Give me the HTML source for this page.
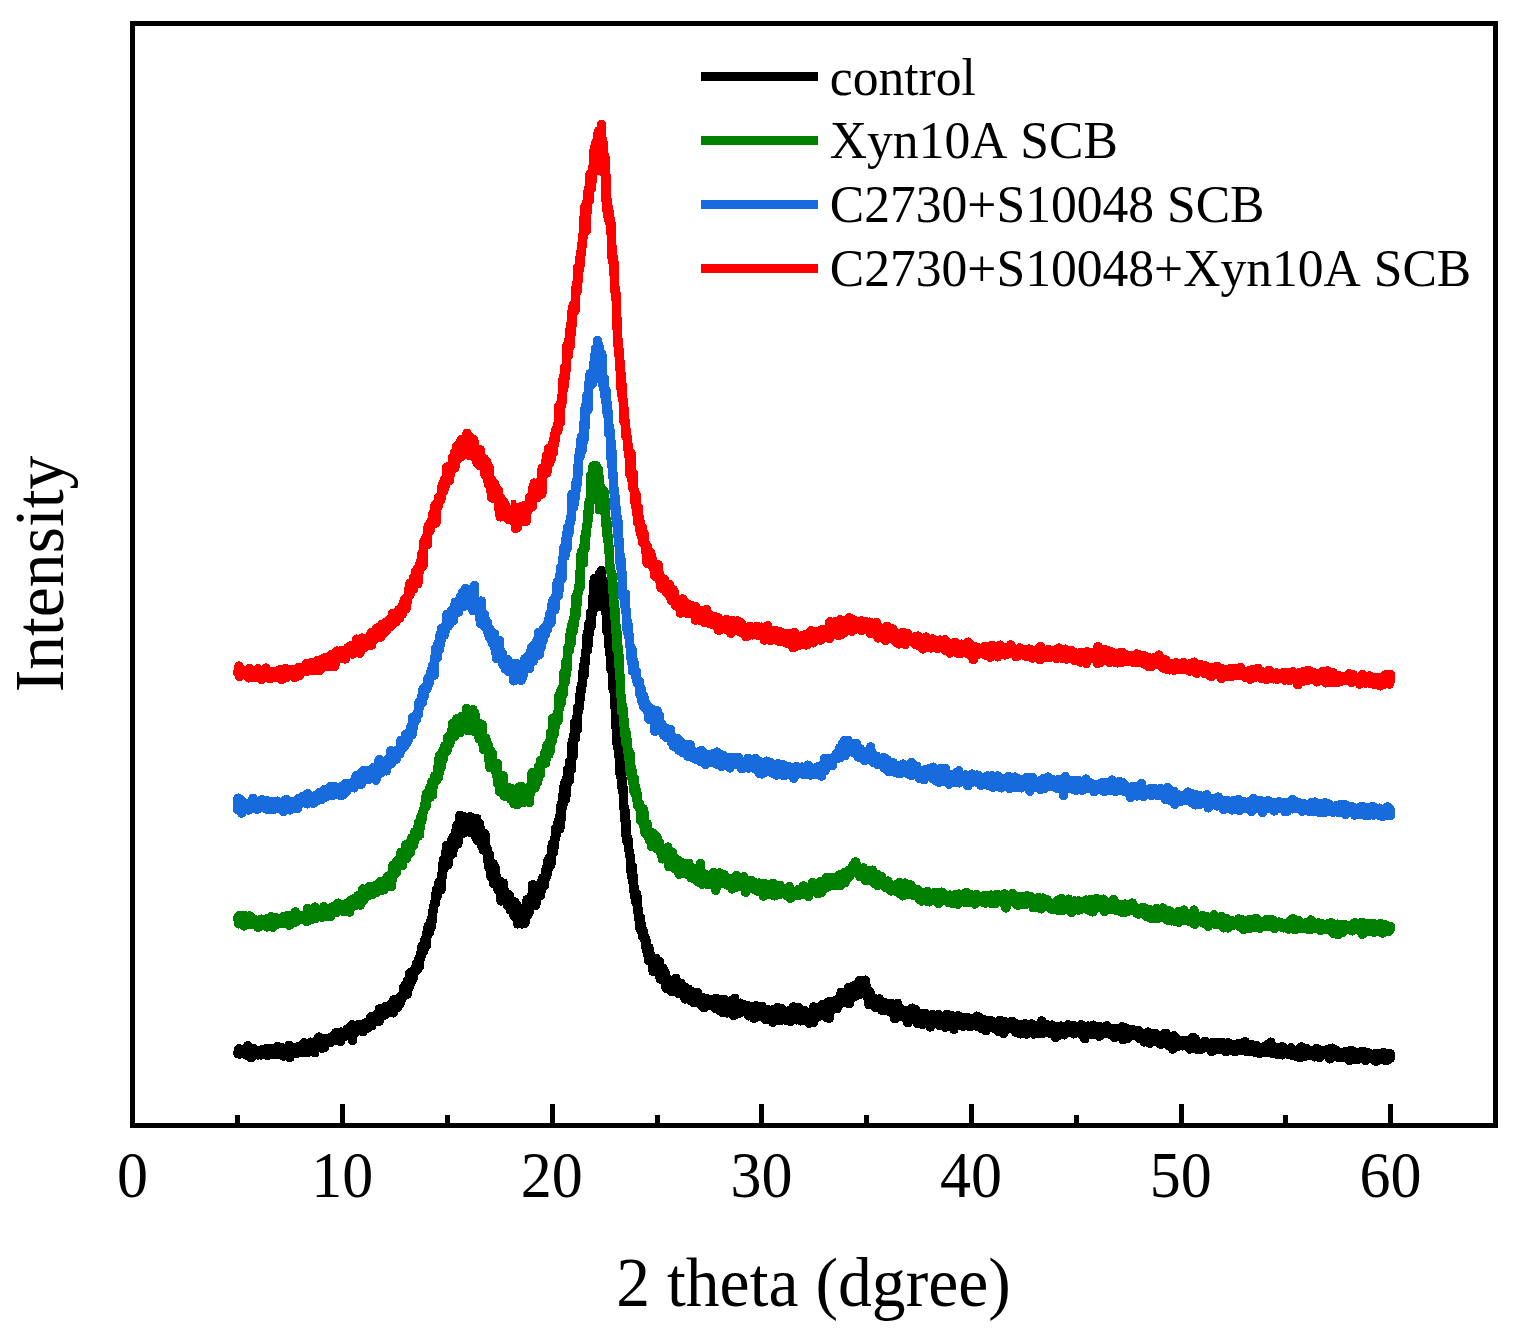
<!DOCTYPE html>
<html lang="en"><head><meta charset="utf-8"><title>XRD patterns</title>
<style>
html,body{margin:0;padding:0;background:#fff;}
body{width:1513px;height:1333px;overflow:hidden;}
svg{display:block;}
text{font-family:"Liberation Serif",serif;fill:#000;font-kerning:none;}
.c{fill:none;stroke-linejoin:round;stroke-linecap:round;}
</style></head><body>
<svg width="1513" height="1333" viewBox="0 0 1513 1333">
<rect x="0" y="0" width="1513" height="1333" fill="#fff"/>
<g class="c" shape-rendering="crispEdges" stroke="#000000">
<polyline stroke-width="9.5" points="237.7,1052.7 238.1,1053.8 238.5,1052.6 239.0,1048.7 239.4,1054.1 239.8,1053.0 240.2,1050.6 240.6,1053.3 241.1,1052.8 241.5,1052.7 241.9,1052.1 242.3,1053.3 242.7,1050.2 243.2,1051.7 243.6,1050.9 244.0,1053.5 244.4,1052.2 244.8,1051.4 245.3,1050.3 245.7,1051.5 246.1,1052.2 246.5,1051.5 246.9,1055.3 247.4,1054.7 247.8,1045.7 248.2,1047.7 248.6,1051.9 249.0,1051.3 249.5,1052.8 249.9,1052.9 250.3,1057.5 250.7,1049.7 251.1,1051.5 251.6,1057.3 252.0,1054.0 252.4,1054.1 252.8,1051.2 253.2,1048.5 253.7,1052.9 254.1,1052.8 254.5,1049.6 254.9,1050.9 255.3,1052.4 255.8,1050.3 256.2,1052.4 256.6,1052.9 257.0,1052.8 257.4,1051.5 257.9,1054.1 258.3,1054.9 258.7,1053.5 259.1,1050.8 259.5,1054.5 260.0,1051.6 260.4,1054.9 260.8,1050.2 261.2,1054.9 261.6,1052.7 262.1,1049.7 262.5,1051.9 262.9,1052.8 263.3,1053.3 263.7,1050.3 264.2,1049.9 264.6,1053.1 265.0,1051.4 265.4,1053.1 265.8,1054.4 266.3,1048.5 266.7,1053.1 267.1,1055.4 267.5,1051.7 267.9,1050.5 268.4,1054.2 268.8,1053.0 269.2,1054.5 269.6,1051.5 270.0,1048.8 270.5,1052.0 270.9,1051.2 271.3,1054.1 271.7,1052.7 272.1,1048.3 272.6,1049.3 273.0,1054.3 273.4,1053.8 273.8,1050.6 274.2,1052.1 274.7,1053.2 275.1,1053.2 275.5,1054.2 275.9,1052.7 276.3,1051.8 276.8,1051.4 277.2,1054.5 277.6,1046.5 278.0,1051.6 278.4,1052.0 278.9,1048.5 279.3,1052.7 279.7,1050.3 280.1,1053.9 280.5,1051.5 281.0,1053.4 281.4,1054.7 281.8,1052.7 282.2,1049.6 282.6,1048.1 283.1,1056.0 283.5,1051.4 283.9,1050.0 284.3,1052.0 284.7,1051.2 285.2,1053.7 285.6,1051.7 286.0,1051.6 286.4,1049.8 286.8,1052.7 287.3,1049.0 287.7,1053.1 288.1,1055.2 288.5,1047.8 288.9,1045.4 289.4,1052.9 289.8,1057.5 290.2,1048.9 290.6,1048.2 291.0,1052.6 291.5,1049.0 291.9,1049.7 292.3,1050.0 292.7,1052.1 293.1,1049.7 293.6,1051.2 294.0,1050.0 294.4,1048.3 294.8,1049.5 295.2,1047.8 295.7,1050.1 296.1,1047.2 296.5,1047.2 296.9,1053.4 297.3,1049.5 297.8,1049.4 298.2,1050.7 298.6,1048.3 299.0,1048.7 299.4,1050.2 299.9,1049.8 300.3,1046.1 300.7,1051.0 301.1,1047.3 301.5,1046.1 302.0,1046.4 302.4,1047.5 302.8,1052.4 303.2,1045.4 303.6,1048.6 304.1,1042.8 304.5,1048.0 304.9,1050.1 305.3,1047.2 305.7,1046.1 306.2,1048.2 306.6,1049.3 307.0,1049.1 307.4,1052.3 307.8,1047.7 308.3,1045.6 308.7,1046.7 309.1,1046.7 309.5,1047.1 309.9,1046.6 310.4,1047.0 310.8,1042.2 311.2,1048.4 311.6,1044.8 312.0,1043.1 312.5,1047.6 312.9,1049.2 313.3,1047.0 313.7,1046.0 314.1,1043.1 314.6,1052.7 315.0,1047.5 315.4,1042.2 315.8,1043.0 316.2,1045.1 316.7,1040.7 317.1,1045.0 317.5,1043.3 317.9,1047.5 318.3,1046.7 318.8,1037.1 319.2,1044.1 319.6,1039.6 320.0,1046.6 320.4,1044.0 320.9,1044.9 321.3,1040.6 321.7,1047.9 322.1,1048.3 322.5,1040.2 323.0,1043.8 323.4,1040.9 323.8,1042.5 324.2,1039.1 324.6,1047.2 325.1,1039.6 325.5,1041.3 325.9,1043.2 326.3,1040.1 326.7,1041.0 327.2,1040.1 327.6,1041.1 328.0,1038.2 328.4,1040.0 328.8,1040.5 329.3,1040.0 329.7,1040.9 330.1,1039.8 330.5,1042.5 330.9,1039.5 331.4,1039.8 331.8,1038.2 332.2,1038.4 332.6,1036.3 333.0,1040.9 333.5,1036.3 333.9,1037.1 334.3,1039.9 334.7,1039.9 335.1,1037.6 335.6,1033.0 336.0,1039.4 336.4,1038.8 336.8,1034.2 337.2,1039.9 337.7,1035.7 338.1,1034.4 338.5,1037.6 338.9,1036.6 339.3,1037.5 339.8,1032.4 340.2,1041.6 340.6,1034.8 341.0,1032.1 341.4,1037.8 341.9,1035.0 342.3,1036.7 342.7,1034.7 343.1,1035.3 343.5,1036.0 344.0,1033.1 344.4,1036.8 344.8,1033.5 345.2,1032.2 345.6,1034.7 346.1,1035.5 346.5,1033.5 346.9,1031.5 347.3,1035.5 347.7,1028.7 348.2,1030.6 348.6,1033.4 349.0,1029.3 349.4,1033.0 349.8,1032.6 350.3,1035.1 350.7,1029.8 351.1,1030.4 351.5,1032.9 351.9,1024.8 352.4,1040.3 352.8,1029.3 353.2,1029.0 353.6,1033.3 354.0,1030.6 354.5,1025.4 354.9,1032.0 355.3,1032.5 355.7,1028.6 356.1,1028.8 356.6,1030.8 357.0,1026.6 357.4,1030.3 357.8,1029.4 358.2,1026.6 358.7,1024.4 359.1,1027.5 359.5,1025.4 359.9,1030.6 360.3,1027.9 360.8,1029.6 361.2,1027.5 361.6,1027.7 362.0,1024.4 362.4,1028.4 362.9,1031.5 363.3,1025.2 363.7,1024.1 364.1,1025.2 364.5,1024.0 365.0,1023.2 365.4,1025.4 365.8,1023.9 366.2,1028.8 366.6,1024.4 367.1,1025.1 367.5,1026.8 367.9,1022.9 368.3,1027.8 368.7,1021.4 369.2,1020.7 369.6,1021.8 370.0,1022.3 370.4,1018.1 370.8,1022.0 371.3,1016.8 371.7,1025.7 372.1,1020.9 372.5,1018.9 372.9,1017.8 373.4,1019.1 373.8,1019.3 374.2,1016.5 374.6,1016.6 375.0,1018.5 375.5,1017.2 375.9,1021.3 376.3,1021.7 376.7,1017.9 377.1,1019.0 377.6,1013.1 378.0,1018.9 378.4,1016.6 378.8,1017.9 379.2,1021.0 379.7,1008.7 380.1,1016.3 380.5,1011.7 380.9,1016.7 381.3,1010.4 381.8,1012.7 382.2,1014.6 382.6,1015.6 383.0,1013.6 383.4,1010.5 383.9,1011.0 384.3,1015.2 384.7,1012.1 385.1,1006.5 385.5,1014.2 386.0,1012.5 386.4,1013.7 386.8,1009.5 387.2,1013.0 387.6,1006.6 388.1,1011.5 388.5,1007.8 388.9,1011.3 389.3,1012.0 389.7,1006.1 390.2,1008.0 390.6,1007.9 391.0,1011.3 391.4,1009.5 391.8,1002.9 392.3,1008.0 392.7,1008.6 393.1,1012.8 393.5,1000.0 393.9,1003.4 394.4,1009.2 394.8,1000.0 395.2,1000.2 395.6,1005.5 396.0,1006.8 396.5,1000.9 396.9,1004.6 397.3,1002.8 397.7,1007.2 398.1,1001.8 398.6,1004.7 399.0,997.9 399.4,999.9 399.8,999.7 400.2,1003.3 400.7,1000.8 401.1,995.6 401.5,999.7 401.9,999.3 402.3,995.5 402.8,994.2 403.2,993.6 403.6,987.6 404.0,993.3 404.4,992.7 404.9,988.0 405.3,992.9 405.7,984.6 406.1,986.7 406.5,986.2 407.0,994.2 407.4,980.6 407.8,987.5 408.2,988.1 408.6,985.2 409.1,987.3 409.5,978.5 409.9,973.0 410.3,983.2 410.7,975.1 411.2,977.4 411.6,973.3 412.0,980.6 412.4,978.9 412.8,972.0 413.3,977.2 413.7,973.3 414.1,971.3 414.5,971.1 414.9,969.1 415.4,971.3 415.8,969.1 416.2,965.6 416.6,969.9 417.0,962.7 417.5,965.2 417.9,964.7 418.3,967.9 418.7,959.1 419.1,966.9 419.6,959.6 420.0,956.9 420.4,953.8 420.8,957.5 421.2,954.0 421.7,947.9 422.1,946.3 422.5,947.2 422.9,945.2 423.3,951.0 423.8,950.7 424.2,947.2 424.6,943.6 425.0,938.8 425.4,939.4 425.9,941.4 426.3,945.3 426.7,938.6 427.1,932.1 427.5,932.0 428.0,928.3 428.4,925.5 428.8,926.6 429.2,926.8 429.6,932.5 430.1,923.1 430.5,927.4 430.9,927.6 431.3,918.4 431.7,923.6 432.2,917.8 432.6,910.9 433.0,912.2 433.4,909.3 433.8,906.3 434.3,904.6 434.7,904.3 435.1,903.8 435.5,895.9 435.9,898.2 436.4,889.3 436.8,895.9 437.2,895.9 437.6,892.0 438.0,890.8 438.5,890.5 438.9,882.7 439.3,883.0 439.7,884.9 440.1,885.5 440.6,880.8 441.0,889.6 441.4,874.6 441.8,878.2 442.2,877.6 442.7,868.7 443.1,863.4 443.5,859.7 443.9,864.8 444.3,868.0 444.8,862.3 445.2,860.5 445.6,856.6 446.0,860.4 446.4,845.6 446.9,856.9 447.3,855.1 447.7,847.0 448.1,864.6 448.5,845.4 449.0,846.2 449.4,844.8 449.8,856.0 450.2,844.8 450.6,852.2 451.1,851.0 451.5,848.5 451.9,839.5 452.3,842.3 452.7,853.5 453.2,836.9 453.6,838.4 454.0,840.9 454.4,845.0 454.8,841.0 455.3,842.5 455.7,831.7 456.1,841.3 456.5,838.2 456.9,825.4 457.4,841.1 457.8,844.1 458.2,826.4 458.6,829.7 459.0,835.9 459.5,819.2 459.9,815.4 460.3,818.3 460.7,821.5 461.1,820.8 461.6,826.8 462.0,824.6 462.4,816.1 462.8,825.9 463.2,833.0 463.7,829.3 464.1,828.2 464.5,822.9 464.9,828.3 465.3,817.7 465.8,827.3 466.2,822.9 466.6,829.7 467.0,826.3 467.4,818.0 467.9,824.8 468.3,831.0 468.7,818.4 469.1,821.7 469.5,820.7 470.0,816.9 470.4,830.5 470.8,832.6 471.2,829.9 471.6,827.0 472.1,825.5 472.5,827.2 472.9,822.1 473.3,831.1 473.7,832.0 474.2,831.6 474.6,823.8 475.0,827.4 475.4,826.3 475.8,837.3 476.3,829.1 476.7,818.5 477.1,831.5 477.5,840.3 477.9,834.6 478.4,836.5 478.8,832.9 479.2,823.1 479.6,825.0 480.0,829.1 480.5,836.2 480.9,839.7 481.3,843.0 481.7,838.7 482.1,846.8 482.6,841.5 483.0,840.6 483.4,850.0 483.8,842.0 484.2,833.7 484.7,843.7 485.1,851.0 485.5,835.8 485.9,851.2 486.3,852.6 486.8,848.2 487.2,849.1 487.6,855.6 488.0,856.4 488.4,866.8 488.9,863.5 489.3,854.6 489.7,859.4 490.1,868.3 490.5,875.3 491.0,868.6 491.4,869.1 491.8,877.8 492.2,869.2 492.6,868.6 493.1,864.0 493.5,869.4 493.9,883.7 494.3,866.6 494.7,874.6 495.2,868.5 495.6,877.0 496.0,881.6 496.4,876.9 496.8,882.6 497.3,883.4 497.7,882.9 498.1,890.0 498.5,886.3 498.9,881.9 499.4,880.9 499.8,881.0 500.2,888.3 500.6,885.3 501.0,900.9 501.5,897.5 501.9,888.5 502.3,888.8 502.7,899.3 503.1,883.1 503.6,890.8 504.0,898.3 504.4,890.3 504.8,893.2 505.2,894.6 505.7,900.2 506.1,898.5 506.5,900.5 506.9,902.2 507.3,900.3 507.8,906.0 508.2,898.2 508.6,895.7 509.0,894.8 509.4,896.3 509.9,902.0 510.3,910.1 510.7,906.8 511.1,904.0 511.5,902.6 512.0,905.8 512.4,907.0 512.8,907.0 513.2,903.7 513.6,908.6 514.1,916.0 514.5,902.1 514.9,911.4 515.3,903.5 515.7,914.4 516.2,910.8 516.6,905.3 517.0,915.7 517.4,923.9 517.8,916.8 518.3,922.0 518.7,917.0 519.1,908.2 519.5,920.6 519.9,917.0 520.4,912.9 520.8,923.2 521.2,921.3 521.6,917.8 522.0,923.9 522.5,915.9 522.9,922.3 523.3,914.6 523.7,920.6 524.1,912.5 524.6,923.3 525.0,917.0 525.4,921.5 525.8,910.5 526.2,911.3 526.7,916.4 527.1,899.4 527.5,906.2 527.9,914.9 528.3,911.5 528.8,913.1 529.2,906.4 529.6,909.6 530.0,902.8 530.4,899.0 530.9,896.7 531.3,901.2 531.7,900.4 532.1,899.2 532.5,884.8 533.0,891.2 533.4,897.3 533.8,900.3 534.2,895.5 534.6,893.3 535.1,885.8 535.5,905.5 535.9,890.0 536.3,902.4 536.7,901.1 537.2,894.2 537.6,889.4 538.0,892.1 538.4,885.2 538.8,891.2 539.3,889.2 539.7,891.0 540.1,892.3 540.5,895.3 540.9,884.3 541.4,890.5 541.8,880.8 542.2,879.6 542.6,880.2 543.0,877.6 543.5,886.4 543.9,885.2 544.3,886.0 544.7,878.6 545.1,879.0 545.6,873.6 546.0,869.5 546.4,876.1 546.8,873.8 547.2,865.6 547.7,872.6 548.1,859.5 548.5,866.0 548.9,862.2 549.3,861.3 549.8,856.9 550.2,865.7 550.6,862.1 551.0,863.5 551.4,856.2 551.9,846.9 552.3,849.6 552.7,843.4 553.1,849.9 553.5,851.9 554.0,845.2 554.4,838.4 554.8,837.8 555.2,839.0 555.6,828.4 556.1,835.3 556.5,833.9 556.9,828.3 557.3,827.3 557.7,828.9 558.2,821.9 558.6,820.2 559.0,827.3 559.4,822.5 559.8,828.7 560.3,812.2 560.7,805.9 561.1,819.0 561.5,817.1 561.9,805.6 562.4,799.5 562.8,805.4 563.2,793.6 563.6,799.5 564.0,786.8 564.5,795.6 564.9,782.5 565.3,791.0 565.7,798.8 566.1,786.1 566.6,789.8 567.0,779.1 567.4,775.3 567.8,769.3 568.2,781.9 568.7,773.0 569.1,780.6 569.5,761.4 569.9,764.7 570.3,764.1 570.8,769.7 571.2,769.7 571.6,752.2 572.0,746.7 572.4,740.4 572.9,756.8 573.3,745.5 573.7,739.4 574.1,740.5 574.5,722.3 575.0,724.8 575.4,738.7 575.8,732.5 576.2,728.0 576.6,717.7 577.1,724.8 577.5,729.4 577.9,707.0 578.3,711.9 578.7,705.9 579.2,707.9 579.6,702.6 580.0,698.4 580.4,690.4 580.8,693.0 581.3,685.8 581.7,685.7 582.1,682.9 582.5,684.3 582.9,672.4 583.4,670.5 583.8,676.2 584.2,663.6 584.6,659.5 585.0,663.6 585.5,656.1 585.9,651.6 586.3,649.5 586.7,636.6 587.1,646.0 587.6,649.7 588.0,642.1 588.4,624.7 588.8,635.2 589.2,624.1 589.7,626.0 590.1,625.3 590.5,612.4 590.9,626.9 591.3,613.1 591.8,615.7 592.2,611.2 592.6,613.3 593.0,609.4 593.4,587.5 593.9,596.6 594.3,578.8 594.7,589.5 595.1,596.6 595.5,596.6 596.0,597.9 596.4,584.1 596.8,587.8 597.2,584.7 597.6,592.0 598.1,592.9 598.5,577.0 598.9,606.5 599.3,576.9 599.7,573.0 600.2,579.4 600.6,580.1 601.0,578.7 601.4,570.6 601.8,588.2 602.3,580.0 602.7,594.2 603.1,596.7 603.5,580.8 603.9,587.0 604.4,591.0 604.8,604.2 605.2,606.7 605.6,612.1 606.0,608.1 606.5,620.7 606.9,631.3 607.3,615.2 607.7,626.8 608.1,633.3 608.6,633.8 609.0,636.6 609.4,653.5 609.8,653.3 610.2,653.5 610.7,645.7 611.1,669.9 611.5,660.5 611.9,657.9 612.3,663.6 612.8,667.0 613.2,689.7 613.6,682.4 614.0,687.8 614.4,680.2 614.9,706.7 615.3,702.7 615.7,709.7 616.1,727.7 616.5,724.5 617.0,740.6 617.4,747.0 617.8,733.1 618.2,747.1 618.6,741.8 619.1,754.5 619.5,764.0 619.9,753.8 620.3,776.7 620.7,768.0 621.2,767.0 621.6,777.6 622.0,787.4 622.4,779.3 622.8,791.9 623.3,788.6 623.7,807.9 624.1,806.5 624.5,807.6 624.9,820.1 625.4,811.4 625.8,820.5 626.2,836.7 626.6,829.9 627.0,841.7 627.5,839.3 627.9,838.4 628.3,844.6 628.7,850.0 629.1,851.2 629.6,852.7 630.0,856.4 630.4,856.2 630.8,867.4 631.2,871.8 631.7,876.3 632.1,866.4 632.5,881.9 632.9,880.5 633.3,876.1 633.8,886.1 634.2,892.1 634.6,893.2 635.0,896.7 635.4,900.3 635.9,902.6 636.3,900.8 636.7,893.8 637.1,902.5 637.5,910.1 638.0,908.7 638.4,916.3 638.8,919.0 639.2,917.8 639.6,928.1 640.1,917.4 640.5,927.8 640.9,923.6 641.3,924.2 641.7,932.0 642.2,928.7 642.6,936.9 643.0,930.1 643.4,937.0 643.8,934.9 644.3,939.0 644.7,939.9 645.1,938.0 645.5,946.6 645.9,939.9 646.4,942.1 646.8,950.9 647.2,952.3 647.6,952.1 648.0,951.8 648.5,960.7 648.9,947.6 649.3,950.6 649.7,950.6 650.1,959.3 650.6,957.9 651.0,962.2 651.4,962.7 651.8,959.0 652.2,957.7 652.7,958.0 653.1,971.5 653.5,967.6 653.9,967.0 654.3,964.1 654.8,965.4 655.2,965.4 655.6,966.1 656.0,958.6 656.4,968.1 656.9,967.3 657.3,970.3 657.7,970.5 658.1,973.4 658.5,970.5 659.0,974.1 659.4,961.8 659.8,967.8 660.2,978.9 660.6,968.3 661.1,972.3 661.5,976.4 661.9,970.9 662.3,977.4 662.7,969.8 663.2,968.5 663.6,971.1 664.0,970.4 664.4,976.9 664.8,976.3 665.3,979.1 665.7,974.5 666.1,988.2 666.5,978.9 666.9,979.5 667.4,981.8 667.8,979.7 668.2,978.8 668.6,981.8 669.0,985.3 669.5,984.9 669.9,986.3 670.3,981.3 670.7,981.0 671.1,991.5 671.6,983.9 672.0,986.9 672.4,988.3 672.8,991.2 673.2,981.7 673.7,985.2 674.1,985.8 674.5,986.7 674.9,979.5 675.3,988.0 675.8,978.4 676.2,989.9 676.6,991.0 677.0,991.4 677.4,985.2 677.9,993.0 678.3,986.7 678.7,985.6 679.1,986.7 679.5,987.3 680.0,991.1 680.4,993.5 680.8,983.4 681.2,989.1 681.6,994.3 682.1,992.0 682.5,993.2 682.9,986.4 683.3,995.1 683.7,986.5 684.2,992.8 684.6,997.1 685.0,999.0 685.4,994.4 685.8,995.9 686.3,990.9 686.7,991.5 687.1,997.4 687.5,993.6 687.9,993.3 688.4,989.1 688.8,994.7 689.2,996.6 689.6,991.8 690.0,993.0 690.5,1000.4 690.9,995.8 691.3,994.4 691.7,991.7 692.1,993.7 692.6,995.2 693.0,1000.9 693.4,994.4 693.8,1002.8 694.2,993.7 694.7,995.9 695.1,1000.2 695.5,996.7 695.9,994.9 696.3,997.5 696.8,999.7 697.2,992.6 697.6,997.7 698.0,998.4 698.4,997.6 698.9,1001.7 699.3,997.5 699.7,998.3 700.1,999.8 700.5,1002.3 701.0,999.3 701.4,1005.2 701.8,997.2 702.2,1004.7 702.6,997.6 703.1,1000.0 703.5,1001.9 703.9,1007.7 704.3,1003.9 704.7,999.6 705.2,1005.4 705.6,1000.5 706.0,998.6 706.4,1002.9 706.8,1001.8 707.3,1004.8 707.7,999.9 708.1,1003.1 708.5,1004.0 708.9,1002.9 709.4,1002.0 709.8,999.9 710.2,1005.3 710.6,1002.9 711.0,1004.2 711.5,1001.5 711.9,1002.8 712.3,999.4 712.7,1003.2 713.1,1005.6 713.6,1003.5 714.0,1006.1 714.4,1004.4 714.8,1008.0 715.2,1003.0 715.7,998.3 716.1,1005.2 716.5,1003.3 716.9,1000.8 717.3,1006.2 717.8,1005.1 718.2,1005.8 718.6,1003.3 719.0,1005.2 719.4,1005.5 719.9,1010.6 720.3,1002.6 720.7,1004.9 721.1,1006.2 721.5,999.5 722.0,1000.0 722.4,1012.5 722.8,999.7 723.2,1007.4 723.6,1002.9 724.1,1003.3 724.5,999.4 724.9,1003.0 725.3,1008.6 725.7,1001.6 726.2,1008.1 726.6,1007.3 727.0,1012.9 727.4,1004.8 727.8,1010.6 728.3,1009.4 728.7,1005.7 729.1,1001.2 729.5,1011.6 729.9,1002.3 730.4,1005.3 730.8,1009.8 731.2,1010.6 731.6,1004.3 732.0,1007.0 732.5,1006.4 732.9,1011.1 733.3,1015.5 733.7,1001.5 734.1,1010.4 734.6,998.3 735.0,1007.6 735.4,1004.1 735.8,1014.2 736.2,1008.3 736.7,1005.5 737.1,1006.3 737.5,1006.1 737.9,1008.7 738.3,1007.6 738.8,1010.3 739.2,1013.2 739.6,1010.6 740.0,1004.4 740.4,1003.2 740.9,1006.1 741.3,1012.0 741.7,1007.6 742.1,1006.6 742.5,1009.3 743.0,1004.3 743.4,1005.3 743.8,1010.7 744.2,1008.1 744.6,1007.7 745.1,1010.2 745.5,1007.4 745.9,1007.1 746.3,1007.9 746.7,1011.4 747.2,1009.7 747.6,1005.8 748.0,1008.7 748.4,1011.8 748.8,1015.8 749.3,1006.2 749.7,1011.0 750.1,1009.2 750.5,1012.8 750.9,1011.6 751.4,1015.0 751.8,1012.0 752.2,1008.7 752.6,1008.8 753.0,1011.9 753.5,1011.9 753.9,1018.4 754.3,1016.2 754.7,1007.2 755.1,1012.1 755.6,1006.8 756.0,1005.9 756.4,1013.6 756.8,1013.1 757.2,1008.1 757.7,1016.7 758.1,1008.4 758.5,1007.9 758.9,1013.8 759.3,1012.5 759.8,1011.4 760.2,1011.7 760.6,1012.7 761.0,1011.7 761.4,1011.7 761.9,1006.3 762.3,1008.1 762.7,1014.4 763.1,1010.3 763.5,1014.3 764.0,1016.6 764.4,1011.6 764.8,1013.7 765.2,1019.5 765.6,1015.2 766.1,1018.9 766.5,1018.0 766.9,1015.6 767.3,1013.0 767.7,1010.8 768.2,1010.0 768.6,1015.1 769.0,1015.1 769.4,1013.2 769.8,1016.5 770.3,1012.0 770.7,1017.5 771.1,1014.2 771.5,1014.0 771.9,1014.2 772.4,1014.0 772.8,1022.2 773.2,1009.4 773.6,1015.1 774.0,1018.5 774.5,1016.9 774.9,1013.8 775.3,1020.2 775.7,1011.4 776.1,1010.7 776.6,1016.6 777.0,1010.3 777.4,1007.4 777.8,1017.6 778.2,1017.2 778.7,1017.1 779.1,1013.3 779.5,1015.4 779.9,1011.8 780.3,1020.3 780.8,1017.3 781.2,1017.2 781.6,1008.8 782.0,1017.4 782.4,1019.5 782.9,1018.7 783.3,1017.4 783.7,1014.9 784.1,1013.8 784.5,1016.8 785.0,1016.1 785.4,1015.6 785.8,1013.9 786.2,1020.2 786.6,1011.3 787.1,1014.9 787.5,1013.1 787.9,1018.2 788.3,1019.4 788.7,1018.8 789.2,1017.3 789.6,1010.6 790.0,1021.5 790.4,1016.6 790.8,1014.6 791.3,1015.0 791.7,1013.9 792.1,1016.3 792.5,1016.0 792.9,1013.9 793.4,1007.0 793.8,1014.9 794.2,1016.5 794.6,1016.7 795.0,1014.6 795.5,1016.5 795.9,1018.3 796.3,1013.7 796.7,1019.8 797.1,1009.1 797.6,1011.3 798.0,1012.5 798.4,1007.7 798.8,1012.2 799.2,1019.3 799.7,1019.3 800.1,1015.7 800.5,1020.8 800.9,1016.2 801.3,1014.0 801.8,1016.3 802.2,1015.1 802.6,1017.9 803.0,1010.9 803.4,1018.8 803.9,1014.2 804.3,1018.4 804.7,1010.9 805.1,1014.5 805.5,1016.0 806.0,1018.6 806.4,1012.1 806.8,1021.1 807.2,1017.4 807.6,1014.3 808.1,1019.7 808.5,1016.3 808.9,1019.6 809.3,1023.2 809.7,1018.4 810.2,1014.4 810.6,1014.7 811.0,1017.8 811.4,1016.8 811.8,1013.3 812.3,1013.6 812.7,1017.6 813.1,1022.7 813.5,1007.0 813.9,1017.2 814.4,1014.1 814.8,1016.9 815.2,1017.0 815.6,1014.2 816.0,1010.6 816.5,1009.2 816.9,1007.5 817.3,1017.0 817.7,1012.3 818.1,1011.0 818.6,1011.6 819.0,1008.0 819.4,1013.0 819.8,1016.0 820.2,1015.3 820.7,1006.5 821.1,1015.6 821.5,1008.7 821.9,1004.8 822.3,1006.8 822.8,1007.5 823.2,1010.4 823.6,1007.0 824.0,1005.3 824.4,1009.1 824.9,1015.9 825.3,1007.3 825.7,1010.9 826.1,1009.5 826.5,1017.6 827.0,1002.8 827.4,1012.3 827.8,1004.4 828.2,1006.5 828.6,1007.9 829.1,1018.3 829.5,1005.3 829.9,1001.5 830.3,1011.6 830.7,1004.4 831.2,1006.1 831.6,1006.5 832.0,1006.6 832.4,1005.5 832.8,1006.7 833.3,1006.8 833.7,1008.1 834.1,1003.6 834.5,1002.3 834.9,1001.0 835.4,1006.2 835.8,1003.8 836.2,1005.5 836.6,1005.2 837.0,1008.7 837.5,1003.6 837.9,1005.1 838.3,998.4 838.7,998.5 839.1,1000.8 839.6,997.5 840.0,1003.6 840.4,996.6 840.8,1001.0 841.2,992.3 841.7,996.6 842.1,998.9 842.5,999.0 842.9,993.6 843.3,999.7 843.8,1002.5 844.2,1001.1 844.6,996.5 845.0,996.5 845.4,994.3 845.9,1000.2 846.3,1002.7 846.7,995.8 847.1,991.6 847.5,997.9 848.0,999.4 848.4,987.4 848.8,997.0 849.2,1003.7 849.6,998.8 850.1,997.6 850.5,996.8 850.9,998.8 851.3,991.5 851.7,991.5 852.2,995.4 852.6,991.2 853.0,994.0 853.4,986.0 853.8,994.8 854.3,994.7 854.7,991.4 855.1,991.4 855.5,996.0 855.9,986.0 856.4,986.2 856.8,985.1 857.2,987.0 857.6,984.4 858.0,987.7 858.5,984.8 858.9,981.4 859.3,980.6 859.7,990.0 860.1,985.0 860.6,984.0 861.0,984.5 861.4,983.8 861.8,986.6 862.2,985.7 862.7,981.6 863.1,981.1 863.5,980.5 863.9,980.6 864.3,990.8 864.8,983.3 865.2,980.2 865.6,985.3 866.0,986.4 866.4,991.2 866.9,987.8 867.3,993.7 867.7,994.0 868.1,997.8 868.5,1001.6 869.0,1004.6 869.4,1000.0 869.8,991.9 870.2,995.0 870.6,997.7 871.1,1004.3 871.5,1000.0 871.9,1002.2 872.3,998.0 872.7,1001.0 873.2,1001.8 873.6,998.3 874.0,1002.9 874.4,1004.3 874.8,1000.6 875.3,1004.9 875.7,1007.4 876.1,1002.5 876.5,1002.6 876.9,1001.9 877.4,1001.2 877.8,1003.9 878.2,1002.2 878.6,1002.7 879.0,1001.3 879.5,999.0 879.9,1001.1 880.3,1005.3 880.7,1000.5 881.1,1002.4 881.6,1010.0 882.0,1008.4 882.4,1002.5 882.8,1006.9 883.2,1002.9 883.7,1010.5 884.1,1003.4 884.5,1005.7 884.9,1010.0 885.3,1002.9 885.8,1010.0 886.2,1003.2 886.6,1006.7 887.0,1005.1 887.4,1005.9 887.9,1006.8 888.3,1006.2 888.7,1003.3 889.1,1009.6 889.5,1009.3 890.0,1011.4 890.4,1011.9 890.8,1003.3 891.2,1012.0 891.6,1012.3 892.1,1006.6 892.5,1011.9 892.9,1013.5 893.3,1007.3 893.7,1004.8 894.2,1008.4 894.6,1018.7 895.0,1010.7 895.4,1006.3 895.8,1009.6 896.3,1007.5 896.7,1009.7 897.1,1011.5 897.5,1003.3 897.9,1012.8 898.4,1016.4 898.8,1011.5 899.2,1011.1 899.6,1016.0 900.0,1008.8 900.5,1009.0 900.9,1008.7 901.3,1012.8 901.7,1014.7 902.1,1013.3 902.6,1015.4 903.0,1016.4 903.4,1015.4 903.8,1011.4 904.2,1013.2 904.7,1018.0 905.1,1010.9 905.5,1013.5 905.9,1013.1 906.3,1013.9 906.8,1011.2 907.2,1010.5 907.6,1022.7 908.0,1017.8 908.4,1012.7 908.9,1014.9 909.3,1017.2 909.7,1014.2 910.1,1017.2 910.5,1013.5 911.0,1014.4 911.4,1015.3 911.8,1014.3 912.2,1008.2 912.6,1015.9 913.1,1016.8 913.5,1017.5 913.9,1013.1 914.3,1017.3 914.7,1017.0 915.2,1010.9 915.6,1009.7 916.0,1018.1 916.4,1013.7 916.8,1019.9 917.3,1023.5 917.7,1015.1 918.1,1014.9 918.5,1017.1 918.9,1019.3 919.4,1013.8 919.8,1021.2 920.2,1020.5 920.6,1019.6 921.0,1016.0 921.5,1020.6 921.9,1020.5 922.3,1014.2 922.7,1024.4 923.1,1017.2 923.6,1019.3 924.0,1016.7 924.4,1019.5 924.8,1022.0 925.2,1016.0 925.7,1013.5 926.1,1017.3 926.5,1014.7 926.9,1016.4 927.3,1018.4 927.8,1018.7 928.2,1022.9 928.6,1015.9 929.0,1020.1 929.4,1017.6 929.9,1023.3 930.3,1026.9 930.7,1020.2 931.1,1024.5 931.5,1017.8 932.0,1014.6 932.4,1015.7 932.8,1014.8 933.2,1016.7 933.6,1019.0 934.1,1023.3 934.5,1022.0 934.9,1021.3 935.3,1018.7 935.7,1017.8 936.2,1020.2 936.6,1020.5 937.0,1021.0 937.4,1021.4 937.8,1019.9 938.3,1014.5 938.7,1017.0 939.1,1018.0 939.5,1025.7 939.9,1019.3 940.4,1022.7 940.8,1025.1 941.2,1021.8 941.6,1019.6 942.0,1020.0 942.5,1017.9 942.9,1021.9 943.3,1024.5 943.7,1022.8 944.1,1023.5 944.6,1023.4 945.0,1027.3 945.4,1019.4 945.8,1021.9 946.2,1023.6 946.7,1025.3 947.1,1014.3 947.5,1020.1 947.9,1021.1 948.3,1018.7 948.8,1024.4 949.2,1022.5 949.6,1020.7 950.0,1017.0 950.4,1018.0 950.9,1019.0 951.3,1023.3 951.7,1018.3 952.1,1015.7 952.5,1017.5 953.0,1020.1 953.4,1026.9 953.8,1029.4 954.2,1020.4 954.6,1024.6 955.1,1026.0 955.5,1025.6 955.9,1021.4 956.3,1017.8 956.7,1020.3 957.2,1016.1 957.6,1022.4 958.0,1024.0 958.4,1016.0 958.8,1021.5 959.3,1022.5 959.7,1025.4 960.1,1025.7 960.5,1024.0 960.9,1019.5 961.4,1020.4 961.8,1025.2 962.2,1019.7 962.6,1021.4 963.0,1026.2 963.5,1021.8 963.9,1017.3 964.3,1020.5 964.7,1023.3 965.1,1020.8 965.6,1024.9 966.0,1025.2 966.4,1019.4 966.8,1019.8 967.2,1021.0 967.7,1017.7 968.1,1022.4 968.5,1020.7 968.9,1023.6 969.3,1019.4 969.8,1018.6 970.2,1026.7 970.6,1018.5 971.0,1019.4 971.4,1018.9 971.9,1020.2 972.3,1018.3 972.7,1021.0 973.1,1019.0 973.5,1019.8 974.0,1022.2 974.4,1023.2 974.8,1022.5 975.2,1018.9 975.6,1022.4 976.1,1020.9 976.5,1021.0 976.9,1016.2 977.3,1023.4 977.7,1021.1 978.2,1026.7 978.6,1023.6 979.0,1018.4 979.4,1017.7 979.8,1025.3 980.3,1019.3 980.7,1024.1 981.1,1021.2 981.5,1028.5 981.9,1022.5 982.4,1026.9 982.8,1026.4 983.2,1021.1 983.6,1021.6 984.0,1027.1 984.5,1022.7 984.9,1020.2 985.3,1026.5 985.7,1030.6 986.1,1022.9 986.6,1027.3 987.0,1022.7 987.4,1027.3 987.8,1022.7 988.2,1027.4 988.7,1025.2 989.1,1023.1 989.5,1024.4 989.9,1022.2 990.3,1020.5 990.8,1020.8 991.2,1023.9 991.6,1021.0 992.0,1025.5 992.4,1025.9 992.9,1025.8 993.3,1023.0 993.7,1024.7 994.1,1024.6 994.5,1028.6 995.0,1022.4 995.4,1023.7 995.8,1024.3 996.2,1024.6 996.6,1022.9 997.1,1023.3 997.5,1028.2 997.9,1023.4 998.3,1028.1 998.7,1031.5 999.2,1029.3 999.6,1020.3 1000.0,1027.9 1000.4,1027.1 1000.8,1027.4 1001.3,1021.1 1001.7,1028.1 1002.1,1022.7 1002.5,1029.8 1002.9,1029.1 1003.4,1033.5 1003.8,1024.9 1004.2,1021.6 1004.6,1029.2 1005.0,1028.8 1005.5,1025.1 1005.9,1030.3 1006.3,1028.3 1006.7,1022.6 1007.1,1025.4 1007.6,1025.1 1008.0,1026.2 1008.4,1027.1 1008.8,1024.5 1009.2,1026.0 1009.7,1028.4 1010.1,1026.5 1010.5,1025.9 1010.9,1025.9 1011.3,1026.5 1011.8,1021.3 1012.2,1027.4 1012.6,1023.9 1013.0,1027.3 1013.4,1022.7 1013.9,1029.7 1014.3,1027.8 1014.7,1023.2 1015.1,1027.9 1015.5,1025.0 1016.0,1032.5 1016.4,1028.7 1016.8,1025.0 1017.2,1028.1 1017.6,1027.3 1018.1,1031.0 1018.5,1028.6 1018.9,1029.1 1019.3,1024.4 1019.7,1030.0 1020.2,1033.8 1020.6,1029.6 1021.0,1027.7 1021.4,1028.3 1021.8,1025.1 1022.3,1028.5 1022.7,1024.8 1023.1,1028.1 1023.5,1026.9 1023.9,1025.7 1024.4,1029.8 1024.8,1023.8 1025.2,1028.1 1025.6,1024.4 1026.0,1033.5 1026.5,1034.0 1026.9,1030.7 1027.3,1033.8 1027.7,1030.0 1028.1,1029.9 1028.6,1027.1 1029.0,1025.8 1029.4,1028.7 1029.8,1026.8 1030.2,1027.1 1030.7,1030.5 1031.1,1028.1 1031.5,1023.9 1031.9,1027.8 1032.3,1026.3 1032.8,1027.7 1033.2,1025.3 1033.6,1032.0 1034.0,1034.0 1034.4,1025.4 1034.9,1030.5 1035.3,1030.3 1035.7,1025.5 1036.1,1028.9 1036.5,1032.7 1037.0,1031.1 1037.4,1033.3 1037.8,1025.3 1038.2,1026.6 1038.6,1029.6 1039.1,1029.8 1039.5,1028.8 1039.9,1027.6 1040.3,1027.6 1040.7,1027.0 1041.2,1030.1 1041.6,1020.9 1042.0,1033.4 1042.4,1027.3 1042.8,1024.7 1043.3,1030.4 1043.7,1024.8 1044.1,1030.0 1044.5,1027.8 1044.9,1030.6 1045.4,1031.2 1045.8,1032.7 1046.2,1027.6 1046.6,1028.2 1047.0,1029.0 1047.5,1025.0 1047.9,1030.7 1048.3,1029.4 1048.7,1025.2 1049.1,1032.5 1049.6,1033.0 1050.0,1025.3 1050.4,1030.7 1050.8,1032.7 1051.2,1031.5 1051.7,1026.3 1052.1,1025.1 1052.5,1028.8 1052.9,1027.7 1053.3,1029.1 1053.8,1028.8 1054.2,1030.6 1054.6,1027.5 1055.0,1028.6 1055.4,1037.6 1055.9,1028.7 1056.3,1031.2 1056.7,1029.9 1057.1,1029.7 1057.5,1026.5 1058.0,1030.6 1058.4,1028.9 1058.8,1031.4 1059.2,1035.0 1059.6,1029.6 1060.1,1031.3 1060.5,1026.1 1060.9,1029.4 1061.3,1033.5 1061.7,1028.9 1062.2,1027.2 1062.6,1029.7 1063.0,1028.5 1063.4,1028.4 1063.8,1028.0 1064.3,1034.8 1064.7,1026.6 1065.1,1027.9 1065.5,1027.4 1065.9,1032.6 1066.4,1028.3 1066.8,1032.8 1067.2,1029.5 1067.6,1029.0 1068.0,1024.9 1068.5,1032.5 1068.9,1030.6 1069.3,1030.2 1069.7,1028.7 1070.1,1027.9 1070.6,1025.4 1071.0,1031.8 1071.4,1029.8 1071.8,1028.0 1072.2,1027.3 1072.7,1029.4 1073.1,1028.8 1073.5,1033.8 1073.9,1031.3 1074.3,1027.4 1074.8,1025.9 1075.2,1028.4 1075.6,1026.5 1076.0,1029.4 1076.4,1030.3 1076.9,1031.0 1077.3,1030.4 1077.7,1028.7 1078.1,1031.0 1078.5,1026.8 1079.0,1029.2 1079.4,1031.8 1079.8,1030.3 1080.2,1025.9 1080.6,1026.2 1081.1,1024.9 1081.5,1034.8 1081.9,1025.2 1082.3,1029.3 1082.7,1035.0 1083.2,1032.8 1083.6,1033.5 1084.0,1028.4 1084.4,1032.0 1084.8,1038.6 1085.3,1029.8 1085.7,1031.1 1086.1,1029.1 1086.5,1030.0 1086.9,1031.1 1087.4,1034.0 1087.8,1027.6 1088.2,1026.1 1088.6,1030.3 1089.0,1030.8 1089.5,1034.3 1089.9,1032.3 1090.3,1028.5 1090.7,1032.0 1091.1,1033.6 1091.6,1031.2 1092.0,1029.5 1092.4,1032.4 1092.8,1029.5 1093.2,1025.2 1093.7,1034.4 1094.1,1027.0 1094.5,1029.7 1094.9,1029.8 1095.3,1029.8 1095.8,1029.9 1096.2,1026.7 1096.6,1032.3 1097.0,1030.9 1097.4,1031.0 1097.9,1034.0 1098.3,1034.1 1098.7,1034.8 1099.1,1036.3 1099.5,1032.3 1100.0,1026.7 1100.4,1031.7 1100.8,1031.2 1101.2,1031.3 1101.6,1029.5 1102.1,1028.7 1102.5,1033.5 1102.9,1034.0 1103.3,1028.1 1103.7,1032.8 1104.2,1030.9 1104.6,1030.3 1105.0,1033.3 1105.4,1031.3 1105.8,1029.9 1106.3,1031.6 1106.7,1025.8 1107.1,1029.8 1107.5,1030.3 1107.9,1027.6 1108.4,1032.1 1108.8,1032.3 1109.2,1029.9 1109.6,1031.1 1110.0,1033.6 1110.5,1034.7 1110.9,1029.6 1111.3,1032.7 1111.7,1034.7 1112.1,1031.7 1112.6,1029.6 1113.0,1029.6 1113.4,1030.9 1113.8,1028.9 1114.2,1037.6 1114.7,1030.3 1115.1,1033.0 1115.5,1032.5 1115.9,1033.8 1116.3,1030.9 1116.8,1028.4 1117.2,1036.6 1117.6,1031.8 1118.0,1032.4 1118.4,1032.7 1118.9,1035.7 1119.3,1034.3 1119.7,1035.5 1120.1,1034.5 1120.5,1032.7 1121.0,1033.0 1121.4,1030.2 1121.8,1026.9 1122.2,1031.7 1122.6,1029.3 1123.1,1039.7 1123.5,1036.8 1123.9,1035.7 1124.3,1030.9 1124.7,1038.3 1125.2,1027.8 1125.6,1029.3 1126.0,1030.5 1126.4,1030.1 1126.8,1033.2 1127.3,1033.5 1127.7,1038.4 1128.1,1035.9 1128.5,1036.6 1128.9,1034.5 1129.4,1033.0 1129.8,1031.5 1130.2,1029.3 1130.6,1031.2 1131.0,1032.7 1131.5,1035.9 1131.9,1029.2 1132.3,1030.2 1132.7,1034.7 1133.1,1031.2 1133.6,1035.1 1134.0,1033.2 1134.4,1032.3 1134.8,1030.8 1135.2,1034.3 1135.7,1032.6 1136.1,1033.0 1136.5,1033.0 1136.9,1035.4 1137.3,1035.4 1137.8,1030.3 1138.2,1034.7 1138.6,1036.3 1139.0,1038.2 1139.4,1037.5 1139.9,1036.0 1140.3,1032.4 1140.7,1033.5 1141.1,1038.2 1141.5,1033.9 1142.0,1038.7 1142.4,1039.5 1142.8,1033.2 1143.2,1037.4 1143.6,1035.9 1144.1,1041.9 1144.5,1038.7 1144.9,1035.1 1145.3,1037.7 1145.7,1034.1 1146.2,1036.3 1146.6,1037.4 1147.0,1037.3 1147.4,1037.8 1147.8,1034.6 1148.3,1032.1 1148.7,1036.3 1149.1,1034.9 1149.5,1035.5 1149.9,1043.3 1150.4,1040.7 1150.8,1037.2 1151.2,1033.9 1151.6,1034.3 1152.0,1038.9 1152.5,1040.9 1152.9,1037.3 1153.3,1038.5 1153.7,1038.9 1154.1,1041.2 1154.6,1033.3 1155.0,1038.9 1155.4,1039.7 1155.8,1041.2 1156.2,1039.8 1156.7,1035.9 1157.1,1037.4 1157.5,1034.9 1157.9,1039.6 1158.3,1039.7 1158.8,1040.6 1159.2,1036.7 1159.6,1036.4 1160.0,1043.6 1160.4,1040.1 1160.9,1044.3 1161.3,1040.9 1161.7,1035.9 1162.1,1042.1 1162.5,1043.3 1163.0,1038.9 1163.4,1035.1 1163.8,1042.0 1164.2,1040.0 1164.6,1041.2 1165.1,1033.4 1165.5,1041.8 1165.9,1033.4 1166.3,1038.5 1166.7,1043.2 1167.2,1036.1 1167.6,1036.1 1168.0,1039.9 1168.4,1045.5 1168.8,1045.5 1169.3,1039.7 1169.7,1044.1 1170.1,1043.0 1170.5,1042.3 1170.9,1042.6 1171.4,1039.9 1171.8,1044.0 1172.2,1044.7 1172.6,1049.1 1173.0,1044.5 1173.5,1035.8 1173.9,1039.1 1174.3,1043.2 1174.7,1042.6 1175.1,1037.6 1175.6,1042.2 1176.0,1041.7 1176.4,1042.5 1176.8,1042.4 1177.2,1045.2 1177.7,1046.6 1178.1,1044.6 1178.5,1040.0 1178.9,1040.7 1179.3,1041.3 1179.8,1042.9 1180.2,1042.0 1180.6,1042.3 1181.0,1040.8 1181.4,1045.7 1181.9,1045.5 1182.3,1045.8 1182.7,1043.2 1183.1,1044.6 1183.5,1041.2 1184.0,1040.9 1184.4,1042.2 1184.8,1045.2 1185.2,1043.3 1185.6,1040.8 1186.1,1044.1 1186.5,1045.0 1186.9,1044.3 1187.3,1042.3 1187.7,1044.2 1188.2,1043.0 1188.6,1043.3 1189.0,1043.9 1189.4,1046.2 1189.8,1049.0 1190.3,1048.3 1190.7,1046.0 1191.1,1043.4 1191.5,1043.7 1191.9,1043.8 1192.4,1047.5 1192.8,1037.5 1193.2,1045.3 1193.6,1039.6 1194.0,1044.8 1194.5,1048.2 1194.9,1042.6 1195.3,1039.1 1195.7,1048.3 1196.1,1048.9 1196.6,1046.4 1197.0,1048.3 1197.4,1043.1 1197.8,1048.2 1198.2,1049.6 1198.7,1047.0 1199.1,1046.1 1199.5,1048.7 1199.9,1048.4 1200.3,1043.6 1200.8,1049.0 1201.2,1047.5 1201.6,1046.0 1202.0,1048.9 1202.4,1048.0 1202.9,1047.6 1203.3,1044.4 1203.7,1047.8 1204.1,1042.9 1204.5,1045.4 1205.0,1041.5 1205.4,1041.5 1205.8,1047.0 1206.2,1045.6 1206.6,1046.1 1207.1,1047.4 1207.5,1046.8 1207.9,1043.7 1208.3,1046.2 1208.7,1045.8 1209.2,1044.7 1209.6,1045.7 1210.0,1045.1 1210.4,1044.4 1210.8,1045.3 1211.3,1046.7 1211.7,1051.4 1212.1,1044.1 1212.5,1047.5 1212.9,1042.5 1213.4,1050.3 1213.8,1045.4 1214.2,1046.7 1214.6,1049.6 1215.0,1048.9 1215.5,1042.6 1215.9,1047.8 1216.3,1045.9 1216.7,1048.0 1217.1,1046.9 1217.6,1048.4 1218.0,1047.3 1218.4,1046.2 1218.8,1049.6 1219.2,1042.7 1219.7,1045.5 1220.1,1044.2 1220.5,1046.3 1220.9,1045.6 1221.3,1046.3 1221.8,1045.5 1222.2,1045.6 1222.6,1042.6 1223.0,1046.7 1223.4,1047.6 1223.9,1045.4 1224.3,1045.2 1224.7,1045.3 1225.1,1051.2 1225.5,1047.4 1226.0,1048.0 1226.4,1046.3 1226.8,1045.8 1227.2,1044.8 1227.6,1051.0 1228.1,1042.8 1228.5,1047.9 1228.9,1047.1 1229.3,1046.5 1229.7,1043.3 1230.2,1044.1 1230.6,1049.7 1231.0,1045.5 1231.4,1049.5 1231.8,1049.0 1232.3,1048.8 1232.7,1049.3 1233.1,1044.4 1233.5,1046.2 1233.9,1049.1 1234.4,1044.3 1234.8,1051.7 1235.2,1046.1 1235.6,1047.4 1236.0,1045.0 1236.5,1048.5 1236.9,1045.8 1237.3,1047.1 1237.7,1044.8 1238.1,1050.7 1238.6,1043.7 1239.0,1048.9 1239.4,1048.4 1239.8,1048.9 1240.2,1045.3 1240.7,1050.5 1241.1,1050.3 1241.5,1048.4 1241.9,1048.8 1242.3,1047.6 1242.8,1049.6 1243.2,1046.0 1243.6,1049.5 1244.0,1049.1 1244.4,1044.6 1244.9,1041.6 1245.3,1047.9 1245.7,1047.8 1246.1,1051.3 1246.5,1048.5 1247.0,1047.1 1247.4,1045.0 1247.8,1048.2 1248.2,1047.0 1248.6,1045.7 1249.1,1048.2 1249.5,1051.1 1249.9,1048.8 1250.3,1046.0 1250.7,1049.4 1251.2,1045.9 1251.6,1044.7 1252.0,1049.9 1252.4,1047.4 1252.8,1051.5 1253.3,1049.6 1253.7,1046.8 1254.1,1049.4 1254.5,1052.1 1254.9,1048.4 1255.4,1046.3 1255.8,1047.3 1256.2,1047.0 1256.6,1046.1 1257.0,1045.8 1257.5,1050.1 1257.9,1051.8 1258.3,1048.2 1258.7,1051.1 1259.1,1051.4 1259.6,1053.4 1260.0,1048.8 1260.4,1048.4 1260.8,1050.3 1261.2,1049.6 1261.7,1050.1 1262.1,1052.6 1262.5,1048.4 1262.9,1050.0 1263.3,1047.1 1263.8,1049.1 1264.2,1047.9 1264.6,1047.7 1265.0,1049.1 1265.4,1048.5 1265.9,1050.6 1266.3,1051.7 1266.7,1046.0 1267.1,1052.2 1267.5,1044.3 1268.0,1050.4 1268.4,1051.6 1268.8,1048.3 1269.2,1049.3 1269.6,1048.0 1270.1,1052.2 1270.5,1042.2 1270.9,1047.6 1271.3,1045.3 1271.7,1050.5 1272.2,1053.3 1272.6,1053.1 1273.0,1051.8 1273.4,1050.8 1273.8,1048.3 1274.3,1053.2 1274.7,1051.8 1275.1,1048.2 1275.5,1047.2 1275.9,1048.8 1276.4,1053.0 1276.8,1053.5 1277.2,1054.4 1277.6,1048.6 1278.0,1049.6 1278.5,1053.9 1278.9,1051.1 1279.3,1052.5 1279.7,1047.4 1280.1,1049.8 1280.6,1050.7 1281.0,1049.9 1281.4,1049.7 1281.8,1046.8 1282.2,1054.8 1282.7,1051.2 1283.1,1047.3 1283.5,1053.5 1283.9,1051.1 1284.3,1052.7 1284.8,1050.5 1285.2,1049.1 1285.6,1049.2 1286.0,1051.9 1286.4,1053.0 1286.9,1052.3 1287.3,1052.7 1287.7,1054.1 1288.1,1051.9 1288.5,1053.7 1289.0,1054.0 1289.4,1052.0 1289.8,1051.2 1290.2,1050.3 1290.6,1048.5 1291.1,1047.7 1291.5,1054.7 1291.9,1051.5 1292.3,1050.2 1292.7,1055.4 1293.2,1053.9 1293.6,1051.8 1294.0,1054.1 1294.4,1051.2 1294.8,1052.6 1295.3,1056.1 1295.7,1054.3 1296.1,1051.1 1296.5,1053.5 1296.9,1054.7 1297.4,1051.6 1297.8,1050.9 1298.2,1056.5 1298.6,1051.3 1299.0,1048.8 1299.5,1052.4 1299.9,1057.6 1300.3,1053.6 1300.7,1054.5 1301.1,1047.0 1301.6,1050.9 1302.0,1055.2 1302.4,1051.3 1302.8,1055.5 1303.2,1053.5 1303.7,1053.4 1304.1,1056.5 1304.5,1051.3 1304.9,1051.4 1305.3,1052.8 1305.8,1053.1 1306.2,1048.5 1306.6,1055.6 1307.0,1053.2 1307.4,1052.3 1307.9,1054.2 1308.3,1051.8 1308.7,1055.7 1309.1,1052.9 1309.5,1054.5 1310.0,1050.7 1310.4,1052.2 1310.8,1053.8 1311.2,1050.6 1311.6,1051.3 1312.1,1052.8 1312.5,1055.6 1312.9,1054.8 1313.3,1055.2 1313.7,1053.8 1314.2,1055.2 1314.6,1056.8 1315.0,1053.5 1315.4,1054.2 1315.8,1054.5 1316.3,1048.4 1316.7,1053.0 1317.1,1054.2 1317.5,1055.0 1317.9,1052.5 1318.4,1055.6 1318.8,1051.8 1319.2,1052.9 1319.6,1057.4 1320.0,1050.2 1320.5,1053.2 1320.9,1053.1 1321.3,1053.2 1321.7,1052.2 1322.1,1055.0 1322.6,1051.0 1323.0,1050.4 1323.4,1054.7 1323.8,1050.7 1324.2,1054.5 1324.7,1053.7 1325.1,1052.0 1325.5,1052.8 1325.9,1053.4 1326.3,1054.8 1326.8,1052.2 1327.2,1053.2 1327.6,1050.3 1328.0,1053.1 1328.4,1049.2 1328.9,1053.7 1329.3,1052.7 1329.7,1058.8 1330.1,1056.9 1330.5,1053.5 1331.0,1056.1 1331.4,1054.6 1331.8,1051.2 1332.2,1048.2 1332.6,1056.6 1333.1,1054.9 1333.5,1049.4 1333.9,1055.5 1334.3,1056.2 1334.7,1052.5 1335.2,1056.0 1335.6,1050.1 1336.0,1053.6 1336.4,1054.3 1336.8,1056.0 1337.3,1055.2 1337.7,1054.8 1338.1,1055.6 1338.5,1052.7 1338.9,1057.8 1339.4,1053.5 1339.8,1056.2 1340.2,1054.4 1340.6,1053.8 1341.0,1055.8 1341.5,1055.5 1341.9,1057.6 1342.3,1057.0 1342.7,1053.2 1343.1,1055.7 1343.6,1054.8 1344.0,1052.7 1344.4,1052.0 1344.8,1055.3 1345.2,1053.4 1345.7,1051.4 1346.1,1054.5 1346.5,1055.3 1346.9,1055.0 1347.3,1052.0 1347.8,1053.5 1348.2,1058.1 1348.6,1053.1 1349.0,1054.1 1349.4,1060.3 1349.9,1055.8 1350.3,1053.8 1350.7,1050.4 1351.1,1055.7 1351.5,1051.8 1352.0,1055.0 1352.4,1053.0 1352.8,1051.2 1353.2,1059.0 1353.6,1054.9 1354.1,1057.3 1354.5,1056.9 1354.9,1053.5 1355.3,1055.4 1355.7,1054.4 1356.2,1057.5 1356.6,1056.3 1357.0,1054.5 1357.4,1059.2 1357.8,1056.6 1358.3,1056.5 1358.7,1053.6 1359.1,1056.4 1359.5,1052.1 1359.9,1056.6 1360.4,1053.3 1360.8,1056.0 1361.2,1054.9 1361.6,1056.1 1362.0,1056.5 1362.5,1055.5 1362.9,1055.5 1363.3,1052.2 1363.7,1051.3 1364.1,1058.7 1364.6,1057.1 1365.0,1052.4 1365.4,1060.3 1365.8,1054.2 1366.2,1057.1 1366.7,1056.9 1367.1,1056.2 1367.5,1057.4 1367.9,1052.8 1368.3,1055.9 1368.8,1055.4 1369.2,1056.3 1369.6,1055.4 1370.0,1054.6 1370.4,1054.4 1370.9,1058.2 1371.3,1054.2 1371.7,1057.0 1372.1,1057.0 1372.5,1056.0 1373.0,1057.3 1373.4,1057.6 1373.8,1055.1 1374.2,1057.1 1374.6,1060.8 1375.1,1053.9 1375.5,1055.7 1375.9,1054.7 1376.3,1061.1 1376.7,1053.3 1377.2,1056.5 1377.6,1058.7 1378.0,1054.6 1378.4,1056.3 1378.8,1055.0 1379.3,1053.6 1379.7,1056.5 1380.1,1057.8 1380.5,1055.8 1380.9,1057.1 1381.4,1058.4 1381.8,1059.6 1382.2,1054.0 1382.6,1058.3 1383.0,1055.5 1383.5,1052.6 1383.9,1055.1 1384.3,1058.4 1384.7,1057.7 1385.1,1054.5 1385.6,1060.7 1386.0,1057.9 1386.4,1056.8 1386.8,1055.8 1387.2,1058.0 1387.7,1056.1 1388.1,1059.6 1388.5,1057.7 1388.9,1058.4 1389.3,1056.3 1389.8,1053.6 1390.2,1058.2 1390.6,1054.7"/>
<polyline stroke-width="6" points="860.5,991.0 860.5,996.0"/>
</g>
<g class="c" shape-rendering="crispEdges" stroke="#ff0000">
<polyline stroke-width="9.5" points="237.7,672.5 238.1,670.8 238.5,671.0 239.0,666.1 239.4,676.6 239.8,675.0 240.2,671.4 240.6,674.1 241.1,672.9 241.5,670.9 241.9,674.7 242.3,671.6 242.7,671.5 243.2,670.4 243.6,673.5 244.0,672.2 244.4,673.8 244.8,671.0 245.3,672.9 245.7,670.4 246.1,674.7 246.5,673.1 246.9,673.5 247.4,673.7 247.8,670.2 248.2,674.7 248.6,677.8 249.0,668.8 249.5,668.6 249.9,669.2 250.3,675.0 250.7,673.2 251.1,675.6 251.6,674.8 252.0,673.5 252.4,673.7 252.8,672.7 253.2,675.2 253.7,670.4 254.1,672.1 254.5,673.8 254.9,677.6 255.3,671.4 255.8,670.6 256.2,671.9 256.6,675.7 257.0,672.8 257.4,676.6 257.9,668.9 258.3,676.2 258.7,676.0 259.1,670.1 259.5,673.9 260.0,676.6 260.4,673.8 260.8,676.1 261.2,679.5 261.6,674.4 262.1,673.1 262.5,671.9 262.9,675.4 263.3,673.3 263.7,673.4 264.2,673.6 264.6,675.5 265.0,671.3 265.4,670.2 265.8,668.1 266.3,677.0 266.7,674.2 267.1,677.8 267.5,674.1 267.9,672.3 268.4,675.3 268.8,674.0 269.2,671.2 269.6,672.1 270.0,678.5 270.5,675.1 270.9,675.2 271.3,673.5 271.7,672.5 272.1,676.3 272.6,673.9 273.0,672.2 273.4,673.7 273.8,671.8 274.2,674.5 274.7,676.7 275.1,671.9 275.5,677.4 275.9,672.2 276.3,674.2 276.8,671.8 277.2,673.2 277.6,673.9 278.0,672.7 278.4,672.0 278.9,672.0 279.3,671.6 279.7,669.8 280.1,672.9 280.5,674.5 281.0,675.7 281.4,675.1 281.8,679.5 282.2,674.2 282.6,672.3 283.1,677.9 283.5,670.8 283.9,675.7 284.3,670.9 284.7,674.1 285.2,668.4 285.6,675.4 286.0,672.8 286.4,670.7 286.8,677.2 287.3,674.9 287.7,673.1 288.1,671.2 288.5,672.9 288.9,672.5 289.4,674.7 289.8,674.8 290.2,671.2 290.6,671.5 291.0,671.5 291.5,669.4 291.9,671.3 292.3,672.5 292.7,674.4 293.1,675.9 293.6,670.6 294.0,673.9 294.4,671.4 294.8,677.5 295.2,672.2 295.7,673.5 296.1,669.8 296.5,670.0 296.9,672.4 297.3,670.8 297.8,672.5 298.2,667.7 298.6,673.1 299.0,669.1 299.4,675.5 299.9,670.3 300.3,673.7 300.7,667.3 301.1,671.7 301.5,668.3 302.0,669.2 302.4,670.3 302.8,669.4 303.2,670.7 303.6,671.8 304.1,671.4 304.5,669.4 304.9,666.1 305.3,667.4 305.7,668.8 306.2,663.8 306.6,670.9 307.0,668.3 307.4,668.1 307.8,671.1 308.3,670.2 308.7,669.0 309.1,665.7 309.5,668.9 309.9,668.9 310.4,665.6 310.8,670.4 311.2,668.9 311.6,662.4 312.0,667.7 312.5,664.0 312.9,670.1 313.3,669.1 313.7,664.0 314.1,664.5 314.6,666.9 315.0,665.9 315.4,670.3 315.8,668.2 316.2,665.4 316.7,667.5 317.1,660.6 317.5,666.6 317.9,667.9 318.3,665.0 318.8,663.5 319.2,666.7 319.6,670.2 320.0,665.5 320.4,661.8 320.9,668.4 321.3,659.5 321.7,665.6 322.1,662.5 322.5,666.3 323.0,661.4 323.4,667.0 323.8,664.1 324.2,658.5 324.6,657.7 325.1,661.9 325.5,666.0 325.9,662.7 326.3,662.3 326.7,661.3 327.2,663.8 327.6,662.6 328.0,662.2 328.4,658.6 328.8,664.2 329.3,664.5 329.7,657.1 330.1,666.7 330.5,662.2 330.9,658.8 331.4,654.7 331.8,661.5 332.2,661.1 332.6,657.7 333.0,654.3 333.5,662.1 333.9,657.2 334.3,657.3 334.7,666.2 335.1,664.1 335.6,660.7 336.0,656.6 336.4,659.4 336.8,651.1 337.2,657.6 337.7,655.0 338.1,653.3 338.5,652.3 338.9,658.0 339.3,656.6 339.8,656.6 340.2,658.3 340.6,653.4 341.0,652.1 341.4,650.4 341.9,654.3 342.3,657.2 342.7,654.4 343.1,656.4 343.5,651.1 344.0,652.9 344.4,651.9 344.8,650.3 345.2,658.9 345.6,655.8 346.1,651.0 346.5,650.8 346.9,652.5 347.3,648.3 347.7,653.5 348.2,648.3 348.6,650.7 349.0,648.6 349.4,649.9 349.8,647.2 350.3,646.2 350.7,647.7 351.1,648.3 351.5,649.2 351.9,650.0 352.4,654.0 352.8,651.7 353.2,648.4 353.6,651.0 354.0,646.6 354.5,652.6 354.9,649.8 355.3,643.9 355.7,649.9 356.1,649.8 356.6,639.2 357.0,644.7 357.4,645.3 357.8,640.7 358.2,643.0 358.7,643.2 359.1,647.3 359.5,646.4 359.9,653.1 360.3,643.8 360.8,648.2 361.2,644.8 361.6,645.1 362.0,640.6 362.4,638.1 362.9,641.3 363.3,645.7 363.7,647.9 364.1,644.7 364.5,644.1 365.0,639.8 365.4,646.8 365.8,646.0 366.2,640.0 366.6,641.3 367.1,638.1 367.5,645.4 367.9,641.9 368.3,640.2 368.7,641.5 369.2,641.3 369.6,638.4 370.0,635.5 370.4,635.1 370.8,633.4 371.3,639.9 371.7,645.0 372.1,632.4 372.5,637.8 372.9,638.4 373.4,633.6 373.8,637.0 374.2,632.6 374.6,639.5 375.0,633.4 375.5,635.3 375.9,636.8 376.3,632.9 376.7,628.2 377.1,631.9 377.6,635.7 378.0,632.6 378.4,633.3 378.8,628.7 379.2,632.3 379.7,633.9 380.1,631.3 380.5,637.0 380.9,629.8 381.3,626.7 381.8,624.5 382.2,633.2 382.6,628.9 383.0,632.0 383.4,629.9 383.9,633.4 384.3,631.8 384.7,626.1 385.1,627.9 385.5,630.2 386.0,622.2 386.4,630.8 386.8,629.6 387.2,628.5 387.6,624.2 388.1,625.6 388.5,620.5 388.9,624.0 389.3,621.5 389.7,623.4 390.2,621.1 390.6,623.4 391.0,626.1 391.4,617.3 391.8,624.6 392.3,614.3 392.7,613.4 393.1,619.9 393.5,620.0 393.9,621.1 394.4,613.5 394.8,618.5 395.2,618.7 395.6,622.0 396.0,616.8 396.5,618.4 396.9,612.6 397.3,614.7 397.7,613.2 398.1,616.5 398.6,610.0 399.0,609.9 399.4,614.2 399.8,617.9 400.2,612.3 400.7,611.4 401.1,608.4 401.5,612.9 401.9,610.3 402.3,614.0 402.8,608.3 403.2,603.1 403.6,603.8 404.0,601.6 404.4,600.0 404.9,608.6 405.3,606.3 405.7,598.1 406.1,608.5 406.5,602.2 407.0,596.9 407.4,601.1 407.8,598.5 408.2,594.8 408.6,589.4 409.1,595.7 409.5,595.5 409.9,583.5 410.3,594.2 410.7,593.3 411.2,587.9 411.6,589.0 412.0,586.3 412.4,583.0 412.8,583.6 413.3,589.2 413.7,577.0 414.1,582.5 414.5,581.1 414.9,576.3 415.4,576.2 415.8,571.2 416.2,572.2 416.6,574.5 417.0,574.6 417.5,568.4 417.9,583.5 418.3,567.4 418.7,569.0 419.1,566.3 419.6,564.3 420.0,570.1 420.4,561.2 420.8,567.4 421.2,565.1 421.7,554.3 422.1,561.6 422.5,552.8 422.9,565.8 423.3,550.8 423.8,546.8 424.2,540.9 424.6,542.0 425.0,543.6 425.4,540.1 425.9,537.5 426.3,538.3 426.7,538.9 427.1,544.8 427.5,528.9 428.0,532.6 428.4,529.1 428.8,525.0 429.2,524.5 429.6,524.6 430.1,530.5 430.5,524.7 430.9,521.5 431.3,525.4 431.7,522.3 432.2,518.5 432.6,520.0 433.0,512.9 433.4,518.5 433.8,516.5 434.3,511.0 434.7,505.9 435.1,517.9 435.5,509.8 435.9,523.0 436.4,503.9 436.8,510.0 437.2,502.6 437.6,504.8 438.0,506.5 438.5,497.3 438.9,499.6 439.3,499.7 439.7,498.3 440.1,499.6 440.6,500.6 441.0,498.5 441.4,494.5 441.8,490.3 442.2,485.2 442.7,486.1 443.1,486.1 443.5,491.1 443.9,484.8 444.3,479.3 444.8,487.8 445.2,479.5 445.6,478.7 446.0,480.4 446.4,483.0 446.9,467.1 447.3,472.7 447.7,478.4 448.1,474.6 448.5,471.0 449.0,471.6 449.4,480.6 449.8,469.9 450.2,474.8 450.6,474.1 451.1,466.4 451.5,469.9 451.9,463.9 452.3,461.8 452.7,457.8 453.2,467.2 453.6,459.2 454.0,457.2 454.4,453.1 454.8,467.8 455.3,461.1 455.7,455.6 456.1,451.8 456.5,446.5 456.9,455.7 457.4,455.0 457.8,445.2 458.2,458.5 458.6,455.8 459.0,445.7 459.5,447.4 459.9,447.5 460.3,450.3 460.7,448.1 461.1,439.6 461.6,456.2 462.0,449.5 462.4,454.3 462.8,453.9 463.2,445.6 463.7,448.2 464.1,450.1 464.5,449.9 464.9,444.5 465.3,441.7 465.8,445.1 466.2,440.4 466.6,441.6 467.0,433.4 467.4,445.0 467.9,438.9 468.3,441.5 468.7,444.4 469.1,446.5 469.5,455.3 470.0,446.3 470.4,437.8 470.8,446.6 471.2,443.1 471.6,449.1 472.1,443.6 472.5,444.1 472.9,445.7 473.3,445.6 473.7,439.7 474.2,446.6 474.6,450.7 475.0,457.9 475.4,450.3 475.8,450.5 476.3,456.2 476.7,456.6 477.1,462.9 477.5,458.0 477.9,455.4 478.4,463.3 478.8,465.0 479.2,454.9 479.6,459.0 480.0,449.8 480.5,457.6 480.9,455.5 481.3,459.7 481.7,459.0 482.1,461.4 482.6,462.4 483.0,466.2 483.4,465.5 483.8,462.0 484.2,458.9 484.7,472.9 485.1,474.6 485.5,465.5 485.9,471.7 486.3,461.6 486.8,462.4 487.2,470.2 487.6,480.5 488.0,468.5 488.4,470.9 488.9,484.8 489.3,468.0 489.7,482.4 490.1,482.9 490.5,480.6 491.0,483.9 491.4,497.6 491.8,479.7 492.2,485.1 492.6,486.6 493.1,485.4 493.5,483.1 493.9,498.8 494.3,492.8 494.7,483.7 495.2,489.8 495.6,496.1 496.0,496.9 496.4,488.5 496.8,496.0 497.3,498.6 497.7,500.0 498.1,500.8 498.5,490.6 498.9,509.5 499.4,502.2 499.8,510.8 500.2,516.8 500.6,502.8 501.0,498.3 501.5,509.3 501.9,504.9 502.3,504.3 502.7,502.2 503.1,516.0 503.6,506.3 504.0,502.2 504.4,507.3 504.8,504.4 505.2,511.2 505.7,508.9 506.1,506.2 506.5,514.7 506.9,509.2 507.3,516.2 507.8,519.2 508.2,511.9 508.6,511.0 509.0,515.5 509.4,519.2 509.9,515.4 510.3,516.5 510.7,516.2 511.1,518.3 511.5,520.2 512.0,514.3 512.4,515.9 512.8,518.8 513.2,515.9 513.6,520.0 514.1,522.3 514.5,519.9 514.9,517.3 515.3,516.5 515.7,528.4 516.2,524.1 516.6,514.3 517.0,515.3 517.4,527.7 517.8,525.6 518.3,518.6 518.7,523.1 519.1,510.1 519.5,516.7 519.9,519.8 520.4,507.0 520.8,511.7 521.2,518.7 521.6,520.0 522.0,511.3 522.5,515.1 522.9,520.9 523.3,511.0 523.7,506.0 524.1,511.7 524.6,509.6 525.0,517.3 525.4,511.4 525.8,506.3 526.2,521.2 526.7,506.7 527.1,510.8 527.5,511.2 527.9,511.0 528.3,507.4 528.8,508.7 529.2,504.8 529.6,497.4 530.0,502.5 530.4,501.9 530.9,501.2 531.3,502.0 531.7,497.5 532.1,506.4 532.5,506.8 533.0,487.4 533.4,497.6 533.8,493.3 534.2,483.1 534.6,497.4 535.1,491.5 535.5,491.9 535.9,489.8 536.3,497.7 536.7,497.7 537.2,492.1 537.6,493.4 538.0,488.4 538.4,488.8 538.8,483.4 539.3,486.3 539.7,481.5 540.1,486.1 540.5,487.4 540.9,483.7 541.4,487.2 541.8,493.9 542.2,468.2 542.6,478.1 543.0,474.0 543.5,473.6 543.9,467.9 544.3,474.1 544.7,471.5 545.1,468.4 545.6,469.2 546.0,466.3 546.4,455.8 546.8,472.5 547.2,463.9 547.7,459.1 548.1,464.3 548.5,457.8 548.9,448.2 549.3,463.2 549.8,448.0 550.2,454.3 550.6,454.7 551.0,459.8 551.4,457.4 551.9,450.2 552.3,443.4 552.7,443.5 553.1,449.9 553.5,451.9 554.0,443.2 554.4,434.7 554.8,442.1 555.2,432.4 555.6,430.4 556.1,429.3 556.5,432.5 556.9,429.0 557.3,431.4 557.7,431.4 558.2,425.1 558.6,406.8 559.0,408.1 559.4,416.3 559.8,412.2 560.3,422.1 560.7,406.1 561.1,402.0 561.5,405.0 561.9,402.3 562.4,391.1 562.8,391.9 563.2,378.9 563.6,376.7 564.0,386.7 564.5,367.4 564.9,378.7 565.3,374.2 565.7,371.9 566.1,369.9 566.6,364.8 567.0,345.0 567.4,349.2 567.8,348.9 568.2,355.6 568.7,339.8 569.1,339.6 569.5,338.9 569.9,346.8 570.3,326.1 570.8,323.8 571.2,333.7 571.6,312.8 572.0,325.8 572.4,317.6 572.9,307.0 573.3,311.4 573.7,304.3 574.1,308.8 574.5,306.7 575.0,310.9 575.4,297.4 575.8,294.8 576.2,286.8 576.6,287.1 577.1,291.1 577.5,267.2 577.9,281.7 578.3,270.0 578.7,270.8 579.2,269.2 579.6,269.5 580.0,261.7 580.4,253.8 580.8,255.3 581.3,249.7 581.7,244.6 582.1,243.9 582.5,245.1 582.9,236.1 583.4,232.6 583.8,218.4 584.2,223.3 584.6,207.0 585.0,222.6 585.5,207.0 585.9,220.5 586.3,230.2 586.7,202.2 587.1,212.4 587.6,203.0 588.0,193.3 588.4,188.7 588.8,196.8 589.2,200.7 589.7,190.4 590.1,173.8 590.5,175.0 590.9,178.8 591.3,188.5 591.8,177.9 592.2,175.8 592.6,180.2 593.0,166.9 593.4,165.4 593.9,162.3 594.3,147.6 594.7,162.6 595.1,159.8 595.5,161.8 596.0,142.5 596.4,143.0 596.8,154.3 597.2,147.2 597.6,153.1 598.1,133.2 598.5,139.5 598.9,130.7 599.3,137.1 599.7,130.1 600.2,138.2 600.6,143.3 601.0,141.7 601.4,124.5 601.8,149.1 602.3,148.6 602.7,140.5 603.1,145.5 603.5,156.3 603.9,164.7 604.4,160.8 604.8,156.0 605.2,175.0 605.6,178.5 606.0,200.3 606.5,176.5 606.9,209.9 607.3,208.5 607.7,202.2 608.1,216.9 608.6,209.8 609.0,220.8 609.4,212.6 609.8,223.0 610.2,219.4 610.7,219.8 611.1,233.8 611.5,235.7 611.9,249.5 612.3,259.7 612.8,255.0 613.2,262.4 613.6,269.5 614.0,262.8 614.4,282.8 614.9,287.6 615.3,293.8 615.7,293.2 616.1,293.8 616.5,311.8 617.0,321.7 617.4,334.4 617.8,338.8 618.2,346.6 618.6,345.3 619.1,355.9 619.5,352.8 619.9,363.6 620.3,371.1 620.7,387.4 621.2,378.0 621.6,374.4 622.0,396.0 622.4,388.6 622.8,398.4 623.3,402.4 623.7,404.0 624.1,421.8 624.5,422.1 624.9,419.4 625.4,427.2 625.8,428.1 626.2,437.5 626.6,435.3 627.0,436.6 627.5,440.5 627.9,444.9 628.3,452.0 628.7,448.5 629.1,456.0 629.6,461.9 630.0,474.8 630.4,469.8 630.8,452.4 631.2,468.3 631.7,471.8 632.1,478.4 632.5,487.6 632.9,486.2 633.3,473.5 633.8,489.5 634.2,491.3 634.6,495.5 635.0,502.9 635.4,493.4 635.9,506.7 636.3,495.7 636.7,506.5 637.1,510.5 637.5,522.1 638.0,510.1 638.4,507.7 638.8,521.4 639.2,517.3 639.6,530.0 640.1,521.6 640.5,522.9 640.9,534.6 641.3,531.0 641.7,536.9 642.2,527.3 642.6,542.8 643.0,534.0 643.4,541.7 643.8,534.9 644.3,533.8 644.7,540.9 645.1,544.2 645.5,551.7 645.9,547.6 646.4,550.4 646.8,551.4 647.2,563.3 647.6,547.3 648.0,557.4 648.5,552.4 648.9,555.2 649.3,552.8 649.7,561.1 650.1,551.8 650.6,552.6 651.0,558.3 651.4,555.3 651.8,564.2 652.2,566.2 652.7,560.1 653.1,567.6 653.5,562.5 653.9,566.1 654.3,567.3 654.8,576.0 655.2,569.1 655.6,566.3 656.0,567.1 656.4,576.6 656.9,565.6 657.3,571.3 657.7,572.4 658.1,564.8 658.5,573.5 659.0,580.2 659.4,577.8 659.8,574.0 660.2,581.2 660.6,581.2 661.1,588.0 661.5,577.7 661.9,579.8 662.3,582.3 662.7,582.3 663.2,583.9 663.6,583.9 664.0,582.4 664.4,579.5 664.8,584.4 665.3,581.8 665.7,583.9 666.1,586.5 666.5,591.2 666.9,593.1 667.4,586.4 667.8,592.1 668.2,594.5 668.6,591.7 669.0,586.1 669.5,584.6 669.9,596.3 670.3,597.3 670.7,595.3 671.1,590.8 671.6,600.7 672.0,600.3 672.4,596.0 672.8,595.8 673.2,589.8 673.7,600.4 674.1,592.1 674.5,601.1 674.9,601.8 675.3,599.9 675.8,605.9 676.2,599.3 676.6,603.2 677.0,604.4 677.4,602.9 677.9,600.9 678.3,607.4 678.7,604.8 679.1,603.0 679.5,603.4 680.0,604.8 680.4,613.0 680.8,605.3 681.2,604.3 681.6,601.6 682.1,601.3 682.5,599.0 682.9,607.0 683.3,606.5 683.7,602.9 684.2,601.5 684.6,605.9 685.0,605.4 685.4,602.7 685.8,608.9 686.3,608.5 686.7,608.1 687.1,611.2 687.5,606.4 687.9,613.8 688.4,605.5 688.8,611.2 689.2,611.9 689.6,608.9 690.0,611.3 690.5,605.7 690.9,605.2 691.3,610.0 691.7,608.4 692.1,613.3 692.6,611.5 693.0,613.8 693.4,613.0 693.8,612.8 694.2,612.6 694.7,611.2 695.1,611.1 695.5,620.1 695.9,607.0 696.3,612.7 696.8,617.1 697.2,615.3 697.6,619.0 698.0,616.2 698.4,610.1 698.9,613.6 699.3,610.1 699.7,618.6 700.1,620.5 700.5,614.1 701.0,617.8 701.4,614.7 701.8,611.4 702.2,615.1 702.6,611.4 703.1,615.2 703.5,618.1 703.9,620.2 704.3,622.4 704.7,617.0 705.2,619.2 705.6,620.1 706.0,620.8 706.4,609.4 706.8,616.7 707.3,622.4 707.7,616.0 708.1,620.9 708.5,623.1 708.9,614.0 709.4,620.0 709.8,621.6 710.2,621.0 710.6,615.9 711.0,622.3 711.5,619.4 711.9,624.1 712.3,622.9 712.7,619.7 713.1,622.2 713.6,619.4 714.0,619.4 714.4,616.6 714.8,621.2 715.2,624.8 715.7,622.6 716.1,622.2 716.5,620.2 716.9,620.7 717.3,625.0 717.8,617.6 718.2,629.7 718.6,622.6 719.0,630.3 719.4,627.1 719.9,621.9 720.3,625.9 720.7,624.5 721.1,625.4 721.5,626.7 722.0,622.4 722.4,622.4 722.8,623.2 723.2,620.3 723.6,624.2 724.1,626.0 724.5,626.3 724.9,626.3 725.3,624.5 725.7,628.6 726.2,619.4 726.6,625.1 727.0,625.5 727.4,629.8 727.8,629.2 728.3,629.8 728.7,627.3 729.1,630.5 729.5,624.2 729.9,627.7 730.4,620.6 730.8,633.2 731.2,632.8 731.6,625.7 732.0,624.9 732.5,620.8 732.9,622.6 733.3,628.1 733.7,627.2 734.1,622.9 734.6,626.1 735.0,625.6 735.4,629.3 735.8,630.1 736.2,627.1 736.7,628.2 737.1,627.8 737.5,621.0 737.9,628.5 738.3,627.7 738.8,630.5 739.2,622.0 739.6,630.6 740.0,626.1 740.4,629.2 740.9,632.4 741.3,623.7 741.7,624.3 742.1,631.9 742.5,625.1 743.0,625.8 743.4,631.0 743.8,628.4 744.2,631.7 744.6,630.3 745.1,629.3 745.5,632.7 745.9,636.7 746.3,629.4 746.7,634.6 747.2,633.6 747.6,630.3 748.0,631.6 748.4,627.1 748.8,628.3 749.3,631.3 749.7,630.3 750.1,634.8 750.5,626.4 750.9,629.8 751.4,628.8 751.8,630.4 752.2,634.8 752.6,627.2 753.0,633.9 753.5,629.4 753.9,630.3 754.3,634.6 754.7,630.6 755.1,633.7 755.6,632.1 756.0,631.2 756.4,630.7 756.8,626.4 757.2,629.6 757.7,632.7 758.1,632.9 758.5,627.5 758.9,635.6 759.3,634.3 759.8,628.4 760.2,629.3 760.6,634.3 761.0,627.2 761.4,630.5 761.9,632.8 762.3,632.7 762.7,633.0 763.1,634.5 763.5,630.8 764.0,631.9 764.4,640.1 764.8,629.1 765.2,632.2 765.6,634.1 766.1,631.8 766.5,637.8 766.9,634.3 767.3,636.5 767.7,625.9 768.2,638.1 768.6,638.0 769.0,632.1 769.4,638.7 769.8,635.5 770.3,637.7 770.7,640.6 771.1,635.2 771.5,631.8 771.9,635.0 772.4,631.1 772.8,632.7 773.2,632.9 773.6,633.2 774.0,639.2 774.5,638.3 774.9,632.9 775.3,639.4 775.7,630.6 776.1,633.9 776.6,635.7 777.0,640.0 777.4,638.6 777.8,637.9 778.2,640.7 778.7,638.9 779.1,641.1 779.5,634.4 779.9,631.7 780.3,635.8 780.8,639.8 781.2,638.1 781.6,640.2 782.0,639.8 782.4,639.3 782.9,640.3 783.3,635.6 783.7,641.4 784.1,634.9 784.5,637.8 785.0,633.9 785.4,640.0 785.8,633.7 786.2,643.0 786.6,634.5 787.1,639.6 787.5,638.5 787.9,636.3 788.3,643.0 788.7,637.9 789.2,643.9 789.6,636.3 790.0,637.1 790.4,633.5 790.8,641.5 791.3,642.7 791.7,640.7 792.1,639.6 792.5,637.3 792.9,647.5 793.4,642.7 793.8,634.8 794.2,639.6 794.6,632.6 795.0,645.5 795.5,646.7 795.9,645.1 796.3,640.4 796.7,638.6 797.1,636.1 797.6,641.9 798.0,637.9 798.4,639.0 798.8,638.1 799.2,639.0 799.7,642.7 800.1,645.0 800.5,640.2 800.9,639.7 801.3,636.1 801.8,635.7 802.2,636.1 802.6,642.1 803.0,640.0 803.4,642.2 803.9,640.4 804.3,637.7 804.7,635.0 805.1,637.7 805.5,634.3 806.0,644.9 806.4,639.4 806.8,637.3 807.2,644.6 807.6,637.1 808.1,640.0 808.5,637.6 808.9,639.2 809.3,636.8 809.7,639.5 810.2,642.3 810.6,633.8 811.0,630.7 811.4,641.8 811.8,638.0 812.3,640.1 812.7,636.4 813.1,642.0 813.5,642.8 813.9,633.3 814.4,639.0 814.8,634.8 815.2,631.5 815.6,635.5 816.0,638.2 816.5,631.9 816.9,632.0 817.3,639.9 817.7,636.0 818.1,637.0 818.6,632.0 819.0,633.4 819.4,635.7 819.8,635.8 820.2,635.6 820.7,640.1 821.1,635.4 821.5,629.8 821.9,631.8 822.3,634.3 822.8,638.4 823.2,632.0 823.6,632.8 824.0,633.8 824.4,631.5 824.9,631.0 825.3,632.7 825.7,636.5 826.1,634.7 826.5,632.0 827.0,634.1 827.4,628.4 827.8,635.7 828.2,634.6 828.6,633.0 829.1,626.6 829.5,638.3 829.9,622.0 830.3,628.1 830.7,628.2 831.2,633.2 831.6,625.9 832.0,631.4 832.4,629.9 832.8,629.3 833.3,632.9 833.7,634.6 834.1,631.0 834.5,628.6 834.9,621.9 835.4,634.0 835.8,628.0 836.2,622.7 836.6,629.2 837.0,633.3 837.5,627.8 837.9,624.3 838.3,635.4 838.7,629.8 839.1,628.8 839.6,630.8 840.0,620.0 840.4,626.9 840.8,626.4 841.2,634.3 841.7,624.7 842.1,624.5 842.5,621.6 842.9,623.3 843.3,625.2 843.8,626.6 844.2,624.9 844.6,632.2 845.0,627.0 845.4,627.5 845.9,629.9 846.3,627.4 846.7,623.5 847.1,620.0 847.5,626.5 848.0,622.5 848.4,629.7 848.8,622.7 849.2,617.8 849.6,625.5 850.1,628.9 850.5,624.6 850.9,626.0 851.3,625.9 851.7,631.2 852.2,626.4 852.6,625.3 853.0,623.3 853.4,619.9 853.8,630.2 854.3,629.3 854.7,622.2 855.1,627.5 855.5,626.6 855.9,624.2 856.4,624.4 856.8,628.0 857.2,621.5 857.6,623.8 858.0,625.3 858.5,625.5 858.9,624.9 859.3,626.3 859.7,627.4 860.1,622.6 860.6,625.9 861.0,623.9 861.4,630.7 861.8,621.0 862.2,625.0 862.7,628.2 863.1,624.9 863.5,624.8 863.9,624.3 864.3,627.2 864.8,622.4 865.2,626.1 865.6,626.2 866.0,621.7 866.4,627.7 866.9,625.3 867.3,628.0 867.7,630.0 868.1,628.4 868.5,623.4 869.0,628.5 869.4,622.2 869.8,625.1 870.2,633.4 870.6,627.9 871.1,633.2 871.5,627.6 871.9,628.3 872.3,624.7 872.7,631.6 873.2,628.0 873.6,630.8 874.0,630.3 874.4,630.7 874.8,630.2 875.3,629.1 875.7,629.3 876.1,627.2 876.5,622.6 876.9,631.3 877.4,636.7 877.8,633.6 878.2,637.9 878.6,631.9 879.0,627.4 879.5,627.5 879.9,633.3 880.3,632.2 880.7,630.7 881.1,633.8 881.6,628.7 882.0,633.5 882.4,631.0 882.8,632.6 883.2,636.1 883.7,632.0 884.1,637.1 884.5,637.1 884.9,630.5 885.3,640.7 885.8,629.3 886.2,633.1 886.6,636.0 887.0,626.4 887.4,637.3 887.9,637.8 888.3,633.9 888.7,635.2 889.1,635.2 889.5,633.9 890.0,638.2 890.4,633.6 890.8,634.8 891.2,636.3 891.6,637.9 892.1,638.8 892.5,630.7 892.9,629.0 893.3,635.2 893.7,635.6 894.2,632.4 894.6,637.0 895.0,638.1 895.4,637.5 895.8,641.6 896.3,633.2 896.7,636.7 897.1,642.9 897.5,639.0 897.9,633.4 898.4,637.7 898.8,640.9 899.2,643.9 899.6,639.5 900.0,641.2 900.5,634.1 900.9,637.0 901.3,641.7 901.7,635.0 902.1,637.9 902.6,632.3 903.0,643.0 903.4,638.0 903.8,640.4 904.2,634.0 904.7,634.7 905.1,644.6 905.5,638.0 905.9,637.4 906.3,640.9 906.8,641.1 907.2,633.4 907.6,636.6 908.0,639.9 908.4,639.9 908.9,641.1 909.3,638.8 909.7,639.3 910.1,641.0 910.5,638.3 911.0,638.0 911.4,639.0 911.8,640.8 912.2,640.4 912.6,639.5 913.1,640.3 913.5,641.0 913.9,642.2 914.3,642.4 914.7,637.4 915.2,644.5 915.6,636.6 916.0,643.3 916.4,639.5 916.8,643.5 917.3,645.1 917.7,636.1 918.1,643.8 918.5,642.9 918.9,640.7 919.4,643.3 919.8,640.7 920.2,642.7 920.6,639.1 921.0,644.9 921.5,644.3 921.9,644.9 922.3,640.6 922.7,648.4 923.1,648.9 923.6,642.6 924.0,641.7 924.4,641.8 924.8,645.2 925.2,646.3 925.7,641.0 926.1,637.1 926.5,644.8 926.9,643.3 927.3,644.0 927.8,645.2 928.2,640.3 928.6,643.9 929.0,642.9 929.4,645.0 929.9,647.7 930.3,644.0 930.7,641.5 931.1,647.9 931.5,646.4 932.0,643.7 932.4,638.9 932.8,641.8 933.2,644.9 933.6,646.2 934.1,643.0 934.5,646.0 934.9,642.9 935.3,643.6 935.7,646.5 936.2,644.2 936.6,645.5 937.0,647.8 937.4,648.6 937.8,643.5 938.3,644.6 938.7,641.4 939.1,641.5 939.5,646.4 939.9,644.0 940.4,640.1 940.8,647.3 941.2,643.3 941.6,645.0 942.0,647.2 942.5,647.2 942.9,645.9 943.3,640.2 943.7,647.9 944.1,644.5 944.6,642.2 945.0,639.9 945.4,650.5 945.8,647.0 946.2,647.0 946.7,648.6 947.1,646.6 947.5,642.5 947.9,649.0 948.3,650.0 948.8,648.7 949.2,651.8 949.6,652.9 950.0,645.0 950.4,646.1 950.9,650.1 951.3,648.1 951.7,648.2 952.1,650.4 952.5,649.9 953.0,646.5 953.4,648.2 953.8,645.8 954.2,647.4 954.6,644.7 955.1,642.3 955.5,646.7 955.9,646.5 956.3,650.9 956.7,652.9 957.2,648.5 957.6,649.8 958.0,646.6 958.4,645.8 958.8,647.8 959.3,647.8 959.7,649.6 960.1,649.1 960.5,653.7 960.9,648.3 961.4,644.2 961.8,649.4 962.2,647.2 962.6,649.8 963.0,652.5 963.5,647.4 963.9,649.1 964.3,650.9 964.7,646.7 965.1,650.2 965.6,651.2 966.0,652.0 966.4,652.9 966.8,651.4 967.2,651.0 967.7,645.9 968.1,642.2 968.5,647.2 968.9,654.2 969.3,650.5 969.8,643.7 970.2,649.0 970.6,651.4 971.0,645.0 971.4,652.1 971.9,647.2 972.3,653.6 972.7,650.7 973.1,659.6 973.5,646.9 974.0,651.6 974.4,646.6 974.8,654.2 975.2,651.3 975.6,653.6 976.1,651.2 976.5,647.6 976.9,649.1 977.3,647.4 977.7,647.9 978.2,651.3 978.6,654.0 979.0,653.4 979.4,652.4 979.8,649.3 980.3,652.4 980.7,648.4 981.1,651.5 981.5,653.3 981.9,650.3 982.4,649.5 982.8,649.6 983.2,652.6 983.6,649.9 984.0,646.7 984.5,649.6 984.9,647.7 985.3,655.1 985.7,650.8 986.1,646.5 986.6,651.5 987.0,652.8 987.4,651.8 987.8,649.7 988.2,651.1 988.7,651.5 989.1,653.6 989.5,651.7 989.9,657.2 990.3,650.1 990.8,655.1 991.2,650.7 991.6,645.7 992.0,647.3 992.4,645.4 992.9,645.7 993.3,654.1 993.7,648.7 994.1,652.3 994.5,648.0 995.0,650.6 995.4,647.5 995.8,653.1 996.2,649.8 996.6,649.3 997.1,650.1 997.5,656.8 997.9,651.8 998.3,652.9 998.7,646.9 999.2,648.6 999.6,651.4 1000.0,645.2 1000.4,654.4 1000.8,651.4 1001.3,650.6 1001.7,650.1 1002.1,650.0 1002.5,649.3 1002.9,654.8 1003.4,652.8 1003.8,654.4 1004.2,650.0 1004.6,648.4 1005.0,654.9 1005.5,647.5 1005.9,649.3 1006.3,653.1 1006.7,654.2 1007.1,647.3 1007.6,650.4 1008.0,651.3 1008.4,650.9 1008.8,648.8 1009.2,653.3 1009.7,649.8 1010.1,650.7 1010.5,645.0 1010.9,651.2 1011.3,645.9 1011.8,653.6 1012.2,653.0 1012.6,650.2 1013.0,652.1 1013.4,652.0 1013.9,651.3 1014.3,652.8 1014.7,651.5 1015.1,650.5 1015.5,649.6 1016.0,656.7 1016.4,652.5 1016.8,651.9 1017.2,654.1 1017.6,651.0 1018.1,651.0 1018.5,654.0 1018.9,655.1 1019.3,654.1 1019.7,648.0 1020.2,652.5 1020.6,652.3 1021.0,653.7 1021.4,649.9 1021.8,649.5 1022.3,652.2 1022.7,650.0 1023.1,649.5 1023.5,652.4 1023.9,655.3 1024.4,653.1 1024.8,655.9 1025.2,649.9 1025.6,654.8 1026.0,652.8 1026.5,650.4 1026.9,651.7 1027.3,650.5 1027.7,652.4 1028.1,650.9 1028.6,656.6 1029.0,652.1 1029.4,649.1 1029.8,652.6 1030.2,654.3 1030.7,652.3 1031.1,655.7 1031.5,650.7 1031.9,650.9 1032.3,658.0 1032.8,653.4 1033.2,655.0 1033.6,654.9 1034.0,655.2 1034.4,653.7 1034.9,653.1 1035.3,656.7 1035.7,652.3 1036.1,654.0 1036.5,655.7 1037.0,652.7 1037.4,649.5 1037.8,655.2 1038.2,656.9 1038.6,654.7 1039.1,649.3 1039.5,655.8 1039.9,659.6 1040.3,649.8 1040.7,646.6 1041.2,653.5 1041.6,654.4 1042.0,656.4 1042.4,656.6 1042.8,654.6 1043.3,655.9 1043.7,655.4 1044.1,654.8 1044.5,654.3 1044.9,654.1 1045.4,656.5 1045.8,655.7 1046.2,653.5 1046.6,657.7 1047.0,652.7 1047.5,654.1 1047.9,655.2 1048.3,649.6 1048.7,653.8 1049.1,657.3 1049.6,657.2 1050.0,651.7 1050.4,652.7 1050.8,652.0 1051.2,654.4 1051.7,654.8 1052.1,650.6 1052.5,655.9 1052.9,655.2 1053.3,654.9 1053.8,653.2 1054.2,654.6 1054.6,650.2 1055.0,655.7 1055.4,655.7 1055.9,654.8 1056.3,651.9 1056.7,658.6 1057.1,658.2 1057.5,650.0 1058.0,656.3 1058.4,655.6 1058.8,648.1 1059.2,656.6 1059.6,656.9 1060.1,657.1 1060.5,655.6 1060.9,653.4 1061.3,653.8 1061.7,656.6 1062.2,658.4 1062.6,653.9 1063.0,654.5 1063.4,657.1 1063.8,649.3 1064.3,656.5 1064.7,654.6 1065.1,649.2 1065.5,657.4 1065.9,652.8 1066.4,657.4 1066.8,659.0 1067.2,651.9 1067.6,652.0 1068.0,655.3 1068.5,650.5 1068.9,657.3 1069.3,655.8 1069.7,658.0 1070.1,650.3 1070.6,655.9 1071.0,656.6 1071.4,650.5 1071.8,657.8 1072.2,651.6 1072.7,655.9 1073.1,651.8 1073.5,657.6 1073.9,660.1 1074.3,655.6 1074.8,655.5 1075.2,659.0 1075.6,654.3 1076.0,655.6 1076.4,657.7 1076.9,656.7 1077.3,659.8 1077.7,658.8 1078.1,660.8 1078.5,655.5 1079.0,658.7 1079.4,653.4 1079.8,658.1 1080.2,660.5 1080.6,662.1 1081.1,652.3 1081.5,655.3 1081.9,657.7 1082.3,653.4 1082.7,657.3 1083.2,657.3 1083.6,654.5 1084.0,654.3 1084.4,653.3 1084.8,656.7 1085.3,659.3 1085.7,656.6 1086.1,663.4 1086.5,651.8 1086.9,654.3 1087.4,657.7 1087.8,652.7 1088.2,656.8 1088.6,658.1 1089.0,656.4 1089.5,655.3 1089.9,658.5 1090.3,657.1 1090.7,657.9 1091.1,657.4 1091.6,654.1 1092.0,652.9 1092.4,654.9 1092.8,656.4 1093.2,655.4 1093.7,658.6 1094.1,656.7 1094.5,658.6 1094.9,656.3 1095.3,654.0 1095.8,658.3 1096.2,657.4 1096.6,653.7 1097.0,654.9 1097.4,663.7 1097.9,646.7 1098.3,659.1 1098.7,656.2 1099.1,655.8 1099.5,655.2 1100.0,654.6 1100.4,662.6 1100.8,654.8 1101.2,655.3 1101.6,658.3 1102.1,657.2 1102.5,655.7 1102.9,655.4 1103.3,652.6 1103.7,659.3 1104.2,653.4 1104.6,649.7 1105.0,659.3 1105.4,658.5 1105.8,657.4 1106.3,655.0 1106.7,659.8 1107.1,653.5 1107.5,650.5 1107.9,657.0 1108.4,658.8 1108.8,658.4 1109.2,662.4 1109.6,659.0 1110.0,656.1 1110.5,656.3 1110.9,659.3 1111.3,656.7 1111.7,656.5 1112.1,652.1 1112.6,656.1 1113.0,653.4 1113.4,657.7 1113.8,657.5 1114.2,659.1 1114.7,662.1 1115.1,656.7 1115.5,661.2 1115.9,654.1 1116.3,657.7 1116.8,660.0 1117.2,662.8 1117.6,654.4 1118.0,656.7 1118.4,657.9 1118.9,657.2 1119.3,654.9 1119.7,653.1 1120.1,654.2 1120.5,657.4 1121.0,654.0 1121.4,662.6 1121.8,661.2 1122.2,652.6 1122.6,656.5 1123.1,661.5 1123.5,661.9 1123.9,661.0 1124.3,654.1 1124.7,657.0 1125.2,661.6 1125.6,658.4 1126.0,656.9 1126.4,659.6 1126.8,661.0 1127.3,658.7 1127.7,659.0 1128.1,661.4 1128.5,656.9 1128.9,656.0 1129.4,660.7 1129.8,655.3 1130.2,660.0 1130.6,656.7 1131.0,661.1 1131.5,655.6 1131.9,662.0 1132.3,659.7 1132.7,658.1 1133.1,656.7 1133.6,658.6 1134.0,656.6 1134.4,655.9 1134.8,662.2 1135.2,660.9 1135.7,662.7 1136.1,655.7 1136.5,654.1 1136.9,655.1 1137.3,661.3 1137.8,661.8 1138.2,654.5 1138.6,662.4 1139.0,658.5 1139.4,656.5 1139.9,659.6 1140.3,661.4 1140.7,659.3 1141.1,659.5 1141.5,657.7 1142.0,656.2 1142.4,659.1 1142.8,655.7 1143.2,661.8 1143.6,657.9 1144.1,663.8 1144.5,656.0 1144.9,664.2 1145.3,658.0 1145.7,658.1 1146.2,661.3 1146.6,663.0 1147.0,660.5 1147.4,659.7 1147.8,666.1 1148.3,662.2 1148.7,657.6 1149.1,660.2 1149.5,665.5 1149.9,661.9 1150.4,663.3 1150.8,666.7 1151.2,659.6 1151.6,662.3 1152.0,659.6 1152.5,661.5 1152.9,663.0 1153.3,658.1 1153.7,662.1 1154.1,662.2 1154.6,664.7 1155.0,660.4 1155.4,658.7 1155.8,663.2 1156.2,659.2 1156.7,662.8 1157.1,663.9 1157.5,660.1 1157.9,662.2 1158.3,659.9 1158.8,655.1 1159.2,658.9 1159.6,657.3 1160.0,663.0 1160.4,660.2 1160.9,662.8 1161.3,663.1 1161.7,666.1 1162.1,662.5 1162.5,662.4 1163.0,664.9 1163.4,667.9 1163.8,663.5 1164.2,664.7 1164.6,663.4 1165.1,662.1 1165.5,660.0 1165.9,663.9 1166.3,663.5 1166.7,663.7 1167.2,669.6 1167.6,663.6 1168.0,665.4 1168.4,663.7 1168.8,667.8 1169.3,664.1 1169.7,669.8 1170.1,664.3 1170.5,667.1 1170.9,667.8 1171.4,664.6 1171.8,667.6 1172.2,665.6 1172.6,663.5 1173.0,663.8 1173.5,666.5 1173.9,670.4 1174.3,664.5 1174.7,667.3 1175.1,663.9 1175.6,666.7 1176.0,662.7 1176.4,664.1 1176.8,666.2 1177.2,664.3 1177.7,665.6 1178.1,669.0 1178.5,666.1 1178.9,664.6 1179.3,663.3 1179.8,665.2 1180.2,669.6 1180.6,666.4 1181.0,666.3 1181.4,668.6 1181.9,669.0 1182.3,669.5 1182.7,666.0 1183.1,664.6 1183.5,662.7 1184.0,665.3 1184.4,666.1 1184.8,669.0 1185.2,668.0 1185.6,665.8 1186.1,669.6 1186.5,664.1 1186.9,664.7 1187.3,664.4 1187.7,664.7 1188.2,666.9 1188.6,665.4 1189.0,665.7 1189.4,671.1 1189.8,664.0 1190.3,665.2 1190.7,667.2 1191.1,669.0 1191.5,669.2 1191.9,667.3 1192.4,667.1 1192.8,667.4 1193.2,670.1 1193.6,665.8 1194.0,662.2 1194.5,668.8 1194.9,665.4 1195.3,668.3 1195.7,672.0 1196.1,668.8 1196.6,673.2 1197.0,664.6 1197.4,669.3 1197.8,669.7 1198.2,670.9 1198.7,667.0 1199.1,669.3 1199.5,669.2 1199.9,669.2 1200.3,665.5 1200.8,664.7 1201.2,670.5 1201.6,670.0 1202.0,669.3 1202.4,670.9 1202.9,672.1 1203.3,666.4 1203.7,671.4 1204.1,673.2 1204.5,672.1 1205.0,671.1 1205.4,671.4 1205.8,666.0 1206.2,668.5 1206.6,672.4 1207.1,673.6 1207.5,671.1 1207.9,668.8 1208.3,669.7 1208.7,672.2 1209.2,675.2 1209.6,672.2 1210.0,668.9 1210.4,671.8 1210.8,671.4 1211.3,676.4 1211.7,671.9 1212.1,670.6 1212.5,670.3 1212.9,667.5 1213.4,668.0 1213.8,669.5 1214.2,668.7 1214.6,671.3 1215.0,671.1 1215.5,673.2 1215.9,674.7 1216.3,671.4 1216.7,670.5 1217.1,666.4 1217.6,672.1 1218.0,672.8 1218.4,669.3 1218.8,670.3 1219.2,669.6 1219.7,674.0 1220.1,673.0 1220.5,674.5 1220.9,668.5 1221.3,678.2 1221.8,669.5 1222.2,669.1 1222.6,672.2 1223.0,670.4 1223.4,676.3 1223.9,670.8 1224.3,670.2 1224.7,674.3 1225.1,675.0 1225.5,669.9 1226.0,670.9 1226.4,671.2 1226.8,671.7 1227.2,676.4 1227.6,675.3 1228.1,674.9 1228.5,675.5 1228.9,672.4 1229.3,674.6 1229.7,672.3 1230.2,670.7 1230.6,676.7 1231.0,668.3 1231.4,672.7 1231.8,671.3 1232.3,668.6 1232.7,671.8 1233.1,673.0 1233.5,674.0 1233.9,670.9 1234.4,674.8 1234.8,673.7 1235.2,675.0 1235.6,668.3 1236.0,672.0 1236.5,671.6 1236.9,674.6 1237.3,671.4 1237.7,672.0 1238.1,670.5 1238.6,670.4 1239.0,671.0 1239.4,675.7 1239.8,670.8 1240.2,667.4 1240.7,674.1 1241.1,672.4 1241.5,674.8 1241.9,674.8 1242.3,672.8 1242.8,672.6 1243.2,672.3 1243.6,673.6 1244.0,671.8 1244.4,674.2 1244.9,677.1 1245.3,672.2 1245.7,672.3 1246.1,672.3 1246.5,675.4 1247.0,675.5 1247.4,677.4 1247.8,675.7 1248.2,674.3 1248.6,675.2 1249.1,670.9 1249.5,675.5 1249.9,674.6 1250.3,679.2 1250.7,677.6 1251.2,672.3 1251.6,672.9 1252.0,676.5 1252.4,669.4 1252.8,672.2 1253.3,675.3 1253.7,676.0 1254.1,675.0 1254.5,677.4 1254.9,673.9 1255.4,674.9 1255.8,674.2 1256.2,672.1 1256.6,674.8 1257.0,673.4 1257.5,675.0 1257.9,668.5 1258.3,675.1 1258.7,673.6 1259.1,673.4 1259.6,675.1 1260.0,673.9 1260.4,677.3 1260.8,678.1 1261.2,677.2 1261.7,677.5 1262.1,676.0 1262.5,675.3 1262.9,672.2 1263.3,674.4 1263.8,678.2 1264.2,677.2 1264.6,674.2 1265.0,675.7 1265.4,678.0 1265.9,675.1 1266.3,679.4 1266.7,673.7 1267.1,677.5 1267.5,677.3 1268.0,676.1 1268.4,676.4 1268.8,677.0 1269.2,670.3 1269.6,676.9 1270.1,678.5 1270.5,676.8 1270.9,678.6 1271.3,673.1 1271.7,675.8 1272.2,676.7 1272.6,675.4 1273.0,678.8 1273.4,677.2 1273.8,674.8 1274.3,678.0 1274.7,678.0 1275.1,675.0 1275.5,677.5 1275.9,676.9 1276.4,676.9 1276.8,673.0 1277.2,679.1 1277.6,677.6 1278.0,675.9 1278.5,676.8 1278.9,676.8 1279.3,675.3 1279.7,674.6 1280.1,676.2 1280.6,674.6 1281.0,674.9 1281.4,673.2 1281.8,675.3 1282.2,678.4 1282.7,676.5 1283.1,676.1 1283.5,675.3 1283.9,675.0 1284.3,672.4 1284.8,680.0 1285.2,674.3 1285.6,672.4 1286.0,677.0 1286.4,676.6 1286.9,674.8 1287.3,672.5 1287.7,672.7 1288.1,679.7 1288.5,675.7 1289.0,674.4 1289.4,680.4 1289.8,674.7 1290.2,673.8 1290.6,677.3 1291.1,676.9 1291.5,679.7 1291.9,672.3 1292.3,676.7 1292.7,671.9 1293.2,677.1 1293.6,674.4 1294.0,674.9 1294.4,674.2 1294.8,678.0 1295.3,679.9 1295.7,675.8 1296.1,675.4 1296.5,674.8 1296.9,677.2 1297.4,673.5 1297.8,684.5 1298.2,675.4 1298.6,680.1 1299.0,676.4 1299.5,672.7 1299.9,672.3 1300.3,675.0 1300.7,674.3 1301.1,675.4 1301.6,673.2 1302.0,681.6 1302.4,681.1 1302.8,671.6 1303.2,677.1 1303.7,678.8 1304.1,675.2 1304.5,675.4 1304.9,678.6 1305.3,677.3 1305.8,673.1 1306.2,678.9 1306.6,674.8 1307.0,680.4 1307.4,673.7 1307.9,670.5 1308.3,676.2 1308.7,678.9 1309.1,677.2 1309.5,676.3 1310.0,673.8 1310.4,678.2 1310.8,671.6 1311.2,677.9 1311.6,673.2 1312.1,674.6 1312.5,672.9 1312.9,673.9 1313.3,679.7 1313.7,673.4 1314.2,676.7 1314.6,674.3 1315.0,678.7 1315.4,673.1 1315.8,676.4 1316.3,678.5 1316.7,681.8 1317.1,673.6 1317.5,674.4 1317.9,676.4 1318.4,680.1 1318.8,674.1 1319.2,678.6 1319.6,675.1 1320.0,674.2 1320.5,672.9 1320.9,677.0 1321.3,679.1 1321.7,676.5 1322.1,671.7 1322.6,675.5 1323.0,679.2 1323.4,679.0 1323.8,677.6 1324.2,680.5 1324.7,674.0 1325.1,674.1 1325.5,682.8 1325.9,678.7 1326.3,676.6 1326.8,676.0 1327.2,671.0 1327.6,679.2 1328.0,672.3 1328.4,672.6 1328.9,677.2 1329.3,681.0 1329.7,676.4 1330.1,678.3 1330.5,676.4 1331.0,678.4 1331.4,673.5 1331.8,682.6 1332.2,675.3 1332.6,679.0 1333.1,672.8 1333.5,681.9 1333.9,678.8 1334.3,682.6 1334.7,676.2 1335.2,680.3 1335.6,677.5 1336.0,677.8 1336.4,681.1 1336.8,675.8 1337.3,679.8 1337.7,682.7 1338.1,682.3 1338.5,680.7 1338.9,679.0 1339.4,675.9 1339.8,681.7 1340.2,676.7 1340.6,681.2 1341.0,677.6 1341.5,678.4 1341.9,678.4 1342.3,679.9 1342.7,677.5 1343.1,679.0 1343.6,677.3 1344.0,679.9 1344.4,679.3 1344.8,679.7 1345.2,676.7 1345.7,679.5 1346.1,678.9 1346.5,680.2 1346.9,679.0 1347.3,676.6 1347.8,680.6 1348.2,677.3 1348.6,679.6 1349.0,674.0 1349.4,680.1 1349.9,680.5 1350.3,676.8 1350.7,680.3 1351.1,678.1 1351.5,682.3 1352.0,680.6 1352.4,676.1 1352.8,678.5 1353.2,674.9 1353.6,678.3 1354.1,680.3 1354.5,681.0 1354.9,678.8 1355.3,678.5 1355.7,679.5 1356.2,677.7 1356.6,679.9 1357.0,681.8 1357.4,679.6 1357.8,681.2 1358.3,677.4 1358.7,678.1 1359.1,680.0 1359.5,684.0 1359.9,681.6 1360.4,683.3 1360.8,679.4 1361.2,682.2 1361.6,675.4 1362.0,680.6 1362.5,674.5 1362.9,682.3 1363.3,680.5 1363.7,682.1 1364.1,680.4 1364.6,678.3 1365.0,677.7 1365.4,679.9 1365.8,683.0 1366.2,681.0 1366.7,678.2 1367.1,678.2 1367.5,677.9 1367.9,679.1 1368.3,679.3 1368.8,678.4 1369.2,679.6 1369.6,675.9 1370.0,683.3 1370.4,680.2 1370.9,683.2 1371.3,680.3 1371.7,679.2 1372.1,679.9 1372.5,680.2 1373.0,678.2 1373.4,678.8 1373.8,684.2 1374.2,681.9 1374.6,678.6 1375.1,681.0 1375.5,677.8 1375.9,683.1 1376.3,677.5 1376.7,681.9 1377.2,679.9 1377.6,679.9 1378.0,678.0 1378.4,679.3 1378.8,678.1 1379.3,677.9 1379.7,681.0 1380.1,685.8 1380.5,679.1 1380.9,682.3 1381.4,679.9 1381.8,678.3 1382.2,683.1 1382.6,681.5 1383.0,682.7 1383.5,680.3 1383.9,680.4 1384.3,678.1 1384.7,679.4 1385.1,684.0 1385.6,674.8 1386.0,681.0 1386.4,683.5 1386.8,681.9 1387.2,682.1 1387.7,679.5 1388.1,682.7 1388.5,682.8 1388.9,680.0 1389.3,684.0 1389.8,679.0 1390.2,674.3 1390.6,680.1"/>
<polyline stroke-width="6" points="513.5,514.0 513.5,502.7"/>
<polyline stroke-width="6" points="598.5,162.0 598.5,172.0"/>
</g>
<g class="c" shape-rendering="crispEdges" stroke="#186bdc">
<polyline stroke-width="9.5" points="237.7,809.6 238.1,798.2 238.5,805.6 239.0,803.2 239.4,803.5 239.8,804.1 240.2,799.7 240.6,804.1 241.1,802.6 241.5,813.0 241.9,805.3 242.3,803.9 242.7,804.1 243.2,803.2 243.6,802.3 244.0,804.0 244.4,806.1 244.8,804.4 245.3,807.4 245.7,804.5 246.1,805.1 246.5,808.9 246.9,806.5 247.4,803.9 247.8,804.7 248.2,806.5 248.6,810.0 249.0,804.6 249.5,804.7 249.9,807.8 250.3,803.2 250.7,804.7 251.1,807.6 251.6,806.9 252.0,805.7 252.4,807.1 252.8,798.6 253.2,808.1 253.7,803.2 254.1,801.5 254.5,806.3 254.9,807.4 255.3,804.6 255.8,803.1 256.2,805.8 256.6,805.6 257.0,809.2 257.4,807.7 257.9,806.3 258.3,808.6 258.7,805.4 259.1,803.7 259.5,807.4 260.0,807.4 260.4,805.4 260.8,804.0 261.2,806.5 261.6,799.8 262.1,807.6 262.5,807.1 262.9,801.9 263.3,806.0 263.7,803.5 264.2,807.7 264.6,800.9 265.0,803.6 265.4,807.6 265.8,808.6 266.3,800.5 266.7,804.6 267.1,806.6 267.5,804.3 267.9,809.6 268.4,802.8 268.8,806.6 269.2,803.1 269.6,809.1 270.0,805.6 270.5,804.7 270.9,801.4 271.3,809.7 271.7,807.5 272.1,807.4 272.6,808.4 273.0,806.4 273.4,804.0 273.8,803.6 274.2,803.6 274.7,808.9 275.1,801.9 275.5,804.0 275.9,804.7 276.3,806.0 276.8,806.9 277.2,802.4 277.6,801.2 278.0,805.4 278.4,808.4 278.9,807.2 279.3,805.9 279.7,804.6 280.1,806.1 280.5,804.7 281.0,807.3 281.4,803.3 281.8,805.6 282.2,805.0 282.6,806.6 283.1,805.8 283.5,811.5 283.9,808.9 284.3,808.9 284.7,800.2 285.2,804.3 285.6,803.6 286.0,806.4 286.4,799.5 286.8,808.0 287.3,807.7 287.7,801.9 288.1,802.6 288.5,803.1 288.9,805.1 289.4,806.5 289.8,809.9 290.2,804.3 290.6,806.6 291.0,805.0 291.5,808.8 291.9,806.2 292.3,807.6 292.7,801.4 293.1,803.4 293.6,801.7 294.0,807.4 294.4,805.1 294.8,802.5 295.2,802.0 295.7,804.2 296.1,801.1 296.5,800.4 296.9,803.8 297.3,808.6 297.8,801.7 298.2,800.7 298.6,799.0 299.0,798.5 299.4,803.0 299.9,803.7 300.3,801.5 300.7,802.1 301.1,801.5 301.5,801.4 302.0,797.0 302.4,799.6 302.8,800.9 303.2,798.5 303.6,799.2 304.1,798.2 304.5,799.3 304.9,802.2 305.3,798.9 305.7,799.4 306.2,801.8 306.6,801.2 307.0,803.8 307.4,793.9 307.8,801.4 308.3,797.8 308.7,799.2 309.1,800.9 309.5,801.5 309.9,801.2 310.4,798.8 310.8,802.5 311.2,797.4 311.6,797.6 312.0,800.0 312.5,796.3 312.9,803.3 313.3,800.2 313.7,803.1 314.1,797.2 314.6,796.1 315.0,797.4 315.4,798.8 315.8,795.2 316.2,797.6 316.7,796.5 317.1,800.6 317.5,794.5 317.9,798.9 318.3,794.3 318.8,793.3 319.2,793.9 319.6,792.5 320.0,795.9 320.4,798.1 320.9,795.7 321.3,796.8 321.7,799.4 322.1,795.6 322.5,795.3 323.0,793.9 323.4,790.3 323.8,796.5 324.2,789.6 324.6,796.0 325.1,794.1 325.5,797.0 325.9,793.7 326.3,791.5 326.7,794.6 327.2,792.0 327.6,792.9 328.0,793.4 328.4,792.8 328.8,792.6 329.3,790.7 329.7,792.3 330.1,786.9 330.5,792.2 330.9,789.2 331.4,795.4 331.8,795.7 332.2,786.8 332.6,792.4 333.0,791.6 333.5,788.9 333.9,793.1 334.3,790.3 334.7,786.6 335.1,790.6 335.6,790.8 336.0,791.4 336.4,787.6 336.8,792.6 337.2,792.8 337.7,787.5 338.1,788.7 338.5,790.2 338.9,788.7 339.3,794.9 339.8,790.5 340.2,787.0 340.6,787.4 341.0,789.2 341.4,795.6 341.9,788.5 342.3,789.1 342.7,790.0 343.1,788.2 343.5,794.5 344.0,786.3 344.4,789.7 344.8,787.8 345.2,788.9 345.6,783.6 346.1,791.7 346.5,786.1 346.9,786.3 347.3,783.3 347.7,783.7 348.2,787.1 348.6,788.1 349.0,787.2 349.4,788.3 349.8,786.6 350.3,784.4 350.7,786.5 351.1,785.6 351.5,783.4 351.9,785.5 352.4,786.9 352.8,783.7 353.2,781.7 353.6,784.6 354.0,787.8 354.5,781.4 354.9,781.5 355.3,781.2 355.7,784.9 356.1,775.7 356.6,782.0 357.0,784.2 357.4,778.0 357.8,784.6 358.2,781.6 358.7,778.1 359.1,780.1 359.5,774.7 359.9,777.4 360.3,784.3 360.8,776.0 361.2,783.9 361.6,778.0 362.0,781.0 362.4,777.9 362.9,770.9 363.3,775.6 363.7,777.7 364.1,773.5 364.5,772.7 365.0,777.6 365.4,774.3 365.8,771.0 366.2,773.8 366.6,778.3 367.1,774.0 367.5,778.1 367.9,779.7 368.3,774.9 368.7,771.2 369.2,770.4 369.6,774.1 370.0,776.7 370.4,774.6 370.8,775.3 371.3,772.0 371.7,774.1 372.1,771.5 372.5,771.7 372.9,768.5 373.4,767.5 373.8,770.6 374.2,768.5 374.6,768.7 375.0,773.6 375.5,770.9 375.9,780.1 376.3,773.7 376.7,768.7 377.1,772.9 377.6,771.3 378.0,767.9 378.4,773.2 378.8,767.1 379.2,759.7 379.7,771.5 380.1,766.8 380.5,773.1 380.9,766.1 381.3,764.0 381.8,772.3 382.2,763.6 382.6,767.3 383.0,770.9 383.4,766.3 383.9,765.3 384.3,765.5 384.7,767.5 385.1,761.8 385.5,766.0 386.0,765.5 386.4,770.8 386.8,761.8 387.2,759.5 387.6,764.5 388.1,760.4 388.5,762.3 388.9,761.4 389.3,764.4 389.7,758.0 390.2,759.4 390.6,750.9 391.0,755.9 391.4,763.5 391.8,755.7 392.3,755.2 392.7,753.0 393.1,758.5 393.5,756.7 393.9,751.7 394.4,757.5 394.8,755.6 395.2,756.8 395.6,751.6 396.0,759.3 396.5,754.3 396.9,752.0 397.3,750.2 397.7,750.7 398.1,754.0 398.6,749.6 399.0,753.8 399.4,751.5 399.8,753.6 400.2,751.2 400.7,747.5 401.1,740.4 401.5,747.5 401.9,748.5 402.3,745.6 402.8,746.3 403.2,741.9 403.6,741.5 404.0,738.8 404.4,746.3 404.9,741.3 405.3,738.3 405.7,734.5 406.1,738.0 406.5,743.1 407.0,738.8 407.4,733.8 407.8,741.0 408.2,740.2 408.6,737.9 409.1,736.4 409.5,736.9 409.9,733.8 410.3,733.7 410.7,726.9 411.2,734.5 411.6,728.7 412.0,734.4 412.4,717.8 412.8,727.2 413.3,727.2 413.7,721.0 414.1,722.9 414.5,723.0 414.9,721.2 415.4,715.8 415.8,716.2 416.2,719.7 416.6,719.6 417.0,713.8 417.5,712.6 417.9,712.0 418.3,714.3 418.7,704.8 419.1,702.5 419.6,707.3 420.0,701.1 420.4,702.1 420.8,703.6 421.2,704.1 421.7,696.4 422.1,702.9 422.5,690.9 422.9,699.3 423.3,689.1 423.8,689.0 424.2,695.8 424.6,690.1 425.0,687.1 425.4,687.3 425.9,689.9 426.3,686.3 426.7,685.1 427.1,688.5 427.5,679.5 428.0,679.3 428.4,677.8 428.8,683.9 429.2,681.9 429.6,682.0 430.1,675.0 430.5,673.3 430.9,676.7 431.3,669.9 431.7,674.3 432.2,672.7 432.6,665.1 433.0,666.6 433.4,665.2 433.8,672.4 434.3,675.0 434.7,661.3 435.1,660.5 435.5,648.6 435.9,658.8 436.4,656.4 436.8,650.0 437.2,657.4 437.6,644.8 438.0,649.7 438.5,649.7 438.9,641.4 439.3,649.7 439.7,648.8 440.1,635.1 440.6,633.0 441.0,640.8 441.4,635.8 441.8,628.2 442.2,631.0 442.7,630.4 443.1,628.8 443.5,632.4 443.9,629.1 444.3,635.0 444.8,632.1 445.2,627.6 445.6,628.7 446.0,629.1 446.4,625.1 446.9,614.4 447.3,624.1 447.7,619.2 448.1,626.2 448.5,617.6 449.0,619.1 449.4,617.3 449.8,623.5 450.2,615.2 450.6,612.3 451.1,614.7 451.5,610.4 451.9,613.0 452.3,611.6 452.7,612.6 453.2,620.7 453.6,608.2 454.0,610.0 454.4,608.3 454.8,612.3 455.3,602.2 455.7,604.3 456.1,607.2 456.5,609.8 456.9,606.2 457.4,603.4 457.8,601.0 458.2,607.7 458.6,612.1 459.0,605.7 459.5,604.4 459.9,605.1 460.3,597.2 460.7,599.9 461.1,599.4 461.6,601.7 462.0,599.2 462.4,592.3 462.8,604.1 463.2,606.7 463.7,595.9 464.1,599.1 464.5,598.3 464.9,600.9 465.3,588.8 465.8,605.2 466.2,594.2 466.6,603.4 467.0,597.3 467.4,595.0 467.9,596.5 468.3,602.3 468.7,593.3 469.1,596.2 469.5,596.0 470.0,589.9 470.4,606.2 470.8,602.8 471.2,600.0 471.6,606.6 472.1,595.9 472.5,600.9 472.9,610.7 473.3,607.2 473.7,590.8 474.2,585.4 474.6,597.8 475.0,609.2 475.4,601.6 475.8,603.3 476.3,608.0 476.7,600.6 477.1,606.8 477.5,610.2 477.9,608.9 478.4,609.0 478.8,604.4 479.2,610.8 479.6,606.6 480.0,616.3 480.5,623.7 480.9,607.5 481.3,601.1 481.7,611.1 482.1,616.2 482.6,620.6 483.0,621.8 483.4,613.3 483.8,614.3 484.2,625.7 484.7,614.8 485.1,626.8 485.5,621.2 485.9,627.2 486.3,627.9 486.8,629.2 487.2,630.5 487.6,622.4 488.0,629.8 488.4,629.4 488.9,631.8 489.3,637.4 489.7,630.9 490.1,629.6 490.5,630.4 491.0,633.4 491.4,639.4 491.8,632.6 492.2,643.1 492.6,639.8 493.1,638.1 493.5,633.6 493.9,642.1 494.3,645.1 494.7,634.1 495.2,649.2 495.6,652.3 496.0,646.9 496.4,648.4 496.8,658.5 497.3,653.7 497.7,644.4 498.1,649.4 498.5,649.6 498.9,650.4 499.4,640.8 499.8,656.3 500.2,650.5 500.6,655.0 501.0,654.3 501.5,659.7 501.9,655.0 502.3,653.4 502.7,660.3 503.1,665.0 503.6,657.7 504.0,666.2 504.4,661.8 504.8,658.9 505.2,669.0 505.7,658.9 506.1,668.0 506.5,661.8 506.9,666.8 507.3,659.7 507.8,662.1 508.2,671.4 508.6,667.9 509.0,667.8 509.4,666.2 509.9,670.8 510.3,663.0 510.7,664.8 511.1,669.7 511.5,667.2 512.0,668.3 512.4,671.7 512.8,671.9 513.2,671.9 513.6,680.8 514.1,678.1 514.5,679.2 514.9,673.6 515.3,671.4 515.7,666.9 516.2,671.6 516.6,663.5 517.0,669.8 517.4,675.5 517.8,679.0 518.3,675.6 518.7,667.0 519.1,672.7 519.5,666.6 519.9,673.4 520.4,668.8 520.8,672.8 521.2,680.2 521.6,672.4 522.0,678.4 522.5,668.2 522.9,665.5 523.3,672.7 523.7,674.1 524.1,663.3 524.6,665.8 525.0,658.5 525.4,663.7 525.8,668.3 526.2,663.5 526.7,660.9 527.1,656.6 527.5,664.4 527.9,665.9 528.3,664.5 528.8,662.5 529.2,654.9 529.6,668.4 530.0,659.4 530.4,658.4 530.9,661.8 531.3,647.7 531.7,656.8 532.1,655.8 532.5,657.5 533.0,661.4 533.4,656.7 533.8,645.2 534.2,651.5 534.6,653.4 535.1,652.5 535.5,645.1 535.9,642.6 536.3,652.4 536.7,650.8 537.2,648.4 537.6,639.6 538.0,655.5 538.4,632.5 538.8,643.8 539.3,654.7 539.7,643.1 540.1,644.0 540.5,636.3 540.9,647.6 541.4,633.8 541.8,640.3 542.2,638.7 542.6,631.9 543.0,640.4 543.5,628.2 543.9,630.8 544.3,633.0 544.7,630.1 545.1,633.5 545.6,634.7 546.0,627.7 546.4,625.5 546.8,624.6 547.2,624.3 547.7,629.2 548.1,623.0 548.5,625.0 548.9,621.3 549.3,616.3 549.8,623.7 550.2,612.7 550.6,616.6 551.0,622.8 551.4,608.2 551.9,612.1 552.3,602.7 552.7,606.8 553.1,600.1 553.5,604.4 554.0,601.8 554.4,603.7 554.8,609.7 555.2,601.2 555.6,601.5 556.1,596.0 556.5,593.2 556.9,588.3 557.3,581.3 557.7,589.4 558.2,595.9 558.6,587.6 559.0,580.0 559.4,589.8 559.8,576.3 560.3,573.1 560.7,567.6 561.1,566.8 561.5,568.6 561.9,578.9 562.4,564.5 562.8,557.6 563.2,557.9 563.6,557.9 564.0,547.2 564.5,555.5 564.9,556.6 565.3,552.2 565.7,551.6 566.1,538.3 566.6,533.6 567.0,548.6 567.4,545.2 567.8,527.3 568.2,535.2 568.7,531.8 569.1,532.5 569.5,528.1 569.9,521.5 570.3,523.3 570.8,520.6 571.2,517.0 571.6,503.7 572.0,494.3 572.4,505.3 572.9,497.6 573.3,506.6 573.7,506.9 574.1,501.3 574.5,494.5 575.0,494.2 575.4,497.9 575.8,482.8 576.2,489.9 576.6,485.2 577.1,479.0 577.5,483.3 577.9,465.9 578.3,473.3 578.7,457.8 579.2,455.5 579.6,450.2 580.0,456.8 580.4,444.5 580.8,447.8 581.3,436.8 581.7,448.3 582.1,450.4 582.5,436.5 582.9,443.0 583.4,432.7 583.8,440.7 584.2,423.7 584.6,409.4 585.0,427.6 585.5,413.8 585.9,404.9 586.3,405.0 586.7,395.7 587.1,403.3 587.6,394.5 588.0,409.9 588.4,401.6 588.8,382.8 589.2,381.4 589.7,385.6 590.1,373.5 590.5,383.9 590.9,381.9 591.3,374.3 591.8,373.6 592.2,378.8 592.6,383.2 593.0,381.6 593.4,368.9 593.9,372.8 594.3,359.3 594.7,365.6 595.1,353.7 595.5,364.0 596.0,347.7 596.4,347.9 596.8,353.3 597.2,356.1 597.6,340.5 598.1,346.8 598.5,352.1 598.9,353.8 599.3,347.6 599.7,356.7 600.2,356.6 600.6,371.6 601.0,368.3 601.4,357.7 601.8,354.4 602.3,374.0 602.7,384.8 603.1,380.5 603.5,388.5 603.9,381.7 604.4,378.4 604.8,396.4 605.2,394.8 605.6,401.9 606.0,390.6 606.5,404.7 606.9,402.3 607.3,415.7 607.7,409.7 608.1,413.3 608.6,417.5 609.0,434.3 609.4,430.4 609.8,429.8 610.2,432.9 610.7,437.7 611.1,459.3 611.5,442.7 611.9,454.1 612.3,468.9 612.8,477.4 613.2,474.0 613.6,485.0 614.0,489.9 614.4,496.4 614.9,495.5 615.3,510.5 615.7,506.5 616.1,519.5 616.5,508.4 617.0,525.6 617.4,517.2 617.8,520.7 618.2,537.4 618.6,534.4 619.1,546.6 619.5,542.6 619.9,562.6 620.3,558.2 620.7,556.4 621.2,568.4 621.6,577.0 622.0,572.5 622.4,584.1 622.8,596.8 623.3,594.8 623.7,594.3 624.1,595.4 624.5,605.4 624.9,598.2 625.4,593.9 625.8,609.7 626.2,611.0 626.6,628.8 627.0,624.0 627.5,621.7 627.9,624.2 628.3,635.7 628.7,632.5 629.1,636.9 629.6,642.3 630.0,646.0 630.4,648.7 630.8,651.3 631.2,659.1 631.7,663.1 632.1,649.5 632.5,671.1 632.9,661.6 633.3,668.7 633.8,661.4 634.2,668.2 634.6,669.5 635.0,670.9 635.4,676.1 635.9,676.9 636.3,671.3 636.7,677.0 637.1,682.3 637.5,683.6 638.0,680.5 638.4,682.1 638.8,684.0 639.2,681.1 639.6,681.6 640.1,695.2 640.5,688.0 640.9,691.3 641.3,689.0 641.7,698.9 642.2,702.1 642.6,695.0 643.0,699.3 643.4,695.3 643.8,707.0 644.3,704.7 644.7,698.7 645.1,708.5 645.5,706.0 645.9,707.3 646.4,708.1 646.8,704.9 647.2,706.3 647.6,711.7 648.0,709.7 648.5,706.7 648.9,719.2 649.3,710.8 649.7,710.0 650.1,710.0 650.6,716.1 651.0,717.8 651.4,715.4 651.8,718.5 652.2,709.7 652.7,714.7 653.1,714.9 653.5,717.3 653.9,719.7 654.3,710.4 654.8,731.1 655.2,716.1 655.6,721.4 656.0,723.8 656.4,724.5 656.9,722.6 657.3,711.0 657.7,718.6 658.1,726.3 658.5,720.4 659.0,720.4 659.4,716.0 659.8,730.2 660.2,728.1 660.6,723.3 661.1,726.7 661.5,727.4 661.9,724.1 662.3,727.8 662.7,730.3 663.2,731.9 663.6,735.0 664.0,730.9 664.4,729.5 664.8,733.2 665.3,729.8 665.7,728.0 666.1,737.3 666.5,732.2 666.9,734.5 667.4,736.9 667.8,730.9 668.2,737.8 668.6,737.6 669.0,736.0 669.5,738.3 669.9,734.6 670.3,729.8 670.7,737.2 671.1,735.4 671.6,742.4 672.0,740.6 672.4,738.2 672.8,740.8 673.2,745.9 673.7,745.6 674.1,743.3 674.5,743.9 674.9,741.8 675.3,742.7 675.8,745.5 676.2,743.3 676.6,745.1 677.0,740.4 677.4,738.7 677.9,738.9 678.3,743.6 678.7,750.1 679.1,749.9 679.5,742.5 680.0,740.8 680.4,749.3 680.8,748.4 681.2,742.2 681.6,751.0 682.1,748.2 682.5,752.5 682.9,749.3 683.3,751.5 683.7,749.8 684.2,745.6 684.6,748.4 685.0,747.1 685.4,752.6 685.8,746.5 686.3,745.0 686.7,752.8 687.1,754.7 687.5,756.0 687.9,755.0 688.4,746.3 688.8,749.3 689.2,750.0 689.6,752.0 690.0,744.9 690.5,752.4 690.9,753.6 691.3,749.6 691.7,753.5 692.1,757.3 692.6,753.6 693.0,757.3 693.4,757.3 693.8,755.5 694.2,755.6 694.7,753.2 695.1,758.9 695.5,753.3 695.9,752.7 696.3,757.7 696.8,753.0 697.2,757.1 697.6,759.4 698.0,756.4 698.4,756.6 698.9,759.5 699.3,759.2 699.7,751.6 700.1,752.5 700.5,761.5 701.0,758.4 701.4,750.3 701.8,752.8 702.2,757.4 702.6,754.2 703.1,759.0 703.5,757.8 703.9,759.2 704.3,753.8 704.7,759.8 705.2,764.3 705.6,755.2 706.0,762.3 706.4,761.2 706.8,760.2 707.3,757.9 707.7,754.3 708.1,755.3 708.5,760.8 708.9,761.6 709.4,762.4 709.8,761.6 710.2,761.5 710.6,757.1 711.0,754.6 711.5,759.4 711.9,760.4 712.3,759.1 712.7,753.8 713.1,757.2 713.6,754.1 714.0,759.5 714.4,755.6 714.8,758.6 715.2,760.3 715.7,759.7 716.1,763.9 716.5,755.7 716.9,752.2 717.3,762.6 717.8,764.2 718.2,764.4 718.6,760.6 719.0,761.5 719.4,760.2 719.9,755.6 720.3,758.1 720.7,761.6 721.1,758.2 721.5,766.4 722.0,755.1 722.4,758.8 722.8,763.9 723.2,758.4 723.6,756.7 724.1,756.0 724.5,758.1 724.9,765.5 725.3,762.0 725.7,762.4 726.2,759.1 726.6,763.6 727.0,761.2 727.4,757.9 727.8,759.5 728.3,761.7 728.7,765.0 729.1,761.0 729.5,762.9 729.9,767.9 730.4,758.7 730.8,757.4 731.2,764.7 731.6,763.0 732.0,761.3 732.5,762.5 732.9,760.6 733.3,763.5 733.7,760.7 734.1,764.5 734.6,758.1 735.0,759.3 735.4,762.5 735.8,760.6 736.2,764.5 736.7,762.1 737.1,760.5 737.5,763.1 737.9,760.7 738.3,757.4 738.8,758.9 739.2,760.0 739.6,761.1 740.0,763.0 740.4,765.7 740.9,764.6 741.3,768.7 741.7,767.1 742.1,762.4 742.5,768.5 743.0,767.0 743.4,761.7 743.8,764.3 744.2,766.9 744.6,764.2 745.1,766.7 745.5,764.8 745.9,765.9 746.3,762.6 746.7,764.9 747.2,762.6 747.6,766.0 748.0,758.4 748.4,765.0 748.8,768.0 749.3,765.9 749.7,764.0 750.1,765.9 750.5,761.5 750.9,761.7 751.4,763.3 751.8,764.0 752.2,767.7 752.6,761.8 753.0,768.0 753.5,759.8 753.9,762.4 754.3,764.9 754.7,768.8 755.1,763.2 755.6,758.4 756.0,766.7 756.4,765.3 756.8,762.0 757.2,762.3 757.7,763.5 758.1,766.1 758.5,768.0 758.9,761.2 759.3,773.3 759.8,766.0 760.2,765.0 760.6,768.4 761.0,766.7 761.4,773.9 761.9,770.0 762.3,765.4 762.7,765.4 763.1,765.2 763.5,765.8 764.0,769.1 764.4,765.0 764.8,772.2 765.2,766.9 765.6,766.8 766.1,770.4 766.5,761.2 766.9,764.5 767.3,769.5 767.7,767.7 768.2,767.7 768.6,769.1 769.0,766.0 769.4,767.5 769.8,763.8 770.3,762.3 770.7,772.3 771.1,765.4 771.5,766.2 771.9,772.9 772.4,771.9 772.8,767.0 773.2,767.1 773.6,768.6 774.0,765.9 774.5,770.7 774.9,769.5 775.3,769.5 775.7,771.5 776.1,771.4 776.6,775.0 777.0,774.0 777.4,763.9 777.8,772.1 778.2,765.8 778.7,764.8 779.1,771.6 779.5,767.2 779.9,768.4 780.3,772.8 780.8,767.3 781.2,766.6 781.6,770.5 782.0,773.3 782.4,771.2 782.9,764.7 783.3,767.5 783.7,769.1 784.1,775.7 784.5,772.4 785.0,772.3 785.4,773.4 785.8,768.7 786.2,771.2 786.6,771.3 787.1,766.7 787.5,769.7 787.9,771.6 788.3,766.4 788.7,772.4 789.2,772.3 789.6,773.1 790.0,767.5 790.4,770.3 790.8,774.5 791.3,772.5 791.7,767.5 792.1,770.7 792.5,774.5 792.9,769.8 793.4,771.3 793.8,778.2 794.2,770.1 794.6,769.9 795.0,767.1 795.5,768.3 795.9,775.0 796.3,770.0 796.7,766.8 797.1,767.6 797.6,770.6 798.0,773.0 798.4,768.4 798.8,773.0 799.2,769.3 799.7,772.0 800.1,772.5 800.5,772.8 800.9,769.7 801.3,770.5 801.8,772.7 802.2,767.1 802.6,771.7 803.0,772.8 803.4,774.5 803.9,771.2 804.3,770.8 804.7,771.9 805.1,769.2 805.5,770.9 806.0,772.9 806.4,772.5 806.8,768.5 807.2,770.7 807.6,765.2 808.1,774.3 808.5,770.2 808.9,772.7 809.3,768.6 809.7,771.8 810.2,773.4 810.6,775.1 811.0,767.9 811.4,774.7 811.8,771.5 812.3,769.5 812.7,773.3 813.1,770.8 813.5,770.7 813.9,769.3 814.4,772.0 814.8,771.3 815.2,770.5 815.6,767.9 816.0,769.2 816.5,771.9 816.9,774.5 817.3,770.3 817.7,774.6 818.1,770.0 818.6,766.5 819.0,771.7 819.4,766.5 819.8,770.6 820.2,772.5 820.7,767.9 821.1,768.4 821.5,776.1 821.9,768.8 822.3,768.6 822.8,770.0 823.2,766.9 823.6,766.6 824.0,767.8 824.4,758.7 824.9,770.6 825.3,762.3 825.7,762.0 826.1,766.9 826.5,765.0 827.0,760.6 827.4,765.0 827.8,760.3 828.2,761.4 828.6,758.5 829.1,760.4 829.5,764.0 829.9,762.8 830.3,763.1 830.7,764.7 831.2,761.2 831.6,758.8 832.0,759.7 832.4,765.6 832.8,760.0 833.3,760.5 833.7,758.8 834.1,759.5 834.5,759.7 834.9,757.9 835.4,757.0 835.8,754.6 836.2,753.9 836.6,757.7 837.0,758.5 837.5,758.6 837.9,755.3 838.3,751.9 838.7,756.3 839.1,755.7 839.6,748.1 840.0,755.4 840.4,754.1 840.8,757.3 841.2,747.2 841.7,746.1 842.1,752.7 842.5,743.3 842.9,746.4 843.3,744.6 843.8,744.4 844.2,740.8 844.6,746.1 845.0,749.9 845.4,747.7 845.9,747.4 846.3,744.5 846.7,750.7 847.1,747.5 847.5,749.4 848.0,740.5 848.4,747.3 848.8,742.2 849.2,747.6 849.6,747.3 850.1,742.9 850.5,747.6 850.9,751.3 851.3,749.2 851.7,749.7 852.2,744.8 852.6,745.7 853.0,744.4 853.4,748.9 853.8,752.8 854.3,750.4 854.7,749.1 855.1,745.5 855.5,751.1 855.9,749.0 856.4,743.5 856.8,744.4 857.2,749.4 857.6,747.7 858.0,756.7 858.5,751.4 858.9,748.0 859.3,750.1 859.7,757.4 860.1,748.9 860.6,754.9 861.0,754.0 861.4,757.6 861.8,754.6 862.2,751.6 862.7,754.9 863.1,753.5 863.5,756.7 863.9,753.3 864.3,760.3 864.8,753.4 865.2,755.4 865.6,751.9 866.0,754.6 866.4,754.4 866.9,755.1 867.3,757.7 867.7,753.0 868.1,752.1 868.5,758.8 869.0,754.3 869.4,753.1 869.8,759.4 870.2,758.3 870.6,747.0 871.1,754.8 871.5,758.8 871.9,759.2 872.3,754.9 872.7,762.0 873.2,754.3 873.6,756.4 874.0,757.8 874.4,757.5 874.8,760.4 875.3,761.3 875.7,758.0 876.1,762.9 876.5,756.2 876.9,758.0 877.4,764.6 877.8,759.4 878.2,762.8 878.6,758.1 879.0,758.8 879.5,759.5 879.9,760.7 880.3,759.2 880.7,760.7 881.1,763.0 881.6,765.0 882.0,761.7 882.4,763.8 882.8,764.9 883.2,758.7 883.7,757.4 884.1,768.0 884.5,767.3 884.9,763.5 885.3,764.7 885.8,760.8 886.2,759.6 886.6,765.4 887.0,759.9 887.4,767.8 887.9,763.0 888.3,766.3 888.7,771.7 889.1,771.8 889.5,765.1 890.0,769.5 890.4,762.9 890.8,764.5 891.2,767.6 891.6,771.0 892.1,764.8 892.5,768.5 892.9,767.2 893.3,763.0 893.7,766.7 894.2,771.9 894.6,767.0 895.0,769.0 895.4,770.1 895.8,765.3 896.3,771.6 896.7,772.6 897.1,773.0 897.5,772.2 897.9,766.7 898.4,766.4 898.8,765.9 899.2,765.6 899.6,766.0 900.0,771.8 900.5,773.3 900.9,766.8 901.3,771.4 901.7,765.0 902.1,768.0 902.6,766.0 903.0,764.1 903.4,769.4 903.8,769.6 904.2,768.1 904.7,767.8 905.1,766.4 905.5,769.1 905.9,767.7 906.3,770.4 906.8,766.0 907.2,770.5 907.6,771.5 908.0,773.8 908.4,773.3 908.9,770.7 909.3,768.0 909.7,764.5 910.1,770.2 910.5,774.7 911.0,775.5 911.4,762.5 911.8,768.1 912.2,769.5 912.6,767.4 913.1,771.3 913.5,770.9 913.9,769.2 914.3,770.8 914.7,766.0 915.2,768.0 915.6,768.3 916.0,773.9 916.4,766.1 916.8,770.6 917.3,773.7 917.7,771.2 918.1,774.0 918.5,769.5 918.9,772.9 919.4,774.5 919.8,778.6 920.2,774.0 920.6,776.3 921.0,772.0 921.5,772.3 921.9,776.9 922.3,773.9 922.7,776.6 923.1,774.4 923.6,778.9 924.0,779.7 924.4,769.9 924.8,778.3 925.2,774.0 925.7,774.2 926.1,772.4 926.5,775.1 926.9,769.5 927.3,770.8 927.8,770.8 928.2,774.1 928.6,776.1 929.0,775.6 929.4,774.6 929.9,771.7 930.3,768.2 930.7,775.0 931.1,774.3 931.5,775.0 932.0,778.4 932.4,773.5 932.8,773.5 933.2,767.2 933.6,776.0 934.1,774.3 934.5,772.2 934.9,775.7 935.3,771.5 935.7,773.1 936.2,780.8 936.6,777.2 937.0,777.8 937.4,777.4 937.8,777.1 938.3,775.8 938.7,782.3 939.1,775.2 939.5,777.7 939.9,774.9 940.4,774.6 940.8,768.3 941.2,770.0 941.6,780.6 942.0,780.5 942.5,774.7 942.9,776.0 943.3,778.1 943.7,773.3 944.1,781.7 944.6,773.3 945.0,774.4 945.4,768.3 945.8,781.3 946.2,777.0 946.7,781.8 947.1,773.9 947.5,778.1 947.9,777.4 948.3,777.8 948.8,783.5 949.2,784.2 949.6,781.6 950.0,776.3 950.4,780.2 950.9,781.6 951.3,779.3 951.7,779.3 952.1,779.1 952.5,775.0 953.0,778.4 953.4,782.5 953.8,774.8 954.2,778.0 954.6,780.3 955.1,773.8 955.5,777.4 955.9,772.8 956.3,776.1 956.7,773.7 957.2,775.3 957.6,776.5 958.0,777.2 958.4,777.4 958.8,770.9 959.3,782.8 959.7,777.3 960.1,774.8 960.5,776.3 960.9,779.1 961.4,775.2 961.8,777.0 962.2,776.8 962.6,779.9 963.0,776.0 963.5,779.7 963.9,779.4 964.3,777.9 964.7,782.1 965.1,778.5 965.6,774.9 966.0,779.3 966.4,778.9 966.8,778.4 967.2,779.2 967.7,785.6 968.1,779.3 968.5,780.0 968.9,777.9 969.3,782.6 969.8,778.5 970.2,776.3 970.6,775.1 971.0,780.3 971.4,781.0 971.9,774.1 972.3,776.7 972.7,780.8 973.1,781.9 973.5,775.0 974.0,777.7 974.4,781.4 974.8,777.4 975.2,777.7 975.6,777.5 976.1,775.2 976.5,779.3 976.9,780.1 977.3,775.1 977.7,779.6 978.2,782.7 978.6,780.0 979.0,782.3 979.4,777.9 979.8,783.6 980.3,777.3 980.7,785.3 981.1,778.4 981.5,777.7 981.9,777.2 982.4,778.7 982.8,778.5 983.2,777.9 983.6,779.1 984.0,782.0 984.5,782.7 984.9,779.2 985.3,783.9 985.7,777.3 986.1,777.3 986.6,777.0 987.0,782.2 987.4,775.9 987.8,776.4 988.2,784.3 988.7,785.7 989.1,784.6 989.5,776.3 989.9,780.8 990.3,783.3 990.8,781.2 991.2,776.2 991.6,780.0 992.0,776.0 992.4,777.5 992.9,787.4 993.3,783.2 993.7,776.9 994.1,776.9 994.5,782.7 995.0,779.6 995.4,783.1 995.8,779.6 996.2,780.9 996.6,782.3 997.1,778.6 997.5,776.1 997.9,778.2 998.3,779.7 998.7,781.2 999.2,781.7 999.6,781.7 1000.0,783.4 1000.4,779.4 1000.8,786.1 1001.3,787.8 1001.7,783.1 1002.1,782.6 1002.5,785.7 1002.9,784.0 1003.4,782.6 1003.8,781.6 1004.2,780.0 1004.6,778.7 1005.0,784.1 1005.5,785.6 1005.9,779.1 1006.3,782.0 1006.7,782.9 1007.1,781.0 1007.6,780.0 1008.0,781.1 1008.4,776.6 1008.8,782.1 1009.2,781.5 1009.7,788.5 1010.1,785.1 1010.5,781.4 1010.9,782.4 1011.3,787.4 1011.8,787.1 1012.2,783.0 1012.6,782.1 1013.0,778.3 1013.4,781.5 1013.9,782.0 1014.3,780.4 1014.7,787.6 1015.1,777.1 1015.5,782.2 1016.0,783.8 1016.4,783.9 1016.8,787.5 1017.2,778.6 1017.6,780.5 1018.1,783.0 1018.5,783.1 1018.9,781.6 1019.3,780.5 1019.7,785.9 1020.2,779.7 1020.6,781.1 1021.0,787.0 1021.4,787.8 1021.8,785.4 1022.3,780.3 1022.7,780.4 1023.1,780.3 1023.5,779.6 1023.9,781.7 1024.4,786.6 1024.8,783.6 1025.2,780.8 1025.6,780.7 1026.0,779.6 1026.5,786.5 1026.9,777.2 1027.3,783.8 1027.7,778.9 1028.1,780.0 1028.6,778.8 1029.0,785.9 1029.4,782.9 1029.8,791.1 1030.2,780.1 1030.7,780.0 1031.1,784.9 1031.5,784.8 1031.9,782.4 1032.3,777.4 1032.8,787.4 1033.2,784.9 1033.6,784.4 1034.0,781.5 1034.4,785.1 1034.9,781.7 1035.3,783.4 1035.7,782.8 1036.1,787.0 1036.5,782.0 1037.0,782.3 1037.4,786.6 1037.8,784.0 1038.2,783.3 1038.6,782.7 1039.1,786.2 1039.5,781.6 1039.9,784.8 1040.3,789.3 1040.7,784.6 1041.2,781.2 1041.6,780.0 1042.0,783.9 1042.4,780.0 1042.8,778.9 1043.3,781.4 1043.7,780.4 1044.1,786.1 1044.5,779.4 1044.9,788.2 1045.4,781.5 1045.8,784.0 1046.2,785.6 1046.6,784.3 1047.0,785.8 1047.5,780.9 1047.9,777.2 1048.3,783.2 1048.7,778.9 1049.1,782.1 1049.6,786.5 1050.0,783.2 1050.4,782.1 1050.8,780.5 1051.2,783.0 1051.7,783.3 1052.1,779.3 1052.5,784.7 1052.9,780.8 1053.3,784.5 1053.8,782.6 1054.2,786.7 1054.6,786.4 1055.0,783.9 1055.4,783.6 1055.9,785.2 1056.3,787.9 1056.7,787.1 1057.1,784.5 1057.5,784.9 1058.0,788.6 1058.4,779.4 1058.8,785.7 1059.2,781.5 1059.6,788.0 1060.1,782.7 1060.5,783.9 1060.9,781.1 1061.3,784.3 1061.7,786.5 1062.2,789.1 1062.6,780.7 1063.0,783.0 1063.4,795.6 1063.8,787.1 1064.3,784.4 1064.7,785.9 1065.1,776.7 1065.5,789.1 1065.9,784.9 1066.4,780.3 1066.8,787.8 1067.2,782.7 1067.6,781.6 1068.0,786.0 1068.5,785.7 1068.9,783.2 1069.3,784.4 1069.7,780.7 1070.1,780.4 1070.6,787.2 1071.0,788.4 1071.4,785.9 1071.8,785.7 1072.2,783.5 1072.7,784.3 1073.1,782.0 1073.5,789.7 1073.9,783.1 1074.3,785.9 1074.8,784.7 1075.2,780.7 1075.6,790.3 1076.0,783.7 1076.4,782.6 1076.9,785.1 1077.3,782.2 1077.7,784.9 1078.1,782.1 1078.5,786.5 1079.0,785.0 1079.4,781.0 1079.8,787.9 1080.2,785.5 1080.6,781.8 1081.1,786.0 1081.5,786.2 1081.9,790.3 1082.3,782.5 1082.7,787.4 1083.2,784.7 1083.6,786.8 1084.0,784.3 1084.4,784.9 1084.8,786.5 1085.3,781.7 1085.7,779.1 1086.1,785.1 1086.5,783.8 1086.9,785.4 1087.4,787.0 1087.8,784.6 1088.2,788.6 1088.6,785.1 1089.0,785.5 1089.5,787.6 1089.9,786.9 1090.3,785.0 1090.7,785.7 1091.1,783.1 1091.6,783.6 1092.0,785.6 1092.4,787.7 1092.8,784.1 1093.2,787.8 1093.7,791.0 1094.1,791.6 1094.5,785.5 1094.9,788.5 1095.3,787.2 1095.8,787.7 1096.2,787.9 1096.6,787.0 1097.0,787.9 1097.4,786.1 1097.9,784.8 1098.3,786.3 1098.7,787.0 1099.1,789.1 1099.5,786.7 1100.0,787.8 1100.4,789.8 1100.8,783.1 1101.2,785.1 1101.6,787.4 1102.1,786.0 1102.5,783.1 1102.9,788.9 1103.3,785.9 1103.7,783.3 1104.2,791.6 1104.6,782.6 1105.0,786.3 1105.4,784.5 1105.8,786.8 1106.3,788.1 1106.7,784.3 1107.1,786.3 1107.5,786.3 1107.9,783.9 1108.4,790.1 1108.8,787.4 1109.2,786.1 1109.6,785.1 1110.0,786.1 1110.5,787.5 1110.9,785.8 1111.3,790.7 1111.7,780.1 1112.1,781.3 1112.6,786.7 1113.0,782.2 1113.4,787.3 1113.8,785.7 1114.2,789.3 1114.7,788.8 1115.1,791.4 1115.5,790.4 1115.9,791.4 1116.3,789.4 1116.8,791.0 1117.2,789.4 1117.6,786.4 1118.0,784.6 1118.4,784.8 1118.9,789.6 1119.3,781.6 1119.7,788.9 1120.1,786.3 1120.5,790.6 1121.0,789.1 1121.4,786.5 1121.8,788.7 1122.2,782.4 1122.6,789.6 1123.1,790.2 1123.5,783.8 1123.9,791.4 1124.3,788.7 1124.7,789.6 1125.2,785.2 1125.6,790.9 1126.0,790.8 1126.4,789.2 1126.8,786.5 1127.3,791.4 1127.7,792.8 1128.1,790.5 1128.5,792.2 1128.9,787.8 1129.4,789.9 1129.8,790.6 1130.2,790.0 1130.6,797.5 1131.0,790.8 1131.5,788.1 1131.9,792.1 1132.3,786.8 1132.7,790.9 1133.1,792.0 1133.6,788.5 1134.0,789.1 1134.4,787.4 1134.8,790.4 1135.2,788.2 1135.7,794.9 1136.1,791.9 1136.5,789.6 1136.9,786.3 1137.3,795.9 1137.8,793.9 1138.2,791.6 1138.6,790.9 1139.0,790.9 1139.4,789.1 1139.9,795.7 1140.3,791.1 1140.7,786.6 1141.1,788.8 1141.5,783.5 1142.0,792.5 1142.4,792.8 1142.8,795.6 1143.2,796.5 1143.6,788.6 1144.1,792.1 1144.5,793.6 1144.9,793.1 1145.3,789.5 1145.7,793.2 1146.2,792.3 1146.6,794.8 1147.0,791.0 1147.4,790.4 1147.8,789.7 1148.3,790.1 1148.7,789.1 1149.1,790.3 1149.5,792.6 1149.9,792.6 1150.4,795.0 1150.8,794.4 1151.2,793.2 1151.6,788.4 1152.0,793.2 1152.5,794.9 1152.9,788.2 1153.3,788.8 1153.7,789.3 1154.1,789.2 1154.6,791.3 1155.0,789.6 1155.4,793.3 1155.8,789.0 1156.2,792.1 1156.7,791.1 1157.1,789.9 1157.5,795.5 1157.9,792.8 1158.3,794.3 1158.8,792.0 1159.2,794.9 1159.6,794.7 1160.0,792.7 1160.4,788.4 1160.9,795.5 1161.3,795.3 1161.7,794.0 1162.1,794.2 1162.5,794.0 1163.0,794.3 1163.4,791.1 1163.8,793.8 1164.2,794.9 1164.6,792.4 1165.1,791.6 1165.5,799.3 1165.9,796.0 1166.3,793.6 1166.7,793.2 1167.2,787.5 1167.6,790.8 1168.0,794.1 1168.4,798.3 1168.8,789.4 1169.3,793.1 1169.7,800.2 1170.1,797.0 1170.5,796.4 1170.9,798.5 1171.4,795.1 1171.8,795.0 1172.2,797.5 1172.6,797.9 1173.0,792.9 1173.5,799.9 1173.9,791.3 1174.3,794.2 1174.7,804.3 1175.1,794.8 1175.6,798.0 1176.0,793.7 1176.4,795.6 1176.8,794.6 1177.2,795.5 1177.7,798.4 1178.1,801.3 1178.5,799.1 1178.9,801.0 1179.3,795.6 1179.8,800.9 1180.2,798.6 1180.6,800.8 1181.0,796.1 1181.4,796.7 1181.9,801.0 1182.3,799.1 1182.7,797.8 1183.1,795.8 1183.5,797.4 1184.0,799.0 1184.4,799.7 1184.8,796.4 1185.2,797.1 1185.6,799.2 1186.1,795.2 1186.5,800.6 1186.9,798.2 1187.3,798.0 1187.7,792.1 1188.2,794.3 1188.6,795.8 1189.0,797.0 1189.4,795.8 1189.8,799.7 1190.3,799.1 1190.7,798.1 1191.1,793.6 1191.5,802.6 1191.9,798.3 1192.4,800.7 1192.8,797.5 1193.2,799.3 1193.6,801.1 1194.0,800.0 1194.5,802.0 1194.9,799.1 1195.3,804.8 1195.7,794.8 1196.1,798.4 1196.6,802.4 1197.0,799.3 1197.4,798.9 1197.8,795.5 1198.2,803.2 1198.7,795.4 1199.1,801.6 1199.5,800.9 1199.9,802.7 1200.3,804.2 1200.8,798.8 1201.2,798.5 1201.6,799.9 1202.0,796.3 1202.4,802.9 1202.9,799.8 1203.3,801.3 1203.7,798.0 1204.1,801.0 1204.5,799.4 1205.0,800.9 1205.4,798.3 1205.8,803.8 1206.2,799.6 1206.6,794.8 1207.1,803.0 1207.5,800.6 1207.9,799.2 1208.3,807.8 1208.7,801.4 1209.2,798.2 1209.6,800.1 1210.0,802.6 1210.4,801.2 1210.8,804.9 1211.3,804.5 1211.7,799.9 1212.1,802.0 1212.5,803.6 1212.9,801.0 1213.4,800.9 1213.8,804.4 1214.2,803.4 1214.6,798.7 1215.0,800.9 1215.5,801.3 1215.9,802.1 1216.3,800.7 1216.7,805.9 1217.1,800.2 1217.6,799.9 1218.0,803.2 1218.4,797.1 1218.8,800.2 1219.2,804.4 1219.7,799.6 1220.1,800.9 1220.5,805.8 1220.9,804.2 1221.3,803.3 1221.8,803.8 1222.2,801.6 1222.6,804.1 1223.0,802.9 1223.4,809.7 1223.9,804.8 1224.3,802.7 1224.7,803.5 1225.1,803.8 1225.5,800.3 1226.0,801.7 1226.4,807.6 1226.8,800.4 1227.2,802.5 1227.6,806.5 1228.1,807.8 1228.5,801.6 1228.9,807.8 1229.3,803.3 1229.7,808.4 1230.2,805.6 1230.6,803.7 1231.0,806.2 1231.4,805.9 1231.8,802.6 1232.3,809.9 1232.7,803.8 1233.1,807.6 1233.5,803.6 1233.9,800.3 1234.4,802.1 1234.8,804.7 1235.2,806.6 1235.6,809.3 1236.0,805.2 1236.5,804.3 1236.9,802.0 1237.3,804.9 1237.7,805.8 1238.1,799.6 1238.6,808.3 1239.0,807.9 1239.4,810.7 1239.8,802.8 1240.2,805.2 1240.7,805.2 1241.1,801.9 1241.5,803.0 1241.9,802.7 1242.3,806.4 1242.8,806.2 1243.2,808.5 1243.6,804.2 1244.0,801.7 1244.4,806.3 1244.9,806.1 1245.3,806.9 1245.7,808.3 1246.1,803.8 1246.5,807.2 1247.0,802.8 1247.4,805.7 1247.8,807.0 1248.2,805.0 1248.6,805.8 1249.1,801.9 1249.5,803.7 1249.9,805.7 1250.3,802.4 1250.7,803.3 1251.2,811.4 1251.6,806.0 1252.0,803.4 1252.4,802.9 1252.8,808.8 1253.3,798.5 1253.7,804.5 1254.1,806.8 1254.5,803.9 1254.9,806.6 1255.4,802.7 1255.8,805.3 1256.2,805.4 1256.6,805.3 1257.0,805.7 1257.5,805.4 1257.9,808.1 1258.3,804.7 1258.7,803.9 1259.1,804.6 1259.6,804.6 1260.0,801.6 1260.4,800.7 1260.8,802.1 1261.2,806.1 1261.7,803.8 1262.1,804.4 1262.5,812.4 1262.9,808.2 1263.3,804.9 1263.8,803.9 1264.2,808.8 1264.6,803.5 1265.0,808.5 1265.4,806.9 1265.9,808.9 1266.3,803.7 1266.7,807.7 1267.1,801.1 1267.5,805.1 1268.0,808.2 1268.4,807.3 1268.8,801.1 1269.2,807.3 1269.6,806.7 1270.1,805.4 1270.5,803.8 1270.9,804.9 1271.3,804.2 1271.7,808.0 1272.2,806.8 1272.6,808.3 1273.0,807.4 1273.4,802.5 1273.8,806.0 1274.3,810.9 1274.7,803.0 1275.1,806.4 1275.5,803.8 1275.9,803.6 1276.4,806.3 1276.8,808.0 1277.2,807.7 1277.6,806.9 1278.0,808.1 1278.5,801.8 1278.9,807.8 1279.3,806.8 1279.7,805.4 1280.1,805.8 1280.6,803.8 1281.0,808.7 1281.4,804.0 1281.8,802.3 1282.2,805.9 1282.7,804.5 1283.1,805.8 1283.5,809.6 1283.9,805.6 1284.3,806.3 1284.8,811.5 1285.2,802.6 1285.6,806.9 1286.0,808.9 1286.4,809.7 1286.9,811.5 1287.3,804.5 1287.7,807.6 1288.1,805.9 1288.5,805.0 1289.0,804.3 1289.4,802.6 1289.8,807.0 1290.2,808.0 1290.6,803.6 1291.1,808.0 1291.5,804.8 1291.9,803.7 1292.3,799.8 1292.7,808.9 1293.2,808.0 1293.6,805.5 1294.0,805.3 1294.4,803.1 1294.8,807.5 1295.3,806.1 1295.7,807.6 1296.1,806.8 1296.5,802.9 1296.9,802.5 1297.4,807.4 1297.8,802.2 1298.2,807.1 1298.6,808.6 1299.0,803.3 1299.5,808.1 1299.9,806.6 1300.3,807.8 1300.7,805.0 1301.1,806.5 1301.6,807.6 1302.0,811.1 1302.4,808.4 1302.8,807.8 1303.2,803.5 1303.7,807.5 1304.1,805.0 1304.5,806.5 1304.9,807.4 1305.3,809.1 1305.8,808.2 1306.2,807.2 1306.6,806.6 1307.0,810.1 1307.4,804.6 1307.9,806.9 1308.3,810.2 1308.7,806.4 1309.1,808.9 1309.5,809.1 1310.0,811.7 1310.4,809.7 1310.8,802.9 1311.2,807.0 1311.6,807.7 1312.1,809.0 1312.5,808.0 1312.9,811.7 1313.3,809.8 1313.7,804.2 1314.2,805.6 1314.6,802.1 1315.0,811.4 1315.4,806.9 1315.8,806.8 1316.3,803.4 1316.7,806.1 1317.1,808.3 1317.5,806.2 1317.9,806.3 1318.4,805.7 1318.8,812.1 1319.2,805.9 1319.6,803.8 1320.0,806.0 1320.5,806.5 1320.9,807.1 1321.3,806.7 1321.7,804.6 1322.1,806.9 1322.6,808.3 1323.0,804.0 1323.4,812.3 1323.8,811.6 1324.2,803.1 1324.7,806.6 1325.1,810.0 1325.5,810.8 1325.9,811.9 1326.3,803.1 1326.8,805.0 1327.2,806.4 1327.6,809.1 1328.0,805.1 1328.4,808.8 1328.9,808.9 1329.3,809.6 1329.7,804.8 1330.1,808.4 1330.5,808.1 1331.0,807.0 1331.4,811.2 1331.8,807.4 1332.2,811.6 1332.6,806.7 1333.1,812.3 1333.5,812.2 1333.9,806.3 1334.3,809.1 1334.7,809.1 1335.2,806.0 1335.6,810.3 1336.0,809.9 1336.4,806.4 1336.8,808.8 1337.3,810.7 1337.7,808.2 1338.1,806.9 1338.5,812.6 1338.9,806.3 1339.4,809.6 1339.8,811.5 1340.2,810.7 1340.6,804.4 1341.0,808.1 1341.5,808.6 1341.9,808.5 1342.3,810.5 1342.7,810.3 1343.1,809.4 1343.6,809.8 1344.0,811.6 1344.4,812.2 1344.8,804.7 1345.2,814.5 1345.7,808.0 1346.1,811.2 1346.5,805.4 1346.9,808.2 1347.3,806.4 1347.8,812.1 1348.2,811.6 1348.6,809.6 1349.0,809.2 1349.4,810.5 1349.9,807.4 1350.3,808.2 1350.7,807.9 1351.1,811.7 1351.5,809.8 1352.0,806.8 1352.4,810.7 1352.8,811.1 1353.2,813.2 1353.6,808.6 1354.1,811.0 1354.5,815.0 1354.9,809.3 1355.3,809.2 1355.7,811.3 1356.2,809.0 1356.6,810.2 1357.0,809.0 1357.4,808.4 1357.8,812.4 1358.3,809.4 1358.7,808.0 1359.1,809.7 1359.5,810.1 1359.9,811.2 1360.4,812.7 1360.8,814.7 1361.2,807.6 1361.6,810.0 1362.0,806.3 1362.5,811.2 1362.9,811.9 1363.3,809.1 1363.7,808.5 1364.1,808.4 1364.6,807.2 1365.0,812.3 1365.4,815.3 1365.8,808.2 1366.2,814.7 1366.7,810.6 1367.1,807.6 1367.5,812.3 1367.9,812.8 1368.3,812.0 1368.8,810.4 1369.2,815.0 1369.6,810.4 1370.0,812.6 1370.4,812.7 1370.9,809.1 1371.3,806.9 1371.7,807.2 1372.1,810.4 1372.5,812.2 1373.0,807.2 1373.4,809.7 1373.8,815.0 1374.2,807.2 1374.6,812.6 1375.1,812.3 1375.5,813.4 1375.9,808.1 1376.3,812.4 1376.7,808.4 1377.2,814.8 1377.6,809.7 1378.0,812.6 1378.4,809.9 1378.8,812.1 1379.3,808.2 1379.7,812.5 1380.1,813.3 1380.5,811.9 1380.9,815.7 1381.4,812.8 1381.8,813.9 1382.2,813.2 1382.6,816.5 1383.0,810.6 1383.5,811.5 1383.9,811.7 1384.3,813.6 1384.7,812.8 1385.1,814.2 1385.6,813.0 1386.0,811.1 1386.4,812.1 1386.8,813.3 1387.2,807.0 1387.7,815.6 1388.1,811.0 1388.5,811.5 1388.9,812.9 1389.3,811.7 1389.8,808.9 1390.2,811.8 1390.6,815.6"/>
<polyline stroke-width="6" points="846.5,751.0 846.5,757.0"/>
</g>
<g class="c" shape-rendering="crispEdges" stroke="#008000">
<polyline stroke-width="9.5" points="237.7,917.9 238.1,919.2 238.5,923.8 239.0,921.3 239.4,915.6 239.8,919.8 240.2,918.3 240.6,920.3 241.1,915.9 241.5,920.6 241.9,920.7 242.3,924.1 242.7,921.0 243.2,921.5 243.6,916.6 244.0,926.0 244.4,915.7 244.8,923.2 245.3,919.7 245.7,918.4 246.1,919.0 246.5,919.1 246.9,921.7 247.4,920.6 247.8,924.6 248.2,916.4 248.6,921.0 249.0,918.9 249.5,923.1 249.9,916.0 250.3,920.4 250.7,921.8 251.1,917.7 251.6,923.9 252.0,921.9 252.4,924.0 252.8,924.0 253.2,919.2 253.7,919.8 254.1,921.3 254.5,923.7 254.9,924.0 255.3,920.2 255.8,920.5 256.2,920.1 256.6,920.7 257.0,921.6 257.4,921.9 257.9,927.3 258.3,921.1 258.7,921.7 259.1,923.6 259.5,920.1 260.0,921.6 260.4,922.5 260.8,924.4 261.2,919.2 261.6,925.8 262.1,921.5 262.5,922.8 262.9,924.4 263.3,923.9 263.7,924.8 264.2,922.6 264.6,922.1 265.0,922.9 265.4,919.6 265.8,925.0 266.3,920.1 266.7,918.8 267.1,926.9 267.5,921.5 267.9,918.9 268.4,926.3 268.8,920.9 269.2,924.3 269.6,919.6 270.0,921.0 270.5,917.4 270.9,916.8 271.3,919.1 271.7,921.2 272.1,923.4 272.6,927.3 273.0,918.8 273.4,923.8 273.8,919.7 274.2,920.8 274.7,917.5 275.1,917.4 275.5,919.1 275.9,918.1 276.3,921.0 276.8,919.2 277.2,924.0 277.6,921.2 278.0,921.2 278.4,923.6 278.9,922.0 279.3,920.6 279.7,920.4 280.1,920.3 280.5,923.2 281.0,922.5 281.4,921.4 281.8,922.4 282.2,919.0 282.6,921.6 283.1,916.8 283.5,923.6 283.9,920.4 284.3,920.6 284.7,921.6 285.2,920.1 285.6,919.4 286.0,923.0 286.4,920.2 286.8,917.6 287.3,921.0 287.7,915.6 288.1,923.9 288.5,919.3 288.9,919.8 289.4,925.3 289.8,925.0 290.2,919.8 290.6,921.0 291.0,922.1 291.5,923.6 291.9,918.9 292.3,919.5 292.7,922.2 293.1,919.7 293.6,920.9 294.0,920.4 294.4,915.9 294.8,916.6 295.2,912.0 295.7,917.9 296.1,921.9 296.5,915.6 296.9,921.5 297.3,920.8 297.8,918.1 298.2,918.1 298.6,918.3 299.0,915.8 299.4,917.2 299.9,917.7 300.3,919.3 300.7,919.7 301.1,915.7 301.5,919.6 302.0,915.5 302.4,916.9 302.8,918.2 303.2,917.2 303.6,916.8 304.1,917.8 304.5,915.6 304.9,915.2 305.3,916.3 305.7,919.2 306.2,916.4 306.6,921.5 307.0,917.1 307.4,908.8 307.8,915.3 308.3,920.6 308.7,916.2 309.1,915.0 309.5,913.8 309.9,919.4 310.4,918.5 310.8,917.5 311.2,916.8 311.6,919.3 312.0,917.6 312.5,912.2 312.9,917.3 313.3,915.6 313.7,914.8 314.1,917.0 314.6,914.9 315.0,907.1 315.4,918.7 315.8,917.3 316.2,914.1 316.7,913.4 317.1,914.8 317.5,910.8 317.9,914.8 318.3,913.3 318.8,912.9 319.2,911.3 319.6,911.8 320.0,916.4 320.4,916.9 320.9,914.6 321.3,913.1 321.7,910.8 322.1,914.9 322.5,917.1 323.0,908.5 323.4,915.8 323.8,906.8 324.2,911.5 324.6,913.4 325.1,908.6 325.5,908.1 325.9,912.5 326.3,914.3 326.7,910.5 327.2,915.3 327.6,909.5 328.0,916.2 328.4,911.7 328.8,911.9 329.3,912.8 329.7,911.9 330.1,915.9 330.5,916.7 330.9,912.1 331.4,910.1 331.8,907.2 332.2,908.2 332.6,910.1 333.0,909.7 333.5,909.7 333.9,909.7 334.3,910.8 334.7,905.7 335.1,906.4 335.6,912.1 336.0,911.2 336.4,907.3 336.8,912.1 337.2,906.6 337.7,907.6 338.1,903.2 338.5,910.3 338.9,907.9 339.3,910.7 339.8,909.5 340.2,907.7 340.6,907.7 341.0,910.5 341.4,906.6 341.9,906.5 342.3,906.9 342.7,908.8 343.1,909.0 343.5,911.6 344.0,906.0 344.4,909.5 344.8,904.1 345.2,907.4 345.6,906.0 346.1,910.3 346.5,907.0 346.9,903.9 347.3,906.7 347.7,905.9 348.2,903.9 348.6,903.8 349.0,901.8 349.4,912.0 349.8,904.5 350.3,906.6 350.7,900.3 351.1,900.3 351.5,902.7 351.9,902.4 352.4,904.9 352.8,899.5 353.2,903.6 353.6,906.1 354.0,898.9 354.5,903.9 354.9,898.2 355.3,901.7 355.7,901.5 356.1,905.2 356.6,897.9 357.0,900.1 357.4,902.4 357.8,895.7 358.2,898.8 358.7,896.0 359.1,896.2 359.5,900.0 359.9,899.8 360.3,905.0 360.8,901.2 361.2,900.7 361.6,896.1 362.0,895.4 362.4,896.5 362.9,889.0 363.3,900.4 363.7,893.2 364.1,891.8 364.5,893.3 365.0,897.0 365.4,897.9 365.8,892.7 366.2,894.9 366.6,893.1 367.1,890.0 367.5,893.3 367.9,892.5 368.3,887.5 368.7,895.3 369.2,886.9 369.6,892.1 370.0,887.9 370.4,888.4 370.8,888.5 371.3,892.6 371.7,886.4 372.1,889.4 372.5,894.6 372.9,887.5 373.4,889.3 373.8,891.2 374.2,887.2 374.6,890.2 375.0,886.5 375.5,890.5 375.9,888.3 376.3,885.0 376.7,892.1 377.1,887.2 377.6,886.4 378.0,884.2 378.4,885.4 378.8,886.3 379.2,887.0 379.7,889.7 380.1,881.9 380.5,884.7 380.9,889.3 381.3,885.9 381.8,886.4 382.2,890.0 382.6,885.8 383.0,886.0 383.4,884.2 383.9,889.7 384.3,887.2 384.7,881.4 385.1,885.2 385.5,879.6 386.0,886.5 386.4,885.0 386.8,882.1 387.2,881.1 387.6,876.4 388.1,884.4 388.5,881.3 388.9,880.4 389.3,883.4 389.7,878.5 390.2,878.3 390.6,877.4 391.0,874.6 391.4,886.2 391.8,877.0 392.3,875.8 392.7,879.1 393.1,865.0 393.5,874.6 393.9,873.9 394.4,869.9 394.8,873.9 395.2,864.8 395.6,870.9 396.0,873.1 396.5,861.7 396.9,863.5 397.3,867.1 397.7,866.8 398.1,863.8 398.6,866.5 399.0,865.3 399.4,859.0 399.8,862.6 400.2,857.7 400.7,854.2 401.1,852.3 401.5,863.7 401.9,858.9 402.3,865.6 402.8,852.8 403.2,856.0 403.6,857.8 404.0,855.4 404.4,857.1 404.9,855.1 405.3,851.7 405.7,844.8 406.1,849.1 406.5,858.2 407.0,854.1 407.4,855.7 407.8,847.8 408.2,848.6 408.6,845.4 409.1,849.4 409.5,847.4 409.9,848.1 410.3,852.3 410.7,841.7 411.2,846.8 411.6,837.9 412.0,846.5 412.4,839.8 412.8,840.3 413.3,840.2 413.7,845.1 414.1,837.8 414.5,835.1 414.9,831.6 415.4,836.3 415.8,831.0 416.2,831.5 416.6,832.5 417.0,834.4 417.5,828.0 417.9,832.6 418.3,836.1 418.7,822.1 419.1,832.5 419.6,834.7 420.0,822.5 420.4,826.1 420.8,816.7 421.2,822.3 421.7,818.1 422.1,819.3 422.5,812.7 422.9,811.6 423.3,811.6 423.8,809.0 424.2,807.9 424.6,808.2 425.0,802.9 425.4,805.7 425.9,807.0 426.3,793.7 426.7,803.2 427.1,797.9 427.5,795.0 428.0,792.7 428.4,793.6 428.8,792.8 429.2,796.3 429.6,788.0 430.1,797.0 430.5,787.4 430.9,792.9 431.3,793.5 431.7,781.9 432.2,791.0 432.6,794.9 433.0,781.8 433.4,785.3 433.8,780.8 434.3,780.6 434.7,778.1 435.1,775.5 435.5,780.0 435.9,779.5 436.4,774.2 436.8,780.1 437.2,776.9 437.6,773.9 438.0,766.1 438.5,777.3 438.9,773.4 439.3,755.8 439.7,759.6 440.1,761.5 440.6,767.1 441.0,767.5 441.4,759.0 441.8,760.5 442.2,761.5 442.7,750.9 443.1,758.8 443.5,753.3 443.9,754.6 444.3,752.4 444.8,745.7 445.2,745.5 445.6,749.4 446.0,748.8 446.4,745.7 446.9,751.1 447.3,743.0 447.7,737.5 448.1,740.7 448.5,740.4 449.0,739.4 449.4,744.7 449.8,740.2 450.2,741.6 450.6,738.0 451.1,732.6 451.5,737.4 451.9,729.4 452.3,730.7 452.7,723.1 453.2,727.7 453.6,724.5 454.0,727.2 454.4,733.9 454.8,736.2 455.3,728.5 455.7,722.6 456.1,726.6 456.5,723.2 456.9,718.7 457.4,721.5 457.8,720.5 458.2,718.8 458.6,729.3 459.0,719.5 459.5,719.9 459.9,726.3 460.3,719.2 460.7,717.0 461.1,718.6 461.6,725.6 462.0,725.1 462.4,724.8 462.8,720.8 463.2,718.5 463.7,728.0 464.1,715.7 464.5,722.2 464.9,716.4 465.3,721.2 465.8,722.5 466.2,729.7 466.6,708.4 467.0,730.4 467.4,718.7 467.9,724.8 468.3,727.5 468.7,719.3 469.1,722.8 469.5,725.8 470.0,722.5 470.4,719.2 470.8,724.0 471.2,723.4 471.6,714.9 472.1,729.7 472.5,723.6 472.9,709.7 473.3,717.9 473.7,731.2 474.2,730.6 474.6,723.9 475.0,714.0 475.4,722.0 475.8,729.3 476.3,726.5 476.7,723.5 477.1,722.3 477.5,731.2 477.9,726.8 478.4,730.4 478.8,732.2 479.2,738.9 479.6,732.3 480.0,733.6 480.5,724.0 480.9,739.6 481.3,739.3 481.7,735.6 482.1,725.0 482.6,734.5 483.0,738.6 483.4,749.6 483.8,742.9 484.2,744.8 484.7,745.8 485.1,749.3 485.5,737.9 485.9,740.3 486.3,739.7 486.8,745.2 487.2,745.9 487.6,749.2 488.0,744.7 488.4,751.3 488.9,747.7 489.3,763.4 489.7,751.5 490.1,767.7 490.5,764.3 491.0,751.8 491.4,763.4 491.8,762.8 492.2,753.7 492.6,765.2 493.1,763.0 493.5,766.3 493.9,761.8 494.3,766.7 494.7,770.1 495.2,768.5 495.6,767.7 496.0,771.0 496.4,768.3 496.8,775.7 497.3,763.3 497.7,783.4 498.1,777.8 498.5,780.8 498.9,783.6 499.4,774.9 499.8,791.9 500.2,777.2 500.6,785.2 501.0,785.2 501.5,790.4 501.9,785.1 502.3,779.4 502.7,787.9 503.1,776.0 503.6,786.9 504.0,786.4 504.4,796.1 504.8,788.5 505.2,788.4 505.7,787.7 506.1,787.8 506.5,789.7 506.9,795.3 507.3,787.2 507.8,792.5 508.2,787.3 508.6,793.3 509.0,795.0 509.4,789.0 509.9,792.2 510.3,795.4 510.7,798.5 511.1,799.6 511.5,795.1 512.0,791.4 512.4,788.8 512.8,799.6 513.2,802.6 513.6,798.2 514.1,803.7 514.5,795.0 514.9,795.3 515.3,804.1 515.7,792.7 516.2,799.8 516.6,798.8 517.0,797.6 517.4,804.5 517.8,792.8 518.3,794.6 518.7,787.1 519.1,791.6 519.5,793.8 519.9,794.2 520.4,794.8 520.8,796.9 521.2,792.4 521.6,786.4 522.0,795.7 522.5,796.7 522.9,789.6 523.3,791.1 523.7,802.2 524.1,798.8 524.6,798.9 525.0,796.9 525.4,794.4 525.8,791.3 526.2,796.0 526.7,792.3 527.1,791.1 527.5,792.8 527.9,792.2 528.3,796.3 528.8,787.6 529.2,802.6 529.6,786.3 530.0,788.3 530.4,793.7 530.9,784.9 531.3,785.7 531.7,787.2 532.1,772.8 532.5,783.1 533.0,780.2 533.4,782.6 533.8,785.2 534.2,785.0 534.6,788.1 535.1,787.0 535.5,784.3 535.9,778.5 536.3,782.7 536.7,772.4 537.2,775.7 537.6,782.0 538.0,778.2 538.4,767.0 538.8,769.9 539.3,776.0 539.7,773.7 540.1,774.9 540.5,760.4 540.9,761.8 541.4,765.6 541.8,761.1 542.2,764.6 542.6,763.8 543.0,764.4 543.5,761.1 543.9,763.5 544.3,763.5 544.7,759.5 545.1,751.8 545.6,763.0 546.0,756.8 546.4,756.7 546.8,754.5 547.2,744.6 547.7,754.3 548.1,747.1 548.5,743.1 548.9,754.3 549.3,745.0 549.8,746.7 550.2,748.3 550.6,750.6 551.0,731.8 551.4,735.8 551.9,741.6 552.3,733.3 552.7,718.5 553.1,734.5 553.5,733.4 554.0,734.9 554.4,730.4 554.8,725.4 555.2,727.2 555.6,724.2 556.1,720.1 556.5,722.4 556.9,721.3 557.3,712.3 557.7,721.4 558.2,718.6 558.6,716.4 559.0,695.4 559.4,708.6 559.8,705.0 560.3,697.7 560.7,703.8 561.1,689.7 561.5,702.1 561.9,694.8 562.4,687.2 562.8,695.3 563.2,687.3 563.6,684.1 564.0,672.2 564.5,680.1 564.9,682.6 565.3,678.3 565.7,662.0 566.1,675.0 566.6,673.7 567.0,666.8 567.4,657.1 567.8,647.9 568.2,648.9 568.7,648.3 569.1,650.9 569.5,650.1 569.9,639.9 570.3,632.0 570.8,636.9 571.2,628.9 571.6,642.6 572.0,624.6 572.4,632.6 572.9,632.3 573.3,618.8 573.7,628.6 574.1,619.1 574.5,612.6 575.0,609.2 575.4,613.3 575.8,616.8 576.2,595.4 576.6,608.4 577.1,600.5 577.5,593.2 577.9,593.7 578.3,590.4 578.7,586.0 579.2,587.7 579.6,572.6 580.0,587.8 580.4,577.2 580.8,564.1 581.3,552.0 581.7,561.7 582.1,556.1 582.5,560.9 582.9,557.8 583.4,563.1 583.8,546.4 584.2,549.9 584.6,538.8 585.0,536.4 585.5,546.8 585.9,532.4 586.3,529.7 586.7,525.0 587.1,526.6 587.6,525.3 588.0,516.9 588.4,506.2 588.8,513.2 589.2,501.3 589.7,501.0 590.1,501.3 590.5,497.6 590.9,474.9 591.3,500.1 591.8,489.5 592.2,493.9 592.6,494.8 593.0,466.4 593.4,466.9 593.9,471.5 594.3,476.0 594.7,465.4 595.1,467.6 595.5,478.9 596.0,465.7 596.4,475.3 596.8,483.2 597.2,474.8 597.6,484.0 598.1,478.9 598.5,469.7 598.9,478.8 599.3,482.8 599.7,483.4 600.2,487.5 600.6,491.7 601.0,492.5 601.4,493.2 601.8,490.4 602.3,493.7 602.7,494.5 603.1,495.1 603.5,511.5 603.9,490.8 604.4,508.9 604.8,498.8 605.2,509.5 605.6,522.8 606.0,518.8 606.5,534.3 606.9,521.9 607.3,530.5 607.7,532.5 608.1,541.3 608.6,543.7 609.0,548.0 609.4,555.9 609.8,567.5 610.2,565.9 610.7,570.0 611.1,572.4 611.5,574.2 611.9,573.9 612.3,580.9 612.8,592.1 613.2,583.9 613.6,604.5 614.0,602.0 614.4,603.0 614.9,609.8 615.3,621.6 615.7,624.1 616.1,627.9 616.5,641.6 617.0,649.8 617.4,633.1 617.8,651.4 618.2,647.5 618.6,650.1 619.1,661.4 619.5,676.6 619.9,675.2 620.3,680.1 620.7,696.0 621.2,696.0 621.6,697.5 622.0,712.3 622.4,709.5 622.8,707.3 623.3,709.5 623.7,717.2 624.1,724.2 624.5,732.0 624.9,735.0 625.4,734.5 625.8,731.0 626.2,744.6 626.6,743.0 627.0,739.7 627.5,741.6 627.9,751.4 628.3,754.5 628.7,759.2 629.1,751.8 629.6,769.5 630.0,753.9 630.4,764.9 630.8,773.9 631.2,774.9 631.7,767.8 632.1,777.5 632.5,782.7 632.9,782.7 633.3,777.0 633.8,791.4 634.2,778.6 634.6,788.2 635.0,785.2 635.4,790.0 635.9,792.2 636.3,797.6 636.7,791.4 637.1,799.5 637.5,805.8 638.0,802.0 638.4,805.6 638.8,806.7 639.2,803.1 639.6,806.3 640.1,809.6 640.5,812.9 640.9,820.9 641.3,820.6 641.7,813.1 642.2,814.5 642.6,813.2 643.0,808.9 643.4,825.0 643.8,822.7 644.3,813.5 644.7,822.6 645.1,833.2 645.5,826.5 645.9,827.5 646.4,827.3 646.8,824.4 647.2,823.7 647.6,826.1 648.0,831.0 648.5,830.4 648.9,835.1 649.3,840.3 649.7,836.7 650.1,838.6 650.6,834.9 651.0,832.2 651.4,846.6 651.8,841.8 652.2,844.4 652.7,839.0 653.1,834.6 653.5,846.8 653.9,833.9 654.3,842.0 654.8,841.1 655.2,844.4 655.6,847.1 656.0,847.5 656.4,836.8 656.9,849.0 657.3,838.4 657.7,848.6 658.1,844.8 658.5,842.6 659.0,845.3 659.4,842.8 659.8,848.1 660.2,852.1 660.6,852.0 661.1,849.6 661.5,854.0 661.9,852.2 662.3,858.8 662.7,853.1 663.2,849.3 663.6,850.9 664.0,849.6 664.4,851.7 664.8,852.7 665.3,856.2 665.7,856.9 666.1,854.7 666.5,856.5 666.9,852.6 667.4,853.7 667.8,847.1 668.2,853.7 668.6,855.2 669.0,866.8 669.5,852.9 669.9,858.5 670.3,857.5 670.7,853.4 671.1,860.5 671.6,860.0 672.0,855.1 672.4,852.4 672.8,861.0 673.2,856.5 673.7,864.4 674.1,861.4 674.5,864.7 674.9,862.0 675.3,868.9 675.8,866.2 676.2,869.4 676.6,864.7 677.0,860.9 677.4,859.7 677.9,863.2 678.3,866.2 678.7,863.2 679.1,874.3 679.5,865.6 680.0,867.7 680.4,866.6 680.8,862.1 681.2,870.5 681.6,869.3 682.1,870.2 682.5,864.2 682.9,867.7 683.3,867.8 683.7,872.2 684.2,863.5 684.6,870.9 685.0,873.2 685.4,867.6 685.8,866.4 686.3,874.1 686.7,870.6 687.1,873.9 687.5,872.8 687.9,874.1 688.4,870.0 688.8,863.5 689.2,873.2 689.6,869.0 690.0,873.7 690.5,870.0 690.9,877.7 691.3,871.5 691.7,875.4 692.1,876.6 692.6,872.7 693.0,874.4 693.4,873.4 693.8,870.6 694.2,879.0 694.7,871.1 695.1,869.1 695.5,872.9 695.9,875.3 696.3,875.3 696.8,874.2 697.2,874.0 697.6,868.5 698.0,878.1 698.4,882.1 698.9,874.0 699.3,870.6 699.7,879.3 700.1,876.4 700.5,863.7 701.0,874.7 701.4,872.4 701.8,873.4 702.2,884.2 702.6,880.9 703.1,877.1 703.5,877.7 703.9,883.1 704.3,874.1 704.7,880.4 705.2,875.8 705.6,880.9 706.0,878.9 706.4,875.7 706.8,881.9 707.3,880.2 707.7,884.6 708.1,877.1 708.5,879.0 708.9,876.3 709.4,882.8 709.8,876.2 710.2,878.8 710.6,883.3 711.0,880.7 711.5,880.0 711.9,880.0 712.3,880.3 712.7,881.4 713.1,878.2 713.6,872.7 714.0,883.9 714.4,875.9 714.8,885.7 715.2,880.6 715.7,890.3 716.1,883.7 716.5,881.2 716.9,882.9 717.3,875.2 717.8,880.6 718.2,878.8 718.6,880.2 719.0,873.3 719.4,872.9 719.9,882.7 720.3,880.5 720.7,878.9 721.1,880.1 721.5,878.3 722.0,879.0 722.4,882.9 722.8,879.9 723.2,883.1 723.6,878.4 724.1,874.8 724.5,878.7 724.9,880.5 725.3,877.3 725.7,879.8 726.2,879.5 726.6,884.3 727.0,884.1 727.4,885.0 727.8,878.9 728.3,882.6 728.7,885.8 729.1,882.2 729.5,881.4 729.9,879.2 730.4,884.6 730.8,882.5 731.2,885.3 731.6,881.5 732.0,888.9 732.5,882.1 732.9,878.1 733.3,883.0 733.7,884.0 734.1,886.7 734.6,880.9 735.0,880.8 735.4,881.7 735.8,881.4 736.2,875.7 736.7,885.2 737.1,887.0 737.5,880.4 737.9,879.8 738.3,882.6 738.8,880.5 739.2,885.8 739.6,881.3 740.0,885.4 740.4,879.4 740.9,878.9 741.3,878.5 741.7,879.0 742.1,885.1 742.5,886.6 743.0,884.3 743.4,884.6 743.8,876.8 744.2,887.7 744.6,880.1 745.1,888.5 745.5,892.2 745.9,884.5 746.3,886.4 746.7,886.5 747.2,880.2 747.6,880.9 748.0,882.4 748.4,885.2 748.8,887.6 749.3,885.3 749.7,888.6 750.1,883.4 750.5,880.5 750.9,885.3 751.4,885.1 751.8,880.8 752.2,888.8 752.6,882.5 753.0,883.3 753.5,886.5 753.9,882.4 754.3,888.0 754.7,887.3 755.1,887.6 755.6,886.2 756.0,884.8 756.4,884.0 756.8,887.5 757.2,891.0 757.7,889.3 758.1,888.0 758.5,890.1 758.9,891.3 759.3,883.1 759.8,887.1 760.2,891.2 760.6,885.3 761.0,886.0 761.4,889.6 761.9,887.0 762.3,891.7 762.7,886.9 763.1,889.9 763.5,896.1 764.0,891.9 764.4,884.0 764.8,885.1 765.2,885.3 765.6,888.4 766.1,884.2 766.5,890.5 766.9,894.3 767.3,893.9 767.7,886.6 768.2,888.2 768.6,888.2 769.0,886.7 769.4,894.7 769.8,887.3 770.3,886.0 770.7,890.7 771.1,890.7 771.5,894.5 771.9,894.6 772.4,889.3 772.8,883.3 773.2,892.1 773.6,892.6 774.0,895.8 774.5,885.2 774.9,886.6 775.3,895.2 775.7,895.5 776.1,894.5 776.6,890.4 777.0,894.6 777.4,888.9 777.8,886.8 778.2,890.6 778.7,891.2 779.1,893.4 779.5,894.4 779.9,885.5 780.3,892.0 780.8,892.7 781.2,887.3 781.6,890.5 782.0,891.5 782.4,892.8 782.9,888.8 783.3,889.7 783.7,888.2 784.1,892.7 784.5,890.7 785.0,890.0 785.4,893.9 785.8,891.4 786.2,888.3 786.6,895.6 787.1,895.2 787.5,893.6 787.9,889.1 788.3,895.8 788.7,890.6 789.2,886.7 789.6,892.2 790.0,898.2 790.4,891.3 790.8,894.6 791.3,897.1 791.7,893.5 792.1,892.0 792.5,893.1 792.9,894.9 793.4,891.6 793.8,894.2 794.2,894.9 794.6,892.0 795.0,895.4 795.5,894.9 795.9,892.2 796.3,892.6 796.7,893.5 797.1,892.6 797.6,892.4 798.0,889.9 798.4,893.3 798.8,895.2 799.2,894.9 799.7,890.4 800.1,894.6 800.5,894.8 800.9,890.1 801.3,894.4 801.8,892.3 802.2,891.7 802.6,893.5 803.0,892.1 803.4,886.0 803.9,893.3 804.3,889.3 804.7,892.3 805.1,894.6 805.5,891.8 806.0,891.0 806.4,892.7 806.8,893.7 807.2,889.5 807.6,890.0 808.1,893.3 808.5,896.5 808.9,891.4 809.3,894.0 809.7,888.9 810.2,891.0 810.6,891.1 811.0,886.8 811.4,890.5 811.8,889.8 812.3,882.4 812.7,889.8 813.1,890.8 813.5,890.5 813.9,890.6 814.4,886.0 814.8,887.0 815.2,888.5 815.6,886.3 816.0,887.4 816.5,892.4 816.9,885.7 817.3,887.2 817.7,893.7 818.1,887.5 818.6,884.6 819.0,888.2 819.4,887.8 819.8,887.4 820.2,881.6 820.7,887.4 821.1,887.5 821.5,892.5 821.9,888.0 822.3,884.3 822.8,886.4 823.2,887.2 823.6,884.5 824.0,884.6 824.4,888.7 824.9,885.8 825.3,885.6 825.7,880.7 826.1,884.9 826.5,877.3 827.0,887.0 827.4,881.4 827.8,884.6 828.2,886.8 828.6,878.8 829.1,885.7 829.5,882.6 829.9,885.4 830.3,880.5 830.7,879.3 831.2,885.6 831.6,882.7 832.0,881.5 832.4,877.6 832.8,885.4 833.3,880.1 833.7,880.4 834.1,878.8 834.5,881.0 834.9,882.8 835.4,880.6 835.8,880.4 836.2,878.9 836.6,885.3 837.0,885.7 837.5,879.5 837.9,877.6 838.3,881.1 838.7,875.1 839.1,880.9 839.6,880.9 840.0,880.5 840.4,885.0 840.8,885.6 841.2,881.0 841.7,878.3 842.1,882.5 842.5,882.7 842.9,874.9 843.3,876.2 843.8,877.4 844.2,872.7 844.6,874.1 845.0,882.8 845.4,873.1 845.9,879.7 846.3,874.1 846.7,879.6 847.1,877.1 847.5,878.7 848.0,870.9 848.4,876.0 848.8,872.8 849.2,876.7 849.6,876.0 850.1,873.7 850.5,872.2 850.9,872.0 851.3,872.3 851.7,869.3 852.2,869.0 852.6,867.7 853.0,865.8 853.4,872.4 853.8,864.1 854.3,872.6 854.7,870.4 855.1,862.2 855.5,861.8 855.9,868.1 856.4,864.6 856.8,868.8 857.2,871.7 857.6,869.9 858.0,868.1 858.5,868.4 858.9,874.2 859.3,868.2 859.7,875.4 860.1,876.7 860.6,868.8 861.0,871.2 861.4,876.2 861.8,868.4 862.2,872.4 862.7,874.7 863.1,868.0 863.5,872.9 863.9,872.3 864.3,870.4 864.8,877.5 865.2,872.2 865.6,880.4 866.0,875.5 866.4,871.0 866.9,874.5 867.3,871.3 867.7,876.8 868.1,876.5 868.5,870.7 869.0,873.5 869.4,876.6 869.8,875.5 870.2,872.3 870.6,879.3 871.1,880.4 871.5,871.5 871.9,881.3 872.3,870.2 872.7,876.6 873.2,875.1 873.6,875.7 874.0,878.4 874.4,874.3 874.8,878.0 875.3,883.9 875.7,880.3 876.1,883.8 876.5,882.1 876.9,874.4 877.4,885.5 877.8,882.8 878.2,882.5 878.6,879.5 879.0,879.3 879.5,877.9 879.9,881.0 880.3,882.1 880.7,881.5 881.1,881.8 881.6,876.4 882.0,880.4 882.4,880.5 882.8,884.1 883.2,882.0 883.7,882.2 884.1,884.1 884.5,882.5 884.9,883.3 885.3,887.7 885.8,884.0 886.2,881.8 886.6,886.6 887.0,887.4 887.4,887.0 887.9,881.2 888.3,888.3 888.7,885.8 889.1,886.2 889.5,886.2 890.0,887.5 890.4,887.8 890.8,890.9 891.2,887.4 891.6,886.5 892.1,888.9 892.5,886.8 892.9,890.6 893.3,887.9 893.7,889.9 894.2,886.2 894.6,890.9 895.0,889.9 895.4,885.6 895.8,887.1 896.3,888.5 896.7,884.4 897.1,885.1 897.5,889.9 897.9,890.0 898.4,892.6 898.8,884.8 899.2,887.6 899.6,882.6 900.0,894.0 900.5,884.9 900.9,888.1 901.3,894.7 901.7,893.2 902.1,886.4 902.6,895.8 903.0,890.5 903.4,886.1 903.8,890.0 904.2,891.2 904.7,891.2 905.1,883.1 905.5,894.9 905.9,884.8 906.3,889.0 906.8,894.0 907.2,891.0 907.6,889.8 908.0,888.3 908.4,891.9 908.9,894.4 909.3,888.9 909.7,891.9 910.1,889.7 910.5,889.7 911.0,885.0 911.4,892.0 911.8,894.2 912.2,891.2 912.6,894.8 913.1,892.4 913.5,895.7 913.9,892.7 914.3,891.3 914.7,891.1 915.2,893.0 915.6,893.7 916.0,890.8 916.4,892.8 916.8,889.5 917.3,889.6 917.7,895.5 918.1,894.9 918.5,896.5 918.9,894.5 919.4,895.0 919.8,899.7 920.2,892.2 920.6,895.6 921.0,899.4 921.5,900.9 921.9,896.8 922.3,895.0 922.7,892.5 923.1,895.2 923.6,896.2 924.0,895.9 924.4,897.4 924.8,897.7 925.2,894.8 925.7,893.7 926.1,895.4 926.5,897.6 926.9,901.0 927.3,891.7 927.8,899.5 928.2,895.6 928.6,899.6 929.0,901.8 929.4,897.9 929.9,893.3 930.3,895.4 930.7,897.6 931.1,895.7 931.5,896.5 932.0,894.5 932.4,896.1 932.8,895.0 933.2,899.2 933.6,897.7 934.1,898.9 934.5,892.3 934.9,895.6 935.3,894.9 935.7,895.8 936.2,894.5 936.6,895.0 937.0,901.5 937.4,896.4 937.8,893.6 938.3,896.3 938.7,903.5 939.1,899.2 939.5,894.7 939.9,896.6 940.4,897.1 940.8,897.5 941.2,892.2 941.6,894.8 942.0,897.0 942.5,892.7 942.9,897.0 943.3,897.8 943.7,899.8 944.1,900.6 944.6,897.1 945.0,898.3 945.4,899.6 945.8,900.6 946.2,898.0 946.7,895.7 947.1,899.5 947.5,900.3 947.9,898.3 948.3,899.6 948.8,902.4 949.2,896.6 949.6,896.1 950.0,895.0 950.4,899.1 950.9,900.8 951.3,896.7 951.7,903.2 952.1,896.6 952.5,899.0 953.0,897.9 953.4,902.1 953.8,896.5 954.2,902.9 954.6,897.8 955.1,894.6 955.5,896.8 955.9,897.9 956.3,903.1 956.7,897.1 957.2,898.4 957.6,904.2 958.0,898.9 958.4,896.7 958.8,896.4 959.3,894.1 959.7,899.5 960.1,901.9 960.5,897.5 960.9,895.6 961.4,899.3 961.8,898.6 962.2,898.2 962.6,899.8 963.0,898.7 963.5,897.6 963.9,901.4 964.3,893.4 964.7,895.5 965.1,897.8 965.6,894.9 966.0,902.8 966.4,892.5 966.8,900.6 967.2,900.2 967.7,899.6 968.1,899.9 968.5,897.1 968.9,896.7 969.3,902.7 969.8,898.3 970.2,894.7 970.6,895.3 971.0,894.5 971.4,899.6 971.9,902.0 972.3,898.0 972.7,899.3 973.1,897.5 973.5,901.4 974.0,901.4 974.4,901.5 974.8,904.0 975.2,895.6 975.6,901.3 976.1,894.7 976.5,901.1 976.9,901.4 977.3,901.2 977.7,901.4 978.2,898.9 978.6,897.5 979.0,901.4 979.4,897.6 979.8,901.3 980.3,897.0 980.7,900.3 981.1,900.2 981.5,897.1 981.9,898.5 982.4,902.0 982.8,899.6 983.2,900.9 983.6,898.0 984.0,899.8 984.5,895.5 984.9,897.4 985.3,903.0 985.7,901.1 986.1,899.7 986.6,900.0 987.0,895.9 987.4,900.8 987.8,896.3 988.2,897.7 988.7,901.6 989.1,897.7 989.5,898.3 989.9,899.5 990.3,900.0 990.8,903.4 991.2,895.1 991.6,898.6 992.0,901.4 992.4,898.4 992.9,898.7 993.3,897.6 993.7,899.0 994.1,901.6 994.5,903.2 995.0,900.8 995.4,903.6 995.8,900.1 996.2,895.3 996.6,902.0 997.1,894.4 997.5,899.8 997.9,899.9 998.3,896.9 998.7,899.4 999.2,898.5 999.6,900.4 1000.0,899.2 1000.4,901.7 1000.8,899.0 1001.3,901.7 1001.7,900.1 1002.1,900.8 1002.5,900.5 1002.9,898.8 1003.4,903.2 1003.8,901.8 1004.2,894.0 1004.6,896.9 1005.0,904.9 1005.5,899.5 1005.9,907.9 1006.3,901.5 1006.7,901.5 1007.1,899.1 1007.6,899.7 1008.0,900.8 1008.4,902.8 1008.8,900.6 1009.2,900.3 1009.7,897.7 1010.1,899.1 1010.5,899.3 1010.9,900.1 1011.3,898.4 1011.8,897.5 1012.2,899.6 1012.6,893.7 1013.0,896.3 1013.4,898.2 1013.9,901.5 1014.3,898.5 1014.7,897.4 1015.1,902.2 1015.5,900.0 1016.0,904.1 1016.4,899.8 1016.8,898.5 1017.2,899.4 1017.6,905.2 1018.1,904.6 1018.5,900.8 1018.9,903.2 1019.3,896.7 1019.7,903.8 1020.2,901.4 1020.6,900.2 1021.0,900.5 1021.4,901.2 1021.8,899.3 1022.3,899.5 1022.7,897.2 1023.1,904.7 1023.5,898.1 1023.9,900.1 1024.4,903.3 1024.8,903.8 1025.2,904.4 1025.6,899.0 1026.0,899.4 1026.5,900.4 1026.9,895.7 1027.3,903.1 1027.7,896.4 1028.1,900.5 1028.6,903.3 1029.0,903.2 1029.4,899.8 1029.8,903.5 1030.2,904.0 1030.7,896.6 1031.1,900.5 1031.5,903.1 1031.9,902.5 1032.3,900.8 1032.8,901.2 1033.2,907.7 1033.6,900.6 1034.0,904.5 1034.4,898.6 1034.9,903.3 1035.3,904.7 1035.7,900.9 1036.1,900.5 1036.5,907.1 1037.0,901.8 1037.4,905.1 1037.8,898.6 1038.2,907.1 1038.6,897.4 1039.1,900.3 1039.5,901.3 1039.9,902.8 1040.3,903.6 1040.7,907.4 1041.2,908.8 1041.6,908.3 1042.0,905.6 1042.4,904.1 1042.8,898.1 1043.3,903.5 1043.7,902.2 1044.1,905.5 1044.5,901.2 1044.9,901.8 1045.4,902.1 1045.8,905.8 1046.2,904.7 1046.6,901.6 1047.0,899.8 1047.5,902.9 1047.9,902.8 1048.3,903.1 1048.7,904.8 1049.1,906.6 1049.6,906.8 1050.0,903.0 1050.4,902.8 1050.8,908.8 1051.2,904.2 1051.7,906.8 1052.1,905.4 1052.5,905.9 1052.9,909.1 1053.3,904.3 1053.8,907.8 1054.2,906.3 1054.6,904.5 1055.0,903.7 1055.4,903.6 1055.9,908.0 1056.3,907.6 1056.7,902.7 1057.1,906.0 1057.5,900.2 1058.0,905.1 1058.4,910.4 1058.8,901.8 1059.2,905.8 1059.6,903.4 1060.1,905.2 1060.5,902.2 1060.9,905.5 1061.3,898.8 1061.7,904.3 1062.2,904.1 1062.6,904.7 1063.0,910.3 1063.4,901.9 1063.8,903.1 1064.3,901.3 1064.7,906.3 1065.1,905.0 1065.5,901.8 1065.9,907.4 1066.4,905.6 1066.8,908.7 1067.2,906.9 1067.6,905.1 1068.0,902.8 1068.5,899.2 1068.9,903.3 1069.3,907.9 1069.7,904.2 1070.1,902.6 1070.6,905.5 1071.0,906.8 1071.4,912.3 1071.8,902.2 1072.2,903.9 1072.7,901.8 1073.1,902.9 1073.5,907.3 1073.9,904.5 1074.3,900.9 1074.8,908.4 1075.2,909.5 1075.6,906.9 1076.0,902.2 1076.4,902.0 1076.9,908.3 1077.3,902.2 1077.7,903.4 1078.1,901.0 1078.5,910.0 1079.0,903.1 1079.4,904.5 1079.8,902.9 1080.2,903.1 1080.6,901.8 1081.1,907.9 1081.5,903.2 1081.9,908.9 1082.3,901.6 1082.7,906.3 1083.2,907.6 1083.6,901.9 1084.0,905.7 1084.4,903.5 1084.8,902.1 1085.3,903.9 1085.7,900.1 1086.1,904.3 1086.5,901.0 1086.9,906.9 1087.4,909.2 1087.8,908.9 1088.2,903.2 1088.6,904.8 1089.0,910.5 1089.5,908.6 1089.9,906.9 1090.3,899.5 1090.7,904.4 1091.1,911.3 1091.6,906.6 1092.0,904.1 1092.4,905.6 1092.8,911.8 1093.2,908.9 1093.7,902.0 1094.1,902.4 1094.5,905.6 1094.9,909.0 1095.3,903.4 1095.8,904.0 1096.2,898.6 1096.6,903.8 1097.0,907.2 1097.4,907.2 1097.9,901.6 1098.3,907.7 1098.7,903.3 1099.1,901.7 1099.5,906.9 1100.0,901.1 1100.4,904.3 1100.8,903.2 1101.2,905.2 1101.6,906.2 1102.1,904.4 1102.5,903.3 1102.9,904.3 1103.3,899.2 1103.7,905.4 1104.2,911.4 1104.6,906.8 1105.0,909.1 1105.4,906.0 1105.8,906.1 1106.3,907.3 1106.7,908.0 1107.1,908.0 1107.5,904.0 1107.9,906.4 1108.4,902.3 1108.8,909.2 1109.2,906.3 1109.6,905.7 1110.0,903.1 1110.5,907.8 1110.9,909.3 1111.3,908.0 1111.7,909.7 1112.1,904.6 1112.6,909.3 1113.0,906.8 1113.4,899.6 1113.8,907.6 1114.2,904.2 1114.7,906.6 1115.1,905.2 1115.5,904.7 1115.9,910.0 1116.3,905.6 1116.8,907.7 1117.2,909.1 1117.6,906.2 1118.0,904.0 1118.4,907.5 1118.9,907.2 1119.3,905.0 1119.7,907.8 1120.1,911.0 1120.5,910.2 1121.0,911.9 1121.4,911.5 1121.8,908.3 1122.2,907.8 1122.6,904.9 1123.1,911.1 1123.5,906.4 1123.9,909.5 1124.3,912.5 1124.7,908.4 1125.2,904.1 1125.6,905.4 1126.0,907.3 1126.4,911.9 1126.8,907.5 1127.3,908.1 1127.7,905.7 1128.1,909.6 1128.5,909.0 1128.9,911.0 1129.4,906.3 1129.8,910.6 1130.2,905.2 1130.6,907.3 1131.0,907.7 1131.5,908.7 1131.9,910.4 1132.3,903.1 1132.7,909.2 1133.1,908.5 1133.6,906.1 1134.0,908.9 1134.4,911.0 1134.8,908.7 1135.2,908.6 1135.7,911.9 1136.1,908.1 1136.5,913.0 1136.9,911.3 1137.3,911.6 1137.8,912.1 1138.2,913.9 1138.6,908.8 1139.0,913.8 1139.4,908.5 1139.9,911.9 1140.3,912.7 1140.7,911.5 1141.1,908.3 1141.5,908.1 1142.0,908.5 1142.4,911.4 1142.8,912.0 1143.2,913.1 1143.6,907.7 1144.1,912.7 1144.5,914.6 1144.9,912.4 1145.3,912.1 1145.7,914.3 1146.2,916.4 1146.6,916.3 1147.0,916.5 1147.4,909.2 1147.8,916.4 1148.3,911.9 1148.7,915.0 1149.1,911.3 1149.5,914.0 1149.9,911.6 1150.4,912.4 1150.8,918.2 1151.2,910.1 1151.6,915.9 1152.0,913.5 1152.5,910.5 1152.9,916.9 1153.3,913.6 1153.7,912.1 1154.1,914.5 1154.6,911.6 1155.0,918.1 1155.4,909.9 1155.8,912.5 1156.2,908.7 1156.7,914.6 1157.1,916.1 1157.5,916.5 1157.9,918.1 1158.3,914.2 1158.8,913.1 1159.2,916.7 1159.6,912.8 1160.0,915.3 1160.4,913.2 1160.9,912.6 1161.3,914.4 1161.7,917.5 1162.1,917.0 1162.5,915.1 1163.0,908.0 1163.4,914.9 1163.8,915.9 1164.2,916.4 1164.6,913.2 1165.1,917.7 1165.5,916.0 1165.9,910.3 1166.3,917.2 1166.7,919.5 1167.2,916.0 1167.6,913.4 1168.0,920.1 1168.4,918.1 1168.8,910.8 1169.3,918.3 1169.7,916.7 1170.1,916.4 1170.5,911.2 1170.9,911.5 1171.4,916.3 1171.8,920.8 1172.2,916.3 1172.6,916.2 1173.0,914.4 1173.5,915.0 1173.9,918.7 1174.3,914.1 1174.7,921.0 1175.1,917.4 1175.6,917.0 1176.0,915.9 1176.4,914.5 1176.8,915.7 1177.2,912.7 1177.7,916.6 1178.1,911.6 1178.5,922.2 1178.9,916.4 1179.3,912.7 1179.8,917.3 1180.2,917.0 1180.6,915.3 1181.0,917.4 1181.4,914.8 1181.9,916.6 1182.3,916.5 1182.7,918.3 1183.1,915.7 1183.5,917.9 1184.0,910.1 1184.4,920.0 1184.8,917.8 1185.2,918.8 1185.6,916.9 1186.1,919.8 1186.5,917.6 1186.9,918.3 1187.3,918.0 1187.7,916.6 1188.2,915.7 1188.6,919.4 1189.0,919.7 1189.4,918.1 1189.8,921.5 1190.3,918.7 1190.7,919.7 1191.1,921.3 1191.5,920.4 1191.9,918.2 1192.4,916.0 1192.8,916.9 1193.2,916.2 1193.6,920.9 1194.0,910.1 1194.5,924.1 1194.9,916.9 1195.3,921.9 1195.7,920.1 1196.1,920.7 1196.6,916.2 1197.0,922.1 1197.4,919.3 1197.8,921.2 1198.2,917.4 1198.7,919.7 1199.1,918.1 1199.5,920.7 1199.9,921.7 1200.3,919.5 1200.8,921.2 1201.2,921.4 1201.6,920.0 1202.0,919.5 1202.4,915.4 1202.9,922.9 1203.3,920.7 1203.7,919.7 1204.1,920.9 1204.5,919.1 1205.0,919.7 1205.4,921.7 1205.8,916.8 1206.2,919.8 1206.6,921.2 1207.1,916.8 1207.5,918.0 1207.9,923.8 1208.3,926.2 1208.7,921.6 1209.2,922.5 1209.6,918.8 1210.0,924.3 1210.4,920.9 1210.8,921.3 1211.3,922.1 1211.7,919.7 1212.1,919.4 1212.5,921.1 1212.9,918.6 1213.4,919.8 1213.8,914.9 1214.2,918.8 1214.6,922.5 1215.0,924.1 1215.5,922.9 1215.9,919.4 1216.3,921.6 1216.7,919.2 1217.1,918.9 1217.6,924.0 1218.0,920.7 1218.4,920.8 1218.8,922.1 1219.2,924.0 1219.7,922.1 1220.1,921.2 1220.5,922.7 1220.9,921.7 1221.3,921.2 1221.8,916.6 1222.2,919.9 1222.6,921.8 1223.0,919.7 1223.4,926.7 1223.9,927.8 1224.3,926.4 1224.7,920.2 1225.1,923.6 1225.5,923.5 1226.0,923.4 1226.4,918.7 1226.8,924.8 1227.2,926.7 1227.6,924.7 1228.1,927.9 1228.5,922.1 1228.9,924.5 1229.3,926.0 1229.7,920.7 1230.2,922.7 1230.6,921.2 1231.0,925.2 1231.4,920.4 1231.8,923.9 1232.3,921.9 1232.7,925.4 1233.1,922.0 1233.5,922.9 1233.9,923.9 1234.4,921.5 1234.8,922.3 1235.2,922.8 1235.6,922.2 1236.0,924.0 1236.5,921.6 1236.9,923.6 1237.3,922.7 1237.7,921.9 1238.1,920.7 1238.6,918.9 1239.0,921.7 1239.4,924.6 1239.8,922.5 1240.2,926.9 1240.7,921.0 1241.1,922.4 1241.5,919.5 1241.9,926.0 1242.3,920.1 1242.8,924.4 1243.2,924.0 1243.6,929.5 1244.0,926.5 1244.4,925.3 1244.9,923.7 1245.3,927.9 1245.7,922.6 1246.1,920.5 1246.5,925.6 1247.0,923.4 1247.4,921.9 1247.8,924.4 1248.2,924.8 1248.6,919.9 1249.1,925.9 1249.5,928.4 1249.9,922.7 1250.3,920.1 1250.7,924.3 1251.2,923.4 1251.6,925.6 1252.0,926.0 1252.4,923.5 1252.8,927.4 1253.3,919.2 1253.7,922.1 1254.1,924.3 1254.5,924.8 1254.9,923.7 1255.4,925.0 1255.8,920.8 1256.2,918.4 1256.6,925.9 1257.0,927.2 1257.5,924.0 1257.9,921.2 1258.3,922.4 1258.7,925.5 1259.1,924.6 1259.6,927.3 1260.0,928.1 1260.4,927.1 1260.8,923.6 1261.2,926.7 1261.7,925.4 1262.1,924.7 1262.5,924.7 1262.9,924.0 1263.3,921.8 1263.8,925.2 1264.2,922.4 1264.6,924.2 1265.0,926.2 1265.4,926.2 1265.9,919.9 1266.3,922.7 1266.7,921.7 1267.1,925.0 1267.5,922.6 1268.0,926.6 1268.4,923.3 1268.8,925.5 1269.2,922.1 1269.6,922.6 1270.1,923.8 1270.5,925.5 1270.9,919.5 1271.3,924.6 1271.7,921.0 1272.2,924.9 1272.6,920.2 1273.0,923.5 1273.4,927.3 1273.8,927.9 1274.3,922.1 1274.7,928.5 1275.1,923.5 1275.5,924.6 1275.9,925.7 1276.4,924.8 1276.8,925.4 1277.2,925.0 1277.6,926.6 1278.0,925.1 1278.5,923.6 1278.9,922.2 1279.3,922.2 1279.7,924.4 1280.1,926.3 1280.6,925.4 1281.0,923.9 1281.4,925.7 1281.8,923.4 1282.2,925.0 1282.7,925.8 1283.1,923.9 1283.5,927.9 1283.9,927.4 1284.3,924.1 1284.8,926.3 1285.2,925.3 1285.6,925.6 1286.0,925.6 1286.4,928.0 1286.9,925.7 1287.3,925.7 1287.7,927.2 1288.1,927.1 1288.5,929.1 1289.0,923.2 1289.4,926.7 1289.8,920.9 1290.2,925.2 1290.6,922.2 1291.1,922.1 1291.5,925.0 1291.9,922.8 1292.3,924.6 1292.7,918.9 1293.2,928.5 1293.6,919.1 1294.0,923.8 1294.4,929.3 1294.8,922.2 1295.3,929.4 1295.7,928.0 1296.1,925.2 1296.5,924.6 1296.9,924.8 1297.4,926.1 1297.8,927.8 1298.2,928.6 1298.6,920.6 1299.0,927.6 1299.5,927.0 1299.9,922.7 1300.3,927.7 1300.7,927.8 1301.1,927.8 1301.6,925.5 1302.0,927.5 1302.4,928.5 1302.8,924.2 1303.2,924.6 1303.7,924.4 1304.1,928.5 1304.5,925.8 1304.9,924.1 1305.3,923.4 1305.8,922.9 1306.2,926.4 1306.6,927.8 1307.0,928.8 1307.4,923.6 1307.9,923.7 1308.3,923.7 1308.7,923.9 1309.1,922.4 1309.5,929.5 1310.0,927.0 1310.4,924.8 1310.8,920.0 1311.2,929.1 1311.6,927.8 1312.1,926.3 1312.5,927.7 1312.9,924.4 1313.3,927.5 1313.7,924.8 1314.2,927.1 1314.6,925.7 1315.0,923.1 1315.4,923.6 1315.8,928.6 1316.3,928.5 1316.7,925.7 1317.1,924.5 1317.5,925.1 1317.9,927.1 1318.4,923.0 1318.8,928.5 1319.2,924.4 1319.6,923.7 1320.0,926.2 1320.5,930.7 1320.9,924.7 1321.3,925.5 1321.7,923.6 1322.1,926.9 1322.6,927.0 1323.0,926.4 1323.4,925.5 1323.8,927.3 1324.2,928.3 1324.7,925.4 1325.1,925.9 1325.5,925.0 1325.9,925.2 1326.3,929.3 1326.8,924.2 1327.2,926.9 1327.6,928.9 1328.0,925.4 1328.4,927.9 1328.9,928.3 1329.3,923.2 1329.7,928.9 1330.1,924.3 1330.5,926.9 1331.0,923.1 1331.4,922.9 1331.8,926.1 1332.2,930.4 1332.6,932.6 1333.1,933.1 1333.5,929.9 1333.9,929.6 1334.3,928.6 1334.7,928.4 1335.2,926.1 1335.6,925.9 1336.0,927.9 1336.4,928.0 1336.8,925.5 1337.3,924.2 1337.7,925.3 1338.1,934.8 1338.5,925.4 1338.9,930.4 1339.4,929.9 1339.8,929.6 1340.2,925.7 1340.6,931.8 1341.0,927.9 1341.5,925.8 1341.9,925.5 1342.3,926.9 1342.7,932.2 1343.1,924.3 1343.6,925.7 1344.0,927.3 1344.4,928.4 1344.8,924.8 1345.2,925.0 1345.7,926.0 1346.1,928.9 1346.5,927.0 1346.9,926.9 1347.3,927.9 1347.8,927.7 1348.2,929.6 1348.6,925.7 1349.0,927.5 1349.4,926.0 1349.9,929.2 1350.3,929.4 1350.7,927.0 1351.1,930.3 1351.5,927.1 1352.0,930.8 1352.4,926.7 1352.8,926.6 1353.2,924.2 1353.6,925.3 1354.1,926.8 1354.5,922.8 1354.9,927.7 1355.3,929.7 1355.7,929.0 1356.2,928.2 1356.6,929.3 1357.0,926.5 1357.4,926.7 1357.8,929.7 1358.3,927.5 1358.7,930.1 1359.1,926.8 1359.5,929.5 1359.9,930.8 1360.4,927.7 1360.8,931.9 1361.2,931.6 1361.6,922.4 1362.0,934.1 1362.5,924.3 1362.9,933.7 1363.3,926.0 1363.7,923.2 1364.1,924.9 1364.6,929.2 1365.0,925.8 1365.4,926.8 1365.8,930.9 1366.2,925.8 1366.7,929.3 1367.1,931.1 1367.5,923.9 1367.9,925.5 1368.3,928.7 1368.8,928.2 1369.2,928.9 1369.6,923.7 1370.0,926.4 1370.4,929.2 1370.9,929.7 1371.3,931.3 1371.7,927.5 1372.1,926.7 1372.5,926.2 1373.0,926.3 1373.4,923.7 1373.8,932.4 1374.2,927.5 1374.6,926.9 1375.1,927.0 1375.5,929.8 1375.9,928.8 1376.3,926.7 1376.7,930.9 1377.2,929.2 1377.6,928.1 1378.0,928.6 1378.4,931.3 1378.8,930.2 1379.3,928.4 1379.7,931.0 1380.1,923.7 1380.5,930.3 1380.9,926.7 1381.4,927.2 1381.8,928.2 1382.2,933.0 1382.6,928.4 1383.0,928.4 1383.5,930.2 1383.9,924.2 1384.3,928.3 1384.7,930.4 1385.1,926.5 1385.6,930.2 1386.0,927.1 1386.4,925.4 1386.8,930.9 1387.2,929.0 1387.7,930.6 1388.1,929.3 1388.5,926.4 1388.9,931.2 1389.3,929.9 1389.8,929.9 1390.2,928.0 1390.6,926.4"/>
<polyline stroke-width="6" points="461.5,729.0 461.5,734.0"/>
<polyline stroke-width="6" points="597.5,492.0 597.5,511.0"/>
</g>
<g shape-rendering="crispEdges"><rect x="132.5" y="23.5" width="1363" height="1102" fill="none" stroke="#000" stroke-width="5"/><rect x="235" y="1115" width="5" height="9" fill="#000"/><rect x="340" y="1104" width="5" height="20" fill="#000"/><rect x="445" y="1115" width="5" height="9" fill="#000"/><rect x="550" y="1104" width="5" height="20" fill="#000"/><rect x="655" y="1115" width="5" height="9" fill="#000"/><rect x="759" y="1104" width="5" height="20" fill="#000"/><rect x="864" y="1115" width="5" height="9" fill="#000"/><rect x="969" y="1104" width="5" height="20" fill="#000"/><rect x="1074" y="1115" width="5" height="9" fill="#000"/><rect x="1179" y="1104" width="5" height="20" fill="#000"/><rect x="1283" y="1115" width="5" height="9" fill="#000"/><rect x="1388" y="1104" width="5" height="20" fill="#000"/></g>
<text transform="translate(132.6,1197) scale(1,1.045)" font-size="62" text-anchor="middle">0</text><text transform="translate(342.2,1197) scale(1,1.045)" font-size="62" text-anchor="middle">10</text><text transform="translate(551.8,1197) scale(1,1.045)" font-size="62" text-anchor="middle">20</text><text transform="translate(761.5,1197) scale(1,1.045)" font-size="62" text-anchor="middle">30</text><text transform="translate(971.1,1197) scale(1,1.045)" font-size="62" text-anchor="middle">40</text><text transform="translate(1180.8,1197) scale(1,1.045)" font-size="62" text-anchor="middle">50</text><text transform="translate(1390.4,1197) scale(1,1.045)" font-size="62" text-anchor="middle">60</text>
<text transform="translate(813.5,1305.5) scale(1,1.015)" font-size="67.7" text-anchor="middle">2 theta (dgree)</text>
<text transform="translate(62.8,574) rotate(-90) scale(0.995,1.02)" font-size="68" text-anchor="middle">Intensity</text>
<rect x="701" y="72" width="117" height="9" fill="#000000" shape-rendering="crispEdges"/><text transform="translate(829.8,94.5) scale(1,1.03)" font-size="51.6">control</text>
<rect x="701" y="136" width="117" height="9" fill="#008000" shape-rendering="crispEdges"/><text transform="translate(829.8,158.2) scale(1,1.03)" font-size="51.6">Xyn10A SCB</text>
<rect x="701" y="200" width="117" height="9" fill="#186bdc" shape-rendering="crispEdges"/><text transform="translate(829.8,222.0) scale(1,1.03)" font-size="51.6">C2730+S10048 SCB</text>
<rect x="701" y="264" width="117" height="9" fill="#ff0000" shape-rendering="crispEdges"/><text transform="translate(829.8,285.8) scale(1,1.03)" font-size="51.6">C2730+S10048+Xyn10A SCB</text>
</svg></body></html>
